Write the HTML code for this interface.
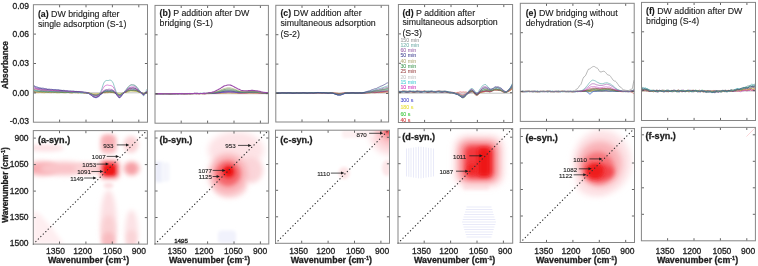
<!DOCTYPE html>
<html><head><meta charset="utf-8"><style>
html,body{margin:0;padding:0;background:#fff;}
svg{display:block;filter:blur(0.3px);}
</style></head><body>
<svg width="758" height="266" viewBox="0 0 758 266" font-family='"Liberation Sans", sans-serif'>
<rect width="758" height="266" fill="#fff"/>
<defs>
<filter id="bl1" x="-50%" y="-50%" width="200%" height="200%"><feGaussianBlur stdDeviation="2.5"/></filter>
<filter id="bl2" x="-50%" y="-50%" width="200%" height="200%"><feGaussianBlur stdDeviation="4"/></filter>
<filter id="bl3" x="-50%" y="-50%" width="200%" height="200%"><feGaussianBlur stdDeviation="1.2"/></filter>
<clipPath id="cba"><rect x="33.3" y="130.6" width="114.10000000000001" height="113.5"/></clipPath>
<clipPath id="cbb"><rect x="155.0" y="131.0" width="113.80000000000001" height="113.0"/></clipPath>
<clipPath id="cbc"><rect x="275.5" y="130.2" width="114.0" height="113.10000000000002"/></clipPath>
<clipPath id="cbd"><rect x="398.0" y="128.6" width="114.70000000000005" height="114.6"/></clipPath>
<clipPath id="cbe"><rect x="520.3" y="128.6" width="114.20000000000005" height="113.9"/></clipPath>
<clipPath id="cbf"><rect x="641.4" y="127.4" width="114.0" height="113.4"/></clipPath>
<clipPath id="cta"><rect x="33.4" y="4.7" width="114.1" height="117.5"/></clipPath>
<clipPath id="ctb"><rect x="155.0" y="5.4" width="113.39999999999998" height="117.8"/></clipPath>
<clipPath id="ctc"><rect x="275.8" y="5.3" width="112.80000000000001" height="116.7"/></clipPath>
<clipPath id="ctd"><rect x="398.4" y="4.5" width="114.20000000000005" height="118.0"/></clipPath>
<clipPath id="cte"><rect x="520.3" y="3.3" width="113.90000000000009" height="118.10000000000001"/></clipPath>
<clipPath id="ctf"><rect x="641.5" y="2.4" width="114.0" height="118.1"/></clipPath>
<filter id="g0.6" x="-50%" y="-50%" width="200%" height="200%"><feGaussianBlur stdDeviation="0.6"/></filter>
<filter id="g1.0" x="-50%" y="-50%" width="200%" height="200%"><feGaussianBlur stdDeviation="1.0"/></filter>
<filter id="g1.2" x="-50%" y="-50%" width="200%" height="200%"><feGaussianBlur stdDeviation="1.2"/></filter>
<filter id="g1.5" x="-50%" y="-50%" width="200%" height="200%"><feGaussianBlur stdDeviation="1.5"/></filter>
<filter id="g1.8" x="-50%" y="-50%" width="200%" height="200%"><feGaussianBlur stdDeviation="1.8"/></filter>
<filter id="g2.0" x="-50%" y="-50%" width="200%" height="200%"><feGaussianBlur stdDeviation="2.0"/></filter>
<filter id="g2.2" x="-50%" y="-50%" width="200%" height="200%"><feGaussianBlur stdDeviation="2.2"/></filter>
<filter id="g2.5" x="-50%" y="-50%" width="200%" height="200%"><feGaussianBlur stdDeviation="2.5"/></filter>
<filter id="g3.0" x="-50%" y="-50%" width="200%" height="200%"><feGaussianBlur stdDeviation="3.0"/></filter>
<filter id="g3.5" x="-50%" y="-50%" width="200%" height="200%"><feGaussianBlur stdDeviation="3.5"/></filter>
<filter id="g4.0" x="-50%" y="-50%" width="200%" height="200%"><feGaussianBlur stdDeviation="4.0"/></filter>
</defs>
<g clip-path="url(#cba)">
<ellipse cx="46.0" cy="148.0" rx="18.0" ry="3.6" fill="#fde0e3" fill-opacity="1" filter="url(#g2.0)"/>
<ellipse cx="42.0" cy="168.5" rx="16.0" ry="7.0" fill="#f8adb2" fill-opacity="1" filter="url(#g2.5)"/>
<ellipse cx="64.0" cy="168.5" rx="24.0" ry="6.8" fill="#fac5c9" fill-opacity="1" filter="url(#g2.5)"/>
<ellipse cx="88.0" cy="168.5" rx="14.0" ry="6.0" fill="#fbd3d6" fill-opacity="1" filter="url(#g2.0)"/>
<rect x="100.5" y="134.5" width="16.0" height="19.0" rx="5.0" fill="#f9bcc0" fill-opacity="1" filter="url(#g2.0)"/>
<ellipse cx="108.5" cy="141.0" rx="5.5" ry="5.0" fill="#f7abb0" fill-opacity="0.8" filter="url(#g2.0)"/>
<ellipse cx="131.0" cy="144.5" rx="7.5" ry="8.5" fill="#fbd3d6" fill-opacity="1" filter="url(#g2.0)"/>
<ellipse cx="131.5" cy="168.5" rx="8.5" ry="7.5" fill="#f9b9bd" fill-opacity="1" filter="url(#g2.0)"/>
<ellipse cx="131.5" cy="168.5" rx="4.5" ry="4.5" fill="#f6a0a5" fill-opacity="0.9" filter="url(#g1.5)"/>
<rect x="99.0" y="159.5" width="21.0" height="20.0" rx="6.0" fill="#f8a0a5" fill-opacity="1" filter="url(#g2.0)"/>
<rect x="101.5" y="162.0" width="16.0" height="15.0" rx="5.0" fill="#f45a60" fill-opacity="1" filter="url(#g1.5)"/>
<rect x="104.0" y="165.0" width="11.0" height="10.0" rx="3.0" fill="#ef1518" fill-opacity="1" filter="url(#g1.2)"/>
<ellipse cx="108.5" cy="222.0" rx="8.0" ry="32.0" fill="#fce0e3" fill-opacity="1" filter="url(#g2.5)"/>
<ellipse cx="108.5" cy="232.0" rx="7.0" ry="17.0" fill="#fad0d3" fill-opacity="1" filter="url(#g2.5)"/>
<ellipse cx="108.5" cy="240.0" rx="6.0" ry="8.0" fill="#f8bcc0" fill-opacity="1" filter="url(#g2.0)"/>
<ellipse cx="131.5" cy="232.0" rx="6.5" ry="22.0" fill="#fce2e5" fill-opacity="1" filter="url(#g2.5)"/>
<ellipse cx="131.5" cy="238.0" rx="5.0" ry="8.0" fill="#fad4d7" fill-opacity="1" filter="url(#g2.0)"/>
<ellipse cx="108.5" cy="185.5" rx="5.0" ry="3.0" fill="#fcdfe2" fill-opacity="1" filter="url(#g1.5)"/>
<path d="M33,211 L40,214 L52,228 L64,244 L33,244 Z" fill="#feeef0" filter="url(#g2.0)"/>
</g>
<g clip-path="url(#cbb)">
<rect x="155.0" y="161.5" width="8.0" height="21.0" rx="2.4" fill="#eceefa" fill-opacity="1" filter="url(#g1.5)"/>
<rect x="161.5" y="162.5" width="8.0" height="19.0" rx="2.4" fill="#f4f5fc" fill-opacity="1" filter="url(#g1.5)"/>
<ellipse cx="236.0" cy="150.0" rx="28.0" ry="18.0" fill="#fde3e6" fill-opacity="1" filter="url(#g3.0)"/>
<ellipse cx="251.0" cy="170.0" rx="12.0" ry="13.0" fill="#fbd5d9" fill-opacity="1" filter="url(#g2.5)"/>
<ellipse cx="230.0" cy="186.0" rx="17.0" ry="12.0" fill="#fcdadd" fill-opacity="1" filter="url(#g2.5)"/>
<ellipse cx="228.0" cy="174.0" rx="19.0" ry="20.0" fill="#f9b0b5" fill-opacity="1" filter="url(#g3.0)"/>
<ellipse cx="228.0" cy="173.5" rx="12.5" ry="12.5" fill="#f5686d" fill-opacity="1" filter="url(#g2.2)"/>
<ellipse cx="228.5" cy="172.0" rx="7.0" ry="7.0" fill="#f13a3e" fill-opacity="1" filter="url(#g1.8)"/>
<ellipse cx="228.5" cy="171.5" rx="4.0" ry="4.0" fill="#ee1010" fill-opacity="1" filter="url(#g1.2)"/>
<rect x="218.0" y="230.5" width="18.0" height="13.0" rx="3.9" fill="#f1f2fc" fill-opacity="1" filter="url(#g1.5)"/>
</g>
<g clip-path="url(#cbc)">
<ellipse cx="392.0" cy="128.0" rx="24.0" ry="28.0" fill="#fde0e3" fill-opacity="1" filter="url(#g3.0)"/>
<ellipse cx="391.0" cy="129.0" rx="15.0" ry="18.0" fill="#fbc3c7" fill-opacity="1" filter="url(#g3.0)"/>
<ellipse cx="390.0" cy="130.0" rx="8.0" ry="9.0" fill="#f5868c" fill-opacity="1" filter="url(#g2.5)"/>
<ellipse cx="389.0" cy="130.0" rx="4.0" ry="4.0" fill="#f04a50" fill-opacity="1" filter="url(#g1.5)"/>
<ellipse cx="344.0" cy="173.0" rx="5.5" ry="6.0" fill="#fde3e5" fill-opacity="1" filter="url(#g1.5)"/>
<ellipse cx="387.0" cy="168.0" rx="5.0" ry="8.0" fill="#fde6e8" fill-opacity="1" filter="url(#g1.5)"/>
<rect x="342.0" y="130.0" width="32.0" height="8.0" rx="2.4" fill="#fdf0f1" fill-opacity="1" filter="url(#g1.5)"/>
</g>
<g clip-path="url(#cbd)">
<g filter="url(#g0.6)"><rect x="406.0" y="148.5" width="1.0" height="27.9" fill="#c4c8f0" fill-opacity="0.38"/><rect x="408.3" y="148.2" width="1.0" height="28.6" fill="#c4c8f0" fill-opacity="0.38"/><rect x="410.5" y="147.8" width="1.0" height="29.3" fill="#c4c8f0" fill-opacity="0.38"/><rect x="413.0" y="147.5" width="1.0" height="30.1" fill="#c4c8f0" fill-opacity="0.38"/><rect x="415.5" y="147.1" width="1.0" height="30.8" fill="#c4c8f0" fill-opacity="0.38"/><rect x="418.0" y="146.7" width="1.0" height="31.6" fill="#c4c8f0" fill-opacity="0.38"/><rect x="420.5" y="146.7" width="1.0" height="31.7" fill="#c4c8f0" fill-opacity="0.38"/><rect x="423.0" y="147.0" width="1.0" height="30.9" fill="#c4c8f0" fill-opacity="0.38"/><rect x="425.5" y="147.4" width="1.0" height="30.2" fill="#c4c8f0" fill-opacity="0.38"/><rect x="428.0" y="147.8" width="1.0" height="29.4" fill="#c4c8f0" fill-opacity="0.38"/><rect x="430.5" y="148.2" width="1.0" height="28.7" fill="#c4c8f0" fill-opacity="0.38"/><rect x="433.0" y="148.5" width="1.0" height="27.9" fill="#c4c8f0" fill-opacity="0.38"/><rect x="466.5" y="206.5" width="25.0" height="1.0" fill="#c4c8f0" fill-opacity="0.38"/><rect x="465.8" y="209.0" width="26.5" height="1.0" fill="#c4c8f0" fill-opacity="0.38"/><rect x="465.0" y="211.5" width="28.0" height="1.0" fill="#c4c8f0" fill-opacity="0.38"/><rect x="464.2" y="214.0" width="29.5" height="1.0" fill="#c4c8f0" fill-opacity="0.38"/><rect x="463.5" y="216.5" width="31.0" height="1.0" fill="#c4c8f0" fill-opacity="0.38"/><rect x="462.8" y="219.0" width="32.5" height="1.0" fill="#c4c8f0" fill-opacity="0.38"/><rect x="462.0" y="221.5" width="34.0" height="1.0" fill="#c4c8f0" fill-opacity="0.38"/><rect x="462.8" y="224.0" width="32.5" height="1.0" fill="#c4c8f0" fill-opacity="0.38"/><rect x="463.5" y="226.5" width="31.0" height="1.0" fill="#c4c8f0" fill-opacity="0.38"/><rect x="464.2" y="229.0" width="29.5" height="1.0" fill="#c4c8f0" fill-opacity="0.38"/><rect x="465.0" y="231.5" width="28.0" height="1.0" fill="#c4c8f0" fill-opacity="0.38"/><rect x="465.8" y="234.0" width="26.5" height="1.0" fill="#c4c8f0" fill-opacity="0.38"/><rect x="466.5" y="236.5" width="25.0" height="1.0" fill="#c4c8f0" fill-opacity="0.38"/></g>
<rect x="463.0" y="184.0" width="26.0" height="6.0" rx="1.8" fill="#fde8ea" fill-opacity="1" filter="url(#g1.5)"/>
<rect x="455.0" y="136.0" width="48.0" height="50.0" rx="12.0" fill="#fcd0d4" fill-opacity="1" filter="url(#g3.5)"/>
<rect x="459.5" y="141.5" width="38.0" height="40.0" rx="9.0" fill="#f88a90" fill-opacity="1" filter="url(#g3.0)"/>
<rect x="465.0" y="146.0" width="28.0" height="32.0" rx="6.0" fill="#f3383e" fill-opacity="1" filter="url(#g2.5)"/>
<rect x="478.0" y="148.0" width="12.0" height="28.0" rx="3.0" fill="#ee1414" fill-opacity="1" filter="url(#g2.0)"/>
<ellipse cx="472.0" cy="169.0" rx="5.0" ry="5.0" fill="#f02020" fill-opacity="1" filter="url(#g2.0)"/>
</g>
<g clip-path="url(#cbe)">
<ellipse cx="602.0" cy="162.0" rx="29.0" ry="32.0" fill="#fde2e5" fill-opacity="1" filter="url(#g3.0)"/>
<ellipse cx="595.0" cy="184.0" rx="18.0" ry="12.0" fill="#fde2e5" fill-opacity="1" filter="url(#g3.0)"/>
<ellipse cx="600.0" cy="164.0" rx="22.0" ry="23.0" fill="#f9b3b8" fill-opacity="1" filter="url(#g3.0)"/>
<ellipse cx="598.0" cy="168.0" rx="16.0" ry="16.0" fill="#f6747a" fill-opacity="1" filter="url(#g2.5)"/>
<ellipse cx="600.0" cy="172.0" rx="14.0" ry="8.0" fill="#f3454b" fill-opacity="1" filter="url(#g2.5)"/>
<ellipse cx="595.0" cy="171.0" rx="9.0" ry="8.0" fill="#ef1a1a" fill-opacity="1" filter="url(#g2.0)"/>
</g>
<g clip-path="url(#cbf)">
</g>
<line x1="33.3" y1="244.1" x2="146.8" y2="130.6" stroke="#303030" stroke-width="1.15" stroke-linecap="round" stroke-dasharray="0.3,3.2"/>
<line x1="155.0" y1="244.0" x2="268.0" y2="131.0" stroke="#303030" stroke-width="1.15" stroke-linecap="round" stroke-dasharray="0.3,3.2"/>
<line x1="275.5" y1="243.3" x2="388.6" y2="130.2" stroke="#303030" stroke-width="1.15" stroke-linecap="round" stroke-dasharray="0.3,3.2"/>
<line x1="398.0" y1="243.2" x2="512.6" y2="128.6" stroke="#303030" stroke-width="1.15" stroke-linecap="round" stroke-dasharray="0.3,3.2"/>
<line x1="520.3" y1="242.5" x2="634.2" y2="128.6" stroke="#303030" stroke-width="1.15" stroke-linecap="round" stroke-dasharray="0.3,3.2"/>
<line x1="746.5" y1="136.5" x2="755.4" y2="127.6" stroke="#f9c4c7" stroke-width="0.7"/>
<g stroke="#858585" stroke-width="0.8" fill="none">
<g stroke="#555" stroke-width="0.9">
<line x1="59.50" y1="244.10" x2="59.50" y2="241.50"/>
<line x1="59.50" y1="130.60" x2="59.50" y2="133.20"/>
<line x1="85.90" y1="244.10" x2="85.90" y2="241.50"/>
<line x1="85.90" y1="130.60" x2="85.90" y2="133.20"/>
<line x1="112.30" y1="244.10" x2="112.30" y2="241.50"/>
<line x1="112.30" y1="130.60" x2="112.30" y2="133.20"/>
<line x1="138.70" y1="244.10" x2="138.70" y2="241.50"/>
<line x1="138.70" y1="130.60" x2="138.70" y2="133.20"/>
<line x1="33.30" y1="217.60" x2="35.90" y2="217.60"/>
<line x1="147.40" y1="217.60" x2="144.80" y2="217.60"/>
<line x1="33.30" y1="191.10" x2="35.90" y2="191.10"/>
<line x1="147.40" y1="191.10" x2="144.80" y2="191.10"/>
<line x1="33.30" y1="164.60" x2="35.90" y2="164.60"/>
<line x1="147.40" y1="164.60" x2="144.80" y2="164.60"/>
<line x1="33.30" y1="138.10" x2="35.90" y2="138.10"/>
<line x1="147.40" y1="138.10" x2="144.80" y2="138.10"/>
</g>
<rect x="33.30" y="130.60" width="114.10" height="113.50" fill="none" stroke="#858585" stroke-width="1"/>
<g stroke="#555" stroke-width="0.9">
<line x1="181.20" y1="244.00" x2="181.20" y2="241.40"/>
<line x1="181.20" y1="131.00" x2="181.20" y2="133.60"/>
<line x1="207.60" y1="244.00" x2="207.60" y2="241.40"/>
<line x1="207.60" y1="131.00" x2="207.60" y2="133.60"/>
<line x1="234.00" y1="244.00" x2="234.00" y2="241.40"/>
<line x1="234.00" y1="131.00" x2="234.00" y2="133.60"/>
<line x1="260.40" y1="244.00" x2="260.40" y2="241.40"/>
<line x1="260.40" y1="131.00" x2="260.40" y2="133.60"/>
<line x1="155.00" y1="217.50" x2="157.60" y2="217.50"/>
<line x1="268.80" y1="217.50" x2="266.20" y2="217.50"/>
<line x1="155.00" y1="191.00" x2="157.60" y2="191.00"/>
<line x1="268.80" y1="191.00" x2="266.20" y2="191.00"/>
<line x1="155.00" y1="164.50" x2="157.60" y2="164.50"/>
<line x1="268.80" y1="164.50" x2="266.20" y2="164.50"/>
<line x1="155.00" y1="138.00" x2="157.60" y2="138.00"/>
<line x1="268.80" y1="138.00" x2="266.20" y2="138.00"/>
</g>
<rect x="155.00" y="131.00" width="113.80" height="113.00" fill="none" stroke="#858585" stroke-width="1"/>
<g stroke="#555" stroke-width="0.9">
<line x1="301.70" y1="243.30" x2="301.70" y2="240.70"/>
<line x1="301.70" y1="130.20" x2="301.70" y2="132.80"/>
<line x1="328.10" y1="243.30" x2="328.10" y2="240.70"/>
<line x1="328.10" y1="130.20" x2="328.10" y2="132.80"/>
<line x1="354.50" y1="243.30" x2="354.50" y2="240.70"/>
<line x1="354.50" y1="130.20" x2="354.50" y2="132.80"/>
<line x1="380.90" y1="243.30" x2="380.90" y2="240.70"/>
<line x1="380.90" y1="130.20" x2="380.90" y2="132.80"/>
<line x1="275.50" y1="216.80" x2="278.10" y2="216.80"/>
<line x1="389.50" y1="216.80" x2="386.90" y2="216.80"/>
<line x1="275.50" y1="190.30" x2="278.10" y2="190.30"/>
<line x1="389.50" y1="190.30" x2="386.90" y2="190.30"/>
<line x1="275.50" y1="163.80" x2="278.10" y2="163.80"/>
<line x1="389.50" y1="163.80" x2="386.90" y2="163.80"/>
<line x1="275.50" y1="137.30" x2="278.10" y2="137.30"/>
<line x1="389.50" y1="137.30" x2="386.90" y2="137.30"/>
</g>
<rect x="275.50" y="130.20" width="114.00" height="113.10" fill="none" stroke="#858585" stroke-width="1"/>
<g stroke="#555" stroke-width="0.9">
<line x1="424.20" y1="243.20" x2="424.20" y2="240.60"/>
<line x1="424.20" y1="128.60" x2="424.20" y2="131.20"/>
<line x1="450.60" y1="243.20" x2="450.60" y2="240.60"/>
<line x1="450.60" y1="128.60" x2="450.60" y2="131.20"/>
<line x1="477.00" y1="243.20" x2="477.00" y2="240.60"/>
<line x1="477.00" y1="128.60" x2="477.00" y2="131.20"/>
<line x1="503.40" y1="243.20" x2="503.40" y2="240.60"/>
<line x1="503.40" y1="128.60" x2="503.40" y2="131.20"/>
<line x1="398.00" y1="216.70" x2="400.60" y2="216.70"/>
<line x1="512.70" y1="216.70" x2="510.10" y2="216.70"/>
<line x1="398.00" y1="190.20" x2="400.60" y2="190.20"/>
<line x1="512.70" y1="190.20" x2="510.10" y2="190.20"/>
<line x1="398.00" y1="163.70" x2="400.60" y2="163.70"/>
<line x1="512.70" y1="163.70" x2="510.10" y2="163.70"/>
<line x1="398.00" y1="137.20" x2="400.60" y2="137.20"/>
<line x1="512.70" y1="137.20" x2="510.10" y2="137.20"/>
</g>
<rect x="398.00" y="128.60" width="114.70" height="114.60" fill="none" stroke="#858585" stroke-width="1"/>
<g stroke="#555" stroke-width="0.9">
<line x1="546.50" y1="242.50" x2="546.50" y2="239.90"/>
<line x1="546.50" y1="128.60" x2="546.50" y2="131.20"/>
<line x1="572.90" y1="242.50" x2="572.90" y2="239.90"/>
<line x1="572.90" y1="128.60" x2="572.90" y2="131.20"/>
<line x1="599.30" y1="242.50" x2="599.30" y2="239.90"/>
<line x1="599.30" y1="128.60" x2="599.30" y2="131.20"/>
<line x1="625.70" y1="242.50" x2="625.70" y2="239.90"/>
<line x1="625.70" y1="128.60" x2="625.70" y2="131.20"/>
<line x1="520.30" y1="216.00" x2="522.90" y2="216.00"/>
<line x1="634.50" y1="216.00" x2="631.90" y2="216.00"/>
<line x1="520.30" y1="189.50" x2="522.90" y2="189.50"/>
<line x1="634.50" y1="189.50" x2="631.90" y2="189.50"/>
<line x1="520.30" y1="163.00" x2="522.90" y2="163.00"/>
<line x1="634.50" y1="163.00" x2="631.90" y2="163.00"/>
<line x1="520.30" y1="136.50" x2="522.90" y2="136.50"/>
<line x1="634.50" y1="136.50" x2="631.90" y2="136.50"/>
</g>
<rect x="520.30" y="128.60" width="114.20" height="113.90" fill="none" stroke="#858585" stroke-width="1"/>
<g stroke="#555" stroke-width="0.9">
<line x1="667.60" y1="240.80" x2="667.60" y2="238.20"/>
<line x1="667.60" y1="127.40" x2="667.60" y2="130.00"/>
<line x1="694.00" y1="240.80" x2="694.00" y2="238.20"/>
<line x1="694.00" y1="127.40" x2="694.00" y2="130.00"/>
<line x1="720.40" y1="240.80" x2="720.40" y2="238.20"/>
<line x1="720.40" y1="127.40" x2="720.40" y2="130.00"/>
<line x1="746.80" y1="240.80" x2="746.80" y2="238.20"/>
<line x1="746.80" y1="127.40" x2="746.80" y2="130.00"/>
<line x1="641.40" y1="214.30" x2="644.00" y2="214.30"/>
<line x1="755.40" y1="214.30" x2="752.80" y2="214.30"/>
<line x1="641.40" y1="187.80" x2="644.00" y2="187.80"/>
<line x1="755.40" y1="187.80" x2="752.80" y2="187.80"/>
<line x1="641.40" y1="161.30" x2="644.00" y2="161.30"/>
<line x1="755.40" y1="161.30" x2="752.80" y2="161.30"/>
<line x1="641.40" y1="134.80" x2="644.00" y2="134.80"/>
<line x1="755.40" y1="134.80" x2="752.80" y2="134.80"/>
</g>
<rect x="641.40" y="127.40" width="114.00" height="113.40" fill="none" stroke="#858585" stroke-width="1"/>
</g>
<g clip-path="url(#cta)">
<line x1="33.4" y1="92.8" x2="147.5" y2="92.8" stroke="#a8a8a8" stroke-width="0.7"/>
<polyline points="33.4,88.87 34.4,89.50 35.3,89.68 36.3,89.85 37.2,90.03 38.2,89.90 39.1,89.95 40.1,90.29 41.0,90.40 42.0,90.50 42.9,90.74 43.9,90.68 44.8,90.54 45.8,90.75 46.7,90.88 47.7,90.92 48.6,91.22 49.6,91.32 50.5,91.10 51.5,91.09 52.4,91.10 53.4,90.95 54.3,91.11 55.3,91.36 56.2,91.28 57.2,91.27 58.1,91.35 59.1,91.17 60.0,91.19 61.0,91.51 61.9,91.63 62.9,91.71 63.8,91.94 64.8,91.85 65.7,91.66 66.7,91.79 67.6,91.86 68.6,91.83 69.5,92.07 70.5,92.13 71.4,91.89 72.4,91.86 73.3,91.88 74.3,91.76 75.2,91.95 76.2,92.26 77.1,92.23 78.1,92.26 79.0,92.38 80.0,92.23 80.9,92.22 81.9,92.53 82.8,92.61 83.8,92.65 84.7,92.84 85.7,92.75 86.6,92.57 87.6,92.78 88.5,93.01 89.5,93.22 90.4,93.78 91.4,94.24 92.4,94.40 93.3,94.73 94.3,95.05 95.2,95.07 96.2,95.23 97.1,95.35 98.1,95.01 99.0,94.61 100.0,94.22 100.9,93.50 101.9,92.86 102.8,92.58 103.8,92.20 104.7,91.88 105.7,91.85 106.6,91.62 107.6,91.31 108.5,91.38 109.5,91.45 110.4,91.44 111.4,91.73 112.3,91.97 113.3,91.97 114.2,92.29 115.2,92.84 116.1,93.38 117.1,94.35 118.0,95.44 119.0,95.90 119.9,95.83 120.9,95.31 121.8,94.23 122.8,93.26 123.7,92.77 124.7,92.19 125.6,91.54 126.6,91.02 127.5,90.24 128.5,89.41 129.4,89.08 130.4,88.93 131.3,88.81 132.3,89.04 133.2,89.16 134.2,88.99 135.1,89.10 136.1,89.46 137.0,89.80 138.0,90.53 138.9,91.43 139.9,91.92 140.8,92.31 141.8,92.87 142.7,93.27 143.7,93.42 144.6,93.32 145.6,92.90 146.5,92.61 147.5,92.63" stroke="#983838" stroke-width="0.6" fill="none"/>
<polyline points="33.4,92.00 34.4,92.06 35.3,92.40 36.3,92.50 37.2,92.52 38.2,92.69 39.1,92.57 40.1,92.38 41.0,92.55 42.0,92.64 42.9,92.60 43.9,92.78 44.8,92.77 45.8,92.46 46.7,92.39 47.7,92.41 48.6,92.29 49.6,92.45 50.5,92.69 51.5,92.57 52.4,92.52 53.4,92.60 54.3,92.44 55.3,92.47 56.2,92.78 57.2,92.84 58.1,92.81 59.1,92.91 60.0,92.73 61.0,92.48 61.9,92.58 62.9,92.63 63.8,92.57 64.8,92.74 65.7,92.75 66.7,92.47 67.6,92.45 68.6,92.53 69.5,92.46 70.5,92.66 71.4,92.95 72.4,92.86 73.3,92.80 74.3,92.86 75.2,92.67 76.2,92.63 77.1,92.89 78.1,92.90 79.0,92.81 80.0,92.88 80.9,92.69 81.9,92.42 82.8,92.54 83.8,92.65 84.7,92.64 85.7,92.88 86.6,92.99 87.6,92.82 88.5,92.90 89.5,93.10 90.4,93.15 91.4,93.47 92.4,93.86 93.3,93.86 94.3,93.83 95.2,93.88 96.2,93.64 97.1,93.48 98.1,93.60 99.0,93.47 100.0,93.23 100.9,93.16 101.9,92.85 102.8,92.48 103.8,92.52 104.7,92.58 105.7,92.54 106.6,92.75 107.6,92.82 108.5,92.56 109.5,92.51 110.4,92.56 111.4,92.44 112.3,92.56 113.3,92.82 114.2,92.75 115.2,92.75 116.1,92.96 117.1,93.03 118.0,93.24 119.0,93.72 119.9,93.81 120.9,93.61 121.8,93.49 122.8,93.12 123.7,92.66 124.7,92.59 125.6,92.48 126.6,92.19 127.5,92.10 128.5,91.91 129.4,91.44 130.4,91.23 131.3,91.21 132.3,91.06 133.2,91.16 134.2,91.43 135.1,91.39 136.1,91.42 137.0,91.69 138.0,91.79 138.9,92.02 139.9,92.56 140.8,92.85 141.8,93.04 142.7,93.45 143.7,93.44 144.6,92.98 145.6,92.85 146.5,92.86 147.5,92.76" stroke="#d8cc3c" stroke-width="0.6" fill="none"/>
<polyline points="33.4,85.86 34.4,86.54 35.3,87.16 36.3,87.77 37.2,87.91 38.2,87.96 39.1,88.22 40.1,88.31 41.0,88.44 42.0,88.89 42.9,89.11 43.9,89.10 44.8,89.28 45.8,89.32 46.7,89.23 47.7,89.48 48.6,89.76 49.6,89.77 50.5,89.92 51.5,90.00 52.4,89.75 53.4,89.72 54.3,89.91 55.3,89.93 56.2,90.08 57.2,90.37 58.1,90.31 59.1,90.22 60.0,90.39 61.0,90.43 61.9,90.50 62.9,90.90 63.8,91.07 64.8,91.00 65.7,91.11 66.7,91.08 67.6,90.90 68.6,91.08 69.5,91.30 70.5,91.27 71.4,91.39 72.4,91.48 73.3,91.25 74.3,91.24 75.2,91.48 76.2,91.54 77.1,91.73 78.1,92.06 79.0,92.03 80.0,91.93 80.9,92.08 81.9,92.08 82.8,92.11 83.8,92.46 84.7,92.63 85.7,92.59 86.6,92.80 87.6,92.99 88.5,93.16 89.5,93.83 90.4,94.71 91.4,95.42 92.4,96.30 93.3,97.09 94.3,97.38 95.2,97.60 96.2,97.75 97.1,97.42 98.1,96.95 99.0,96.48 100.0,95.56 100.9,94.51 101.9,93.76 102.8,92.97 103.8,92.35 104.7,92.24 105.7,92.10 106.6,91.81 107.6,91.78 108.5,91.69 109.5,91.47 110.4,91.63 111.4,91.91 112.3,91.99 113.3,92.29 114.2,92.73 115.2,93.05 116.1,93.84 117.1,95.17 118.0,96.36 119.0,97.23 119.9,97.47 120.9,96.54 121.8,95.07 122.8,93.92 123.7,92.93 124.7,92.20 125.6,91.92 126.6,91.51 127.5,90.86 128.5,90.47 129.4,90.12 130.4,89.73 131.3,89.79 132.3,90.01 133.2,89.98 134.2,90.08 135.1,90.27 136.1,90.24 137.0,90.48 138.0,91.09 138.9,91.54 139.9,92.02 140.8,92.62 141.8,92.96 142.7,93.33 143.7,93.63 144.6,93.23 145.6,92.58 146.5,92.42 147.5,92.24" stroke="#4444c8" stroke-width="0.6" fill="none"/>
<polyline points="33.4,90.40 34.4,90.61 35.3,90.74 36.3,90.65 37.2,90.85 38.2,91.17 39.1,91.17 40.1,91.25 41.0,91.39 42.0,91.21 42.9,91.18 43.9,91.46 44.8,91.55 45.8,91.65 46.7,91.91 47.7,91.84 48.6,91.62 49.6,91.69 50.5,91.68 51.5,91.60 52.4,91.84 53.4,91.94 54.3,91.74 55.3,91.73 56.2,91.72 57.2,91.55 58.1,91.70 59.1,92.01 60.0,92.03 61.0,92.10 61.9,92.23 62.9,92.04 63.8,91.97 64.8,92.20 65.7,92.24 66.7,92.27 67.6,92.47 68.6,92.35 69.5,92.08 70.5,92.11 71.4,92.10 72.4,92.04 73.3,92.30 74.3,92.46 75.2,92.31 76.2,92.35 77.1,92.39 78.1,92.25 79.0,92.41 80.0,92.72 80.9,92.72 81.9,92.75 82.8,92.84 83.8,92.61 84.7,92.49 85.7,92.71 86.6,92.80 87.6,92.92 88.5,93.31 89.5,93.47 90.4,93.54 91.4,93.98 92.4,94.39 93.3,94.70 94.3,95.24 95.2,95.55 96.2,95.37 97.1,95.20 98.1,94.92 99.0,94.35 100.0,93.97 100.9,93.68 101.9,93.02 102.8,92.42 103.8,92.01 104.7,91.43 105.7,91.09 106.6,91.19 107.6,91.19 108.5,91.20 109.5,91.43 110.4,91.40 111.4,91.23 112.3,91.43 113.3,91.72 114.2,92.07 115.2,92.88 116.1,93.77 117.1,94.43 118.0,95.22 119.0,95.75 119.9,95.53 120.9,95.04 121.8,94.45 122.8,93.59 123.7,92.91 124.7,92.46 125.6,91.74 126.6,91.09 127.5,90.80 128.5,90.43 129.4,90.14 130.4,90.19 131.3,90.07 132.3,89.80 133.2,89.84 134.2,89.89 135.1,89.92 136.1,90.38 137.0,90.90 138.0,91.16 138.9,91.58 139.9,92.01 140.8,92.20 141.8,92.85 142.7,93.96 143.7,94.27 144.6,93.73 145.6,93.03 146.5,92.30 147.5,91.82" stroke="#3cc4cc" stroke-width="0.6" fill="none"/>
<polyline points="33.4,91.31 34.4,91.46 35.3,91.84 36.3,92.02 37.2,91.85 38.2,91.86 39.1,91.86 40.1,91.68 41.0,91.81 42.0,92.05 42.9,91.96 43.9,91.95 44.8,92.01 45.8,91.80 46.7,91.76 47.7,92.04 48.6,92.13 49.6,92.20 50.5,92.43 51.5,92.34 52.4,92.12 53.4,92.22 54.3,92.25 55.3,92.19 56.2,92.41 57.2,92.48 58.1,92.22 59.1,92.17 60.0,92.15 61.0,91.98 61.9,92.13 62.9,92.41 63.8,92.39 64.8,92.41 65.7,92.52 66.7,92.34 67.6,92.29 68.6,92.55 69.5,92.62 70.5,92.63 71.4,92.80 72.4,92.67 73.3,92.38 74.3,92.42 75.2,92.43 76.2,92.36 77.1,92.59 78.1,92.69 79.0,92.49 80.0,92.48 80.9,92.53 81.9,92.41 82.8,92.59 83.8,92.91 84.7,92.92 85.7,92.95 86.6,93.10 87.6,92.97 88.5,93.00 89.5,93.41 90.4,93.68 91.4,93.93 92.4,94.37 93.3,94.49 94.3,94.41 95.2,94.57 96.2,94.59 97.1,94.42 98.1,94.46 99.0,94.33 100.0,93.83 100.9,93.49 101.9,93.20 102.8,92.75 103.8,92.64 104.7,92.75 105.7,92.58 106.6,92.46 107.6,92.45 108.5,92.17 109.5,92.00 110.4,92.19 111.4,92.24 112.3,92.27 113.3,92.55 114.2,92.65 115.2,92.72 116.1,93.30 117.1,94.04 118.0,94.71 119.0,95.43 119.9,95.60 120.9,94.96 121.8,94.22 122.8,93.53 123.7,92.78 124.7,92.39 125.6,92.20 126.6,91.67 127.5,91.16 128.5,90.82 129.4,90.32 130.4,90.03 131.3,90.20 132.3,90.29 133.2,90.32 134.2,90.58 135.1,90.65 136.1,90.63 137.0,91.03 138.0,91.50 138.9,91.85 139.9,92.42 140.8,92.88 141.8,93.18 142.7,93.88 143.7,94.16 144.6,93.39 145.6,92.73 146.5,92.61 147.5,92.39" stroke="#d44444" stroke-width="0.6" fill="none"/>
<polyline points="33.4,91.82 34.4,92.07 35.3,92.11 36.3,92.32 37.2,92.36 38.2,92.07 39.1,92.02 40.1,92.10 41.0,92.00 42.0,92.14 42.9,92.37 43.9,92.24 44.8,92.14 45.8,92.22 46.7,92.12 47.7,92.14 48.6,92.48 49.6,92.58 50.5,92.52 51.5,92.62 52.4,92.49 53.4,92.25 54.3,92.38 55.3,92.49 56.2,92.41 57.2,92.54 58.1,92.55 59.1,92.25 60.0,92.20 61.0,92.31 61.9,92.26 62.9,92.44 63.8,92.72 64.8,92.63 65.7,92.55 66.7,92.63 67.6,92.51 68.6,92.49 69.5,92.78 70.5,92.83 71.4,92.71 72.4,92.75 73.3,92.59 74.3,92.32 75.2,92.44 76.2,92.57 77.1,92.52 78.1,92.69 79.0,92.77 80.0,92.53 80.9,92.52 81.9,92.67 82.8,92.65 83.8,92.82 84.7,93.11 85.7,93.02 86.6,92.92 87.6,93.03 88.5,92.97 89.5,93.04 90.4,93.47 91.4,93.72 92.4,93.81 93.3,94.07 94.3,94.10 95.2,93.94 96.2,94.08 97.1,94.16 98.1,93.99 99.0,93.96 100.0,93.81 100.9,93.29 101.9,92.97 102.8,92.83 103.8,92.56 104.7,92.52 105.7,92.66 106.6,92.45 107.6,92.24 108.5,92.24 109.5,92.06 110.4,91.98 111.4,92.27 112.3,92.40 113.3,92.41 114.2,92.67 115.2,92.83 116.1,92.94 117.1,93.51 118.0,94.12 119.0,94.37 119.9,94.53 120.9,94.33 121.8,93.61 122.8,93.08 123.7,92.79 124.7,92.37 125.6,92.12 126.6,92.00 127.5,91.52 128.5,91.05 129.4,90.89 130.4,90.65 131.3,90.56 132.3,90.86 133.2,91.00 134.2,90.96 135.1,91.16 136.1,91.25 137.0,91.27 138.0,91.69 138.9,92.17 139.9,92.39 140.8,92.76 141.8,93.18 142.7,93.42 143.7,93.51 144.6,93.22 145.6,92.73 146.5,92.69 147.5,92.95" stroke="#a8a468" stroke-width="0.6" fill="none"/>
<polyline points="33.4,91.02 34.4,91.04 35.3,90.99 36.3,91.15 37.2,91.13 38.2,91.19 39.1,91.56 40.1,91.71 41.0,91.66 42.0,91.79 42.9,91.76 43.9,91.60 44.8,91.79 45.8,92.00 46.7,91.96 47.7,92.07 48.6,92.10 49.6,91.79 50.5,91.70 51.5,91.83 52.4,91.77 53.4,91.88 54.3,92.13 55.3,92.02 56.2,91.89 57.2,92.00 58.1,91.96 59.1,91.98 60.0,92.32 61.0,92.44 61.9,92.34 62.9,92.41 63.8,92.32 64.8,92.08 65.7,92.20 66.7,92.36 67.6,92.29 68.6,92.38 69.5,92.42 70.5,92.14 71.4,92.08 72.4,92.26 73.3,92.26 74.3,92.41 75.2,92.71 76.2,92.63 77.1,92.50 78.1,92.60 79.0,92.53 80.0,92.49 80.9,92.78 81.9,92.85 82.8,92.70 83.8,92.73 84.7,92.64 85.7,92.44 86.6,92.64 87.6,92.96 88.5,93.12 89.5,93.51 90.4,93.93 91.4,94.06 92.4,94.39 93.3,94.92 94.3,95.17 95.2,95.40 96.2,95.63 97.1,95.33 98.1,94.83 99.0,94.49 100.0,93.93 100.9,93.36 101.9,93.11 102.8,92.72 103.8,92.21 104.7,92.00 105.7,91.79 106.6,91.51 107.6,91.63 108.5,91.86 109.5,91.85 110.4,91.99 111.4,92.12 112.3,91.95 113.3,92.02 114.2,92.42 115.2,92.74 116.1,93.27 117.1,94.05 118.0,94.46 119.0,94.60 119.9,94.64 120.9,94.18 121.8,93.55 122.8,93.28 123.7,92.95 124.7,92.44 125.6,92.12 126.6,91.66 127.5,91.03 128.5,90.80 129.4,90.74 130.4,90.54 131.3,90.55 132.3,90.59 133.2,90.29 134.2,90.18 135.1,90.39 136.1,90.54 137.0,90.91 138.0,91.55 138.9,91.86 139.9,92.04 140.8,92.44 141.8,92.81 142.7,93.34 143.7,93.87 144.6,93.65 145.6,93.12 146.5,93.03 147.5,92.94" stroke="#3a8a3a" stroke-width="0.6" fill="none"/>
<polyline points="33.4,87.35 34.4,87.96 35.3,88.25 36.3,88.73 37.2,89.21 38.2,89.28 39.1,89.35 40.1,89.48 41.0,89.34 42.0,89.36 42.9,89.70 43.9,89.82 44.8,89.91 45.8,90.17 46.7,90.13 47.7,89.99 48.6,90.20 49.6,90.36 50.5,90.41 51.5,90.71 52.4,90.83 53.4,90.62 54.3,90.61 55.3,90.64 56.2,90.51 57.2,90.68 58.1,90.96 59.1,90.90 60.0,90.89 61.0,91.00 61.9,90.85 62.9,90.87 63.8,91.22 64.8,91.36 65.7,91.44 66.7,91.68 67.6,91.61 68.6,91.42 69.5,91.56 70.5,91.65 71.4,91.63 72.4,91.87 73.3,91.96 74.3,91.72 75.2,91.70 76.2,91.75 77.1,91.65 78.1,91.85 79.0,92.19 80.0,92.18 80.9,92.21 81.9,92.35 82.8,92.22 83.8,92.24 84.7,92.59 85.7,92.75 86.6,92.88 87.6,93.23 88.5,93.37 89.5,93.46 90.4,93.99 91.4,94.56 92.4,95.04 93.3,95.74 94.3,96.20 95.2,96.16 96.2,96.10 97.1,95.92 98.1,95.42 99.0,95.07 100.0,94.75 100.9,93.97 101.9,93.12 102.8,92.41 103.8,91.57 104.7,91.05 105.7,91.03 106.6,90.94 107.6,90.83 108.5,90.93 109.5,90.77 110.4,90.50 111.4,90.65 112.3,90.90 113.3,91.19 114.2,91.91 115.2,92.69 116.1,93.23 117.1,94.01 118.0,94.81 119.0,95.15 119.9,95.29 120.9,95.10 121.8,94.26 122.8,93.35 123.7,92.53 124.7,91.35 125.6,90.06 126.6,88.95 127.5,87.63 128.5,86.40 129.4,85.68 130.4,85.08 131.3,84.62 132.3,84.69 133.2,84.83 134.2,84.94 135.1,85.56 136.1,86.40 137.0,87.23 138.0,88.45 138.9,89.81 139.9,90.81 140.8,91.83 141.8,92.99 142.7,93.87 143.7,94.15 144.6,93.64 145.6,92.63 146.5,91.99 147.5,91.90" stroke="#8c8c8c" stroke-width="0.6" fill="none"/>
<polyline points="33.4,86.16 34.4,86.91 35.3,87.76 36.3,88.21 37.2,88.35 38.2,88.64 39.1,88.75 40.1,88.72 41.0,89.04 42.0,89.30 42.9,89.28 43.9,89.39 44.8,89.45 45.8,89.24 46.7,89.30 47.7,89.58 48.6,89.66 49.6,89.86 50.5,90.15 51.5,90.07 52.4,89.99 53.4,90.19 54.3,90.23 55.3,90.31 56.2,90.65 57.2,90.72 58.1,90.55 59.1,90.60 60.0,90.55 61.0,90.41 61.9,90.64 62.9,90.88 63.8,90.86 64.8,90.98 65.7,91.08 66.7,90.90 67.6,90.98 68.6,91.29 69.5,91.38 70.5,91.55 71.4,91.81 72.4,91.69 73.3,91.54 74.3,91.66 75.2,91.65 76.2,91.66 77.1,91.95 78.1,92.01 79.0,91.84 80.0,91.90 80.9,91.89 81.9,91.78 82.8,92.06 83.8,92.39 84.7,92.45 85.7,92.68 86.6,92.93 87.6,92.97 88.5,93.33 89.5,94.04 90.4,94.63 91.4,95.36 92.4,96.21 93.3,96.62 94.3,96.85 95.2,97.14 96.2,97.03 97.1,96.69 98.1,96.45 99.0,95.83 100.0,94.81 100.9,93.82 101.9,92.60 102.8,91.28 103.8,90.55 104.7,90.16 105.7,89.74 106.6,89.62 107.6,89.57 108.5,89.24 109.5,89.15 110.4,89.33 111.4,89.39 112.3,89.69 113.3,90.38 114.2,91.03 115.2,91.93 116.1,93.36 117.1,94.79 118.0,96.13 119.0,97.32 119.9,97.46 120.9,96.52 121.8,95.33 122.8,94.08 123.7,92.92 124.7,92.27 125.6,91.71 126.6,90.80 127.5,90.01 128.5,89.32 129.4,88.51 130.4,88.13 131.3,88.20 132.3,88.17 133.2,88.25 134.2,88.54 135.1,88.63 136.1,88.86 137.0,89.59 138.0,90.33 138.9,91.09 139.9,92.05 140.8,92.71 141.8,93.31 142.7,94.39 143.7,94.73 144.6,93.74 145.6,92.62 146.5,91.87 147.5,91.09" stroke="#9a4aa8" stroke-width="0.6" fill="none"/>
<polyline points="33.4,85.06 34.4,85.74 35.3,86.41 36.3,86.73 37.2,86.98 38.2,87.51 39.1,87.82 40.1,87.90 41.0,88.14 42.0,88.21 42.9,88.09 43.9,88.33 44.8,88.64 45.8,88.75 46.7,89.04 47.7,89.28 48.6,89.14 49.6,89.14 50.5,89.34 51.5,89.33 52.4,89.48 53.4,89.80 54.3,89.76 55.3,89.64 56.2,89.74 57.2,89.66 58.1,89.63 59.1,89.98 60.0,90.19 61.0,90.20 61.9,90.41 62.9,90.45 63.8,90.31 64.8,90.51 65.7,90.79 66.7,90.84 67.6,91.06 68.6,91.23 69.5,91.02 70.5,90.95 71.4,91.08 72.4,91.04 73.3,91.16 74.3,91.48 75.2,91.47 76.2,91.38 77.1,91.51 78.1,91.49 79.0,91.49 80.0,91.86 80.9,92.10 81.9,92.11 82.8,92.30 83.8,92.33 84.7,92.18 85.7,92.38 86.6,92.74 87.6,92.96 88.5,93.44 89.5,94.03 90.4,94.37 91.4,94.92 92.4,95.73 93.3,96.30 94.3,96.87 95.2,97.42 96.2,97.36 97.1,96.92 98.1,96.49 99.0,95.74 100.0,94.85 100.9,94.18 101.9,93.30 102.8,92.23 103.8,91.50 104.7,90.90 105.7,90.29 106.6,90.18 107.6,90.27 108.5,90.19 109.5,90.29 110.4,90.44 111.4,90.29 112.3,90.39 113.3,90.93 114.2,91.56 115.2,92.59 116.1,94.13 117.1,95.55 118.0,96.80 119.0,97.78 119.9,97.69 120.9,96.67 121.8,95.51 122.8,94.27 123.7,93.05 124.7,92.20 125.6,91.29 126.6,90.14 127.5,89.33 128.5,88.78 129.4,88.23 130.4,88.05 131.3,88.09 132.3,87.86 133.2,87.75 134.2,87.95 135.1,88.13 136.1,88.62 137.0,89.54 138.0,90.28 138.9,90.90 139.9,91.65 140.8,92.16 141.8,92.84 142.7,94.19 143.7,94.77 144.6,93.93 145.6,92.79 146.5,91.84 147.5,90.92" stroke="#34347f" stroke-width="0.6" fill="none"/>
<polyline points="33.4,87.82 34.4,88.45 35.3,88.59 36.3,88.82 37.2,89.16 38.2,89.28 39.1,89.57 40.1,90.02 41.0,90.09 42.0,90.08 42.9,90.23 43.9,90.15 44.8,90.09 45.8,90.39 46.7,90.52 47.7,90.46 48.6,90.59 49.6,90.52 50.5,90.28 51.5,90.39 52.4,90.58 53.4,90.61 54.3,90.85 55.3,91.06 56.2,90.91 57.2,90.90 58.1,91.07 59.1,91.04 60.0,91.19 61.0,91.52 61.9,91.50 62.9,91.38 63.8,91.44 64.8,91.29 65.7,91.18 66.7,91.44 67.6,91.58 68.6,91.54 69.5,91.69 70.5,91.68 71.4,91.48 72.4,91.63 73.3,91.87 74.3,91.91 75.2,92.15 76.2,92.35 77.1,92.16 78.1,92.09 79.0,92.20 80.0,92.12 80.9,92.19 81.9,92.48 82.8,92.43 83.8,92.31 84.7,92.40 85.7,92.34 86.6,92.36 87.6,92.81 88.5,93.23 89.5,93.53 90.4,94.09 91.4,94.54 92.4,94.76 93.3,95.27 94.3,95.75 95.2,95.87 96.2,95.96 97.1,95.86 98.1,95.23 99.0,94.53 100.0,93.73 100.9,92.26 101.9,90.49 102.8,88.84 103.8,87.19 104.7,85.98 105.7,85.49 106.6,85.16 107.6,85.00 108.5,85.27 109.5,85.43 110.4,85.43 111.4,85.78 112.3,86.31 113.3,87.10 114.2,88.72 115.2,90.75 116.1,92.56 117.1,94.27 118.0,95.61 119.0,96.07 119.9,95.97 120.9,95.45 121.8,94.41 122.8,93.49 123.7,92.94 124.7,92.11 125.6,91.07 126.6,90.13 127.5,88.99 128.5,87.94 129.4,87.50 130.4,87.23 131.3,86.94 132.3,86.96 133.2,86.88 134.2,86.65 135.1,86.93 136.1,87.61 137.0,88.37 138.0,89.49 138.9,90.69 139.9,91.40 140.8,92.09 141.8,93.26 142.7,94.61 143.7,95.23 144.6,94.59 145.6,92.94 146.5,91.43 147.5,90.44" stroke="#c83cc0" stroke-width="0.6" fill="none"/>
<polyline points="33.4,89.72 34.4,89.93 35.3,90.24 36.3,90.76 37.2,90.94 38.2,90.97 39.1,91.14 40.1,91.04 41.0,90.89 42.0,91.11 42.9,91.24 43.9,91.20 44.8,91.35 45.8,91.34 46.7,91.07 47.7,91.09 48.6,91.25 49.6,91.24 50.5,91.47 51.5,91.74 52.4,91.63 53.4,91.58 54.3,91.69 55.3,91.60 56.2,91.64 57.2,91.96 58.1,91.98 59.1,91.86 60.0,91.92 61.0,91.75 61.9,91.55 62.9,91.73 63.8,91.88 64.8,91.86 65.7,92.05 66.7,92.10 67.6,91.88 68.6,91.93 69.5,92.12 70.5,92.12 71.4,92.33 72.4,92.58 73.3,92.43 74.3,92.31 75.2,92.36 76.2,92.21 77.1,92.19 78.1,92.47 79.0,92.48 80.0,92.37 80.9,92.44 81.9,92.33 82.8,92.17 83.8,92.41 84.7,92.65 85.7,92.71 86.6,93.00 87.6,93.20 88.5,93.15 89.5,93.41 90.4,93.87 91.4,94.17 92.4,94.66 93.3,95.19 94.3,95.23 95.2,95.18 96.2,95.16 97.1,94.83 98.1,94.49 99.0,94.26 100.0,93.28 100.9,91.32 101.9,88.72 102.8,85.67 103.8,82.99 104.7,81.53 105.7,80.83 106.6,80.45 107.6,80.50 108.5,80.48 109.5,80.17 110.4,80.19 111.4,80.66 112.3,81.53 113.3,83.41 114.2,86.19 115.2,88.97 116.1,91.52 117.1,93.60 118.0,94.79 119.0,95.49 119.9,95.86 120.9,95.42 121.8,94.48 122.8,93.66 123.7,92.67 124.7,91.51 125.6,90.56 126.6,89.42 127.5,88.05 128.5,87.01 129.4,86.17 130.4,85.35 131.3,85.07 132.3,85.14 133.2,85.09 134.2,85.35 135.1,85.97 136.1,86.53 137.0,87.42 138.0,88.74 138.9,89.92 139.9,91.03 140.8,92.32 141.8,93.64 142.7,95.19 143.7,95.87 144.6,94.59 145.6,92.07 146.5,90.14 147.5,88.61" stroke="#4aa3a3" stroke-width="0.6" fill="none"/>
</g>
<g clip-path="url(#ctb)">
<line x1="155.0" y1="93.7" x2="268.4" y2="93.7" stroke="#a8a8a8" stroke-width="0.7"/>
<polyline points="155.0,93.65 155.9,93.60 156.9,93.65 157.8,93.61 158.8,93.66 159.7,93.76 160.7,93.69 161.6,93.61 162.6,93.66 163.5,93.63 164.4,93.63 165.4,93.78 166.3,93.84 167.3,93.78 168.2,93.80 169.2,93.75 170.1,93.63 171.1,93.67 172.0,93.74 173.0,93.70 173.9,93.72 174.8,93.73 175.8,93.59 176.7,93.53 177.7,93.61 178.6,93.60 179.6,93.65 180.5,93.78 181.5,93.76 182.4,93.67 183.3,93.70 184.3,93.68 185.2,93.63 186.2,93.75 187.1,93.80 188.1,93.71 189.0,93.70 190.0,93.66 190.9,93.52 191.9,93.53 192.8,93.63 193.7,93.61 194.7,93.64 195.6,93.70 196.6,93.60 197.5,93.54 198.5,93.63 199.4,93.64 200.4,93.66 201.3,93.79 202.2,93.78 203.2,93.65 204.1,93.64 205.1,93.61 206.0,93.52 207.0,93.59 207.9,93.66 208.9,93.57 209.8,93.54 210.8,93.53 211.7,93.40 212.6,93.39 213.6,93.50 214.5,93.49 215.5,93.49 216.4,93.54 217.4,93.43 218.3,93.29 219.3,93.30 220.2,93.27 221.1,93.21 222.1,93.26 223.0,93.22 224.0,93.04 224.9,92.98 225.9,92.94 226.8,92.84 227.8,92.90 228.7,93.02 229.7,92.99 230.6,92.99 231.5,93.05 232.5,92.98 233.4,92.99 234.4,93.16 235.3,93.23 236.3,93.25 237.2,93.35 238.2,93.31 239.1,93.20 240.0,93.24 241.0,93.27 241.9,93.24 242.9,93.32 243.8,93.36 244.8,93.23 245.7,93.18 246.7,93.19 247.6,93.11 248.6,93.15 249.5,93.28 250.4,93.25 251.4,93.20 252.3,93.23 253.3,93.14 254.2,93.07 255.2,93.18 256.1,93.23 257.1,93.22 258.0,93.29 258.9,93.28 259.9,93.16 260.8,93.20 261.8,93.28 262.7,93.29 263.7,93.41 264.6,93.53 265.6,93.46 266.5,93.44 267.5,93.49 268.4,93.45" stroke="#d8cc3c" stroke-width="0.6" fill="none"/>
<polyline points="155.0,93.74 155.9,93.85 156.9,93.78 157.8,93.78 158.8,93.77 159.7,93.65 160.7,93.65 161.6,93.75 162.6,93.73 163.5,93.71 164.4,93.75 165.4,93.64 166.3,93.54 167.3,93.61 168.2,93.64 169.2,93.64 170.1,93.77 171.1,93.79 172.0,93.68 173.0,93.68 173.9,93.69 174.8,93.63 175.8,93.70 176.7,93.80 177.7,93.71 178.6,93.66 179.6,93.64 180.5,93.51 181.5,93.46 182.4,93.57 183.3,93.57 184.3,93.55 185.2,93.62 186.2,93.55 187.1,93.45 188.1,93.51 189.0,93.56 190.0,93.55 190.9,93.65 191.9,93.69 192.8,93.56 193.7,93.51 194.7,93.51 195.6,93.42 196.6,93.44 197.5,93.54 198.5,93.48 199.4,93.41 200.4,93.42 201.3,93.32 202.2,93.27 203.2,93.39 204.1,93.44 205.1,93.42 206.0,93.48 207.0,93.44 207.9,93.29 208.9,93.30 209.8,93.32 210.8,93.24 211.7,93.26 212.6,93.26 213.6,93.06 214.5,92.92 215.5,92.85 216.4,92.69 217.4,92.61 218.3,92.65 219.3,92.54 220.2,92.37 221.1,92.30 222.1,92.14 223.0,91.98 224.0,92.00 224.9,92.00 225.9,91.90 226.8,91.90 227.8,91.84 228.7,91.68 229.7,91.66 230.6,91.74 231.5,91.74 232.5,91.84 233.4,91.99 234.4,91.97 235.3,91.98 236.3,92.11 237.2,92.16 238.2,92.25 239.1,92.48 240.0,92.57 241.0,92.55 241.9,92.59 242.9,92.55 243.8,92.43 244.8,92.46 245.7,92.49 246.7,92.37 247.6,92.32 248.6,92.25 249.5,92.04 250.4,91.93 251.4,91.96 252.3,91.93 253.3,91.97 254.2,92.10 255.2,92.09 256.1,92.06 257.1,92.18 258.0,92.24 258.9,92.30 259.9,92.52 260.8,92.64 261.8,92.63 262.7,92.69 263.7,92.70 264.6,92.62 265.6,92.69 266.5,92.81 267.5,92.80 268.4,92.83" stroke="#3cc4cc" stroke-width="0.6" fill="none"/>
<polyline points="155.0,93.86 155.9,93.77 156.9,93.76 157.8,93.73 158.8,93.59 159.7,93.59 160.7,93.69 161.6,93.67 162.6,93.68 163.5,93.74 164.4,93.64 165.4,93.57 166.3,93.66 167.3,93.69 168.2,93.71 169.2,93.84 170.1,93.85 171.1,93.73 172.0,93.72 173.0,93.70 173.9,93.62 174.8,93.69 175.8,93.77 176.7,93.69 177.7,93.65 178.6,93.64 179.6,93.53 180.5,93.51 181.5,93.64 182.4,93.67 183.3,93.68 184.3,93.76 185.2,93.70 186.2,93.60 187.1,93.66 188.1,93.69 189.0,93.67 190.0,93.76 190.9,93.77 191.9,93.63 192.8,93.58 193.7,93.57 194.7,93.49 195.6,93.54 196.6,93.66 197.5,93.61 198.5,93.58 199.4,93.61 200.4,93.53 201.3,93.50 202.2,93.64 203.2,93.68 204.1,93.66 205.1,93.73 206.0,93.67 207.0,93.52 207.9,93.52 208.9,93.53 209.8,93.47 210.8,93.52 211.7,93.55 212.6,93.40 213.6,93.31 214.5,93.31 215.5,93.21 216.4,93.21 217.4,93.32 218.3,93.27 219.3,93.17 220.2,93.16 221.1,93.03 222.1,92.90 223.0,92.94 224.0,92.94 224.9,92.85 225.9,92.86 226.8,92.79 227.8,92.62 228.7,92.60 229.7,92.66 230.6,92.64 231.5,92.74 232.5,92.87 233.4,92.83 234.4,92.82 235.3,92.92 236.3,92.93 237.2,92.99 238.2,93.18 239.1,93.23 240.0,93.19 241.0,93.22 241.9,93.15 242.9,93.03 243.8,93.08 244.8,93.12 245.7,93.04 246.7,93.04 247.6,93.01 248.6,92.83 249.5,92.78 250.4,92.84 251.4,92.81 252.3,92.87 253.3,92.99 254.2,92.94 255.2,92.88 256.1,92.94 257.1,92.94 258.0,92.95 258.9,93.12 259.9,93.19 260.8,93.14 261.8,93.19 262.7,93.18 263.7,93.09 264.6,93.18 265.6,93.31 266.5,93.32 267.5,93.38 268.4,93.45" stroke="#d44444" stroke-width="0.6" fill="none"/>
<polyline points="155.0,93.86 155.9,93.78 156.9,93.70 157.8,93.73 158.8,93.69 159.7,93.67 160.7,93.79 161.6,93.79 162.6,93.69 163.5,93.68 164.4,93.63 165.4,93.52 166.3,93.60 167.3,93.71 168.2,93.69 169.2,93.74 170.1,93.78 171.1,93.66 172.0,93.64 173.0,93.74 173.9,93.73 174.8,93.76 175.8,93.85 176.7,93.78 177.7,93.65 178.6,93.65 179.6,93.61 180.5,93.56 181.5,93.67 182.4,93.72 183.3,93.63 184.3,93.64 185.2,93.63 186.2,93.54 187.1,93.60 188.1,93.74 189.0,93.74 190.0,93.76 190.9,93.80 191.9,93.68 192.8,93.60 193.7,93.66 194.7,93.65 195.6,93.64 196.6,93.72 197.5,93.68 198.5,93.54 199.4,93.54 200.4,93.54 201.3,93.50 202.2,93.61 203.2,93.71 204.1,93.64 205.1,93.63 206.0,93.64 207.0,93.53 207.9,93.52 208.9,93.62 209.8,93.58 210.8,93.52 211.7,93.50 212.6,93.33 213.6,93.14 214.5,93.12 215.5,93.05 216.4,92.93 217.4,92.93 218.3,92.82 219.3,92.59 220.2,92.47 221.1,92.37 222.1,92.21 223.0,92.19 224.0,92.21 224.9,92.06 225.9,91.94 226.8,91.89 227.8,91.75 228.7,91.69 229.7,91.82 230.6,91.86 231.5,91.88 232.5,92.00 233.4,92.02 234.4,92.01 235.3,92.18 236.3,92.36 237.2,92.47 238.2,92.69 239.1,92.85 240.0,92.82 241.0,92.87 241.9,92.95 242.9,92.93 243.8,92.98 244.8,93.09 245.7,93.01 246.7,92.90 247.6,92.87 248.6,92.72 249.5,92.62 250.4,92.70 251.4,92.72 252.3,92.69 253.3,92.76 254.2,92.75 255.2,92.67 256.1,92.77 257.1,92.91 258.0,92.96 258.9,93.11 259.9,93.24 260.8,93.19 261.8,93.18 262.7,93.25 263.7,93.23 264.6,93.28 265.6,93.44 266.5,93.44 267.5,93.38 268.4,93.42" stroke="#c83cc0" stroke-width="0.6" fill="none"/>
<polyline points="155.0,93.72 155.9,93.81 156.9,93.84 157.8,93.70 158.8,93.65 159.7,93.65 160.7,93.56 161.6,93.60 162.6,93.73 163.5,93.70 164.4,93.67 165.4,93.71 166.3,93.64 167.3,93.60 168.2,93.73 169.2,93.79 170.1,93.78 171.1,93.84 172.0,93.80 173.0,93.64 173.9,93.64 174.8,93.67 175.8,93.62 176.7,93.68 177.7,93.74 178.6,93.62 179.6,93.56 180.5,93.58 181.5,93.53 182.4,93.56 183.3,93.72 184.3,93.73 185.2,93.68 186.2,93.72 187.1,93.65 188.1,93.57 189.0,93.65 190.0,93.71 190.9,93.66 191.9,93.69 192.8,93.66 193.7,93.50 194.7,93.47 195.6,93.52 196.6,93.49 197.5,93.55 198.5,93.66 199.4,93.58 200.4,93.52 201.3,93.56 202.2,93.52 203.2,93.52 204.1,93.65 205.1,93.66 206.0,93.56 207.0,93.54 207.9,93.44 208.9,93.28 209.8,93.28 210.8,93.29 211.7,93.17 212.6,93.11 213.6,93.02 214.5,92.77 215.5,92.60 216.4,92.54 217.4,92.37 218.3,92.24 219.3,92.18 220.2,91.94 221.1,91.64 222.1,91.47 223.0,91.25 224.0,91.03 224.9,91.00 225.9,90.91 226.8,90.73 227.8,90.67 228.7,90.62 229.7,90.51 230.6,90.61 231.5,90.82 232.5,90.93 233.4,91.12 234.4,91.34 235.3,91.42 236.3,91.54 237.2,91.79 238.2,91.95 239.1,92.10 240.0,92.32 241.0,92.37 241.9,92.28 242.9,92.29 243.8,92.23 244.8,92.11 245.7,92.12 246.7,92.10 247.6,91.92 248.6,91.80 249.5,91.71 250.4,91.52 251.4,91.48 252.3,91.59 253.3,91.60 254.2,91.66 255.2,91.79 256.1,91.80 257.1,91.82 258.0,92.02 258.9,92.18 259.9,92.31 260.8,92.56 261.8,92.69 262.7,92.68 263.7,92.79 264.6,92.88 265.6,92.91 266.5,93.07 267.5,93.24 268.4,93.24" stroke="#983838" stroke-width="0.6" fill="none"/>
<polyline points="155.0,93.62 155.9,93.57 156.9,93.62 157.8,93.76 158.8,93.74 159.7,93.69 160.7,93.73 161.6,93.68 162.6,93.64 163.5,93.77 164.4,93.82 165.4,93.78 166.3,93.81 167.3,93.76 168.2,93.60 169.2,93.61 170.1,93.67 171.1,93.63 172.0,93.68 173.0,93.74 173.9,93.62 174.8,93.56 175.8,93.62 176.7,93.59 177.7,93.63 178.6,93.78 179.6,93.77 180.5,93.69 181.5,93.70 182.4,93.64 183.3,93.54 184.3,93.62 185.2,93.68 186.2,93.61 187.1,93.62 188.1,93.59 189.0,93.44 190.0,93.43 190.9,93.52 191.9,93.51 192.8,93.57 193.7,93.67 194.7,93.59 195.6,93.51 196.6,93.56 197.5,93.53 198.5,93.52 199.4,93.64 200.4,93.64 201.3,93.53 202.2,93.50 203.2,93.44 204.1,93.31 205.1,93.36 206.0,93.44 207.0,93.38 207.9,93.37 208.9,93.37 209.8,93.21 210.8,93.14 211.7,93.20 212.6,93.14 213.6,93.09 214.5,93.09 215.5,92.92 216.4,92.67 217.4,92.55 218.3,92.38 219.3,92.18 220.2,92.12 221.1,91.99 222.1,91.73 223.0,91.57 224.0,91.42 224.9,91.21 225.9,91.17 226.8,91.24 227.8,91.19 228.7,91.20 229.7,91.27 230.6,91.21 231.5,91.22 232.5,91.40 233.4,91.52 234.4,91.63 235.3,91.85 236.3,91.92 237.2,91.90 238.2,92.02 239.1,92.11 240.0,92.14 241.0,92.31 241.9,92.43 242.9,92.36 243.8,92.32 244.8,92.30 245.7,92.15 246.7,92.09 247.6,92.14 248.6,92.05 249.5,91.94 250.4,91.90 251.4,91.73 252.3,91.58 253.3,91.64 254.2,91.68 255.2,91.71 256.1,91.87 257.1,91.97 258.0,91.95 258.9,92.08 259.9,92.25 260.8,92.34 261.8,92.56 262.7,92.80 263.7,92.84 264.6,92.89 265.6,92.97 266.5,92.93 267.5,92.94 268.4,93.09" stroke="#34347f" stroke-width="0.6" fill="none"/>
<polyline points="155.0,93.80 155.9,93.76 156.9,93.76 157.8,93.63 158.8,93.56 159.7,93.66 160.7,93.67 161.6,93.66 162.6,93.74 163.5,93.70 164.4,93.58 165.4,93.63 166.3,93.69 167.3,93.68 168.2,93.79 169.2,93.87 170.1,93.77 171.1,93.72 172.0,93.72 173.0,93.63 173.9,93.63 174.8,93.74 175.8,93.70 176.7,93.63 177.7,93.65 178.6,93.55 179.6,93.47 180.5,93.57 181.5,93.63 182.4,93.62 183.3,93.71 184.3,93.71 185.2,93.58 186.2,93.59 187.1,93.64 188.1,93.60 189.0,93.66 190.0,93.73 190.9,93.61 191.9,93.52 192.8,93.52 193.7,93.43 194.7,93.42 195.6,93.55 196.6,93.56 197.5,93.50 198.5,93.54 199.4,93.49 200.4,93.40 201.3,93.49 202.2,93.58 203.2,93.55 204.1,93.61 205.1,93.61 206.0,93.45 207.0,93.39 207.9,93.41 208.9,93.34 209.8,93.35 210.8,93.41 211.7,93.30 212.6,93.16 213.6,93.14 214.5,93.04 215.5,92.97 216.4,93.05 217.4,93.03 218.3,92.91 219.3,92.86 220.2,92.74 221.1,92.54 222.1,92.50 223.0,92.50 224.0,92.38 224.9,92.34 225.9,92.31 226.8,92.12 227.8,92.02 228.7,92.06 229.7,92.05 230.6,92.10 231.5,92.26 232.5,92.29 233.4,92.26 234.4,92.36 235.3,92.42 236.3,92.45 237.2,92.64 238.2,92.78 239.1,92.76 240.0,92.79 241.0,92.78 241.9,92.64 242.9,92.63 243.8,92.69 244.8,92.62 245.7,92.57 246.7,92.56 247.6,92.39 248.6,92.24 249.5,92.25 250.4,92.21 251.4,92.19 252.3,92.31 253.3,92.32 254.2,92.23 255.2,92.27 256.1,92.30 257.1,92.29 258.0,92.45 258.9,92.61 259.9,92.62 260.8,92.67 261.8,92.74 262.7,92.68 263.7,92.72 264.6,92.89 265.6,92.95 266.5,93.00 267.5,93.12 268.4,93.08" stroke="#4444c8" stroke-width="0.6" fill="none"/>
<polyline points="155.0,93.68 155.9,93.65 156.9,93.76 157.8,93.76 158.8,93.73 159.7,93.77 160.7,93.68 161.6,93.55 162.6,93.59 163.5,93.63 164.4,93.62 165.4,93.73 166.3,93.79 167.3,93.68 168.2,93.67 169.2,93.71 170.1,93.66 171.1,93.72 172.0,93.84 173.0,93.79 173.9,93.72 174.8,93.72 175.8,93.60 176.7,93.52 177.7,93.61 178.6,93.63 179.6,93.59 180.5,93.65 181.5,93.61 182.4,93.48 183.3,93.52 184.3,93.59 185.2,93.58 186.2,93.67 187.1,93.75 188.1,93.63 189.0,93.57 190.0,93.59 190.9,93.51 191.9,93.51 192.8,93.62 193.7,93.58 194.7,93.49 195.6,93.50 196.6,93.41 197.5,93.32 198.5,93.43 199.4,93.50 200.4,93.47 201.3,93.54 202.2,93.53 203.2,93.40 204.1,93.39 205.1,93.45 206.0,93.40 207.0,93.43 207.9,93.47 208.9,93.31 209.8,93.15 210.8,93.09 211.7,92.94 212.6,92.83 213.6,92.84 214.5,92.72 215.5,92.50 216.4,92.36 217.4,92.15 218.3,91.87 219.3,91.76 220.2,91.65 221.1,91.41 222.1,91.25 223.0,91.06 224.0,90.74 224.9,90.53 225.9,90.46 226.8,90.33 227.8,90.29 228.7,90.36 229.7,90.30 230.6,90.25 231.5,90.38 232.5,90.48 233.4,90.62 234.4,90.94 235.3,91.20 236.3,91.33 237.2,91.54 238.2,91.70 239.1,91.76 240.0,91.95 241.0,92.17 241.9,92.22 242.9,92.28 243.8,92.33 244.8,92.18 245.7,92.08 246.7,92.10 247.6,92.04 248.6,91.99 249.5,92.05 250.4,91.97 251.4,91.84 252.3,91.85 253.3,91.86 254.2,91.85 255.2,92.02 256.1,92.17 257.1,92.18 258.0,92.26 258.9,92.34 259.9,92.31 260.8,92.41 261.8,92.60 262.7,92.66 263.7,92.72 264.6,92.83 265.6,92.78 266.5,92.73 267.5,92.84 268.4,92.90" stroke="#4aa3a3" stroke-width="0.6" fill="none"/>
<polyline points="155.0,93.69 155.9,93.66 156.9,93.75 157.8,93.72 158.8,93.59 159.7,93.60 160.7,93.63 161.6,93.60 162.6,93.71 163.5,93.83 164.4,93.77 165.4,93.75 166.3,93.77 167.3,93.67 168.2,93.66 169.2,93.79 170.1,93.78 171.1,93.73 172.0,93.75 173.0,93.65 173.9,93.52 174.8,93.57 175.8,93.61 176.7,93.59 177.7,93.69 178.6,93.72 179.6,93.60 180.5,93.59 181.5,93.64 182.4,93.60 183.3,93.67 184.3,93.78 185.2,93.71 186.2,93.64 187.1,93.64 188.1,93.53 189.0,93.46 190.0,93.57 190.9,93.58 191.9,93.53 192.8,93.57 193.7,93.52 194.7,93.40 195.6,93.46 196.6,93.54 197.5,93.53 198.5,93.62 199.4,93.67 200.4,93.55 201.3,93.49 202.2,93.51 203.2,93.44 204.1,93.44 205.1,93.53 206.0,93.45 207.0,93.33 207.9,93.29 208.9,93.16 209.8,93.03 210.8,93.07 211.7,93.04 212.6,92.90 213.6,92.82 214.5,92.66 215.5,92.36 216.4,92.19 217.4,92.06 218.3,91.81 219.3,91.61 220.2,91.41 221.1,91.03 222.1,90.68 223.0,90.46 224.0,90.19 224.9,89.99 225.9,89.97 226.8,89.85 227.8,89.71 228.7,89.71 229.7,89.71 230.6,89.72 231.5,89.96 232.5,90.22 233.4,90.38 234.4,90.63 235.3,90.86 236.3,90.95 237.2,91.15 238.2,91.43 239.1,91.60 240.0,91.79 241.0,92.00 241.9,92.01 242.9,91.98 243.8,92.05 244.8,92.04 245.7,92.02 246.7,92.12 247.6,92.11 248.6,91.97 249.5,91.93 250.4,91.86 251.4,91.72 252.3,91.77 253.3,91.88 254.2,91.86 255.2,91.91 256.1,91.99 257.1,91.95 258.0,91.99 258.9,92.19 259.9,92.30 260.8,92.44 261.8,92.65 262.7,92.71 263.7,92.70 264.6,92.82 265.6,92.89 266.5,92.92 267.5,93.09 268.4,93.19" stroke="#8c8c8c" stroke-width="0.6" fill="none"/>
<polyline points="155.0,93.78 155.9,93.82 156.9,93.78 157.8,93.64 158.8,93.64 159.7,93.71 160.7,93.67 161.6,93.71 162.6,93.76 163.5,93.64 164.4,93.57 165.4,93.62 166.3,93.61 167.3,93.64 168.2,93.80 169.2,93.81 170.1,93.73 171.1,93.75 172.0,93.71 173.0,93.63 173.9,93.73 174.8,93.79 175.8,93.72 176.7,93.72 177.7,93.69 178.6,93.54 179.6,93.52 180.5,93.60 181.5,93.59 182.4,93.63 183.3,93.72 184.3,93.64 185.2,93.56 186.2,93.63 187.1,93.62 188.1,93.63 189.0,93.76 190.0,93.77 190.9,93.66 191.9,93.65 192.8,93.60 193.7,93.49 194.7,93.54 195.6,93.63 196.6,93.57 197.5,93.57 198.5,93.58 199.4,93.46 200.4,93.42 201.3,93.53 202.2,93.55 203.2,93.57 204.1,93.66 205.1,93.58 206.0,93.44 207.0,93.43 207.9,93.37 208.9,93.26 209.8,93.28 210.8,93.21 211.7,92.97 212.6,92.79 213.6,92.60 214.5,92.30 215.5,92.12 216.4,92.00 217.4,91.71 218.3,91.42 219.3,91.16 220.2,90.74 221.1,90.36 222.1,90.15 223.0,89.88 224.0,89.60 224.9,89.45 225.9,89.21 226.8,88.92 227.8,88.83 228.7,88.81 229.7,88.79 230.6,88.98 231.5,89.21 232.5,89.33 233.4,89.55 234.4,89.84 235.3,90.07 236.3,90.40 237.2,90.86 238.2,91.17 239.1,91.42 240.0,91.71 241.0,91.84 241.9,91.90 242.9,92.10 243.8,92.22 244.8,92.25 245.7,92.34 246.7,92.32 247.6,92.15 248.6,92.10 249.5,92.10 250.4,92.03 251.4,92.09 252.3,92.21 253.3,92.17 254.2,92.16 255.2,92.25 256.1,92.25 257.1,92.32 258.0,92.55 258.9,92.67 259.9,92.72 260.8,92.85 261.8,92.86 262.7,92.81 263.7,92.93 264.6,93.05 265.6,93.07 266.5,93.19 267.5,93.26 268.4,93.17" stroke="#3a8a3a" stroke-width="0.6" fill="none"/>
<polyline points="155.0,93.80 155.9,93.76 156.9,93.80 157.8,93.70 158.8,93.57 159.7,93.61 160.7,93.65 161.6,93.62 162.6,93.72 163.5,93.75 164.4,93.64 165.4,93.63 166.3,93.68 167.3,93.65 168.2,93.73 169.2,93.86 170.1,93.81 171.1,93.75 172.0,93.76 173.0,93.65 173.9,93.59 174.8,93.69 175.8,93.70 176.7,93.65 177.7,93.68 178.6,93.62 179.6,93.49 180.5,93.54 181.5,93.61 182.4,93.60 183.3,93.70 184.3,93.77 185.2,93.66 186.2,93.61 187.1,93.65 188.1,93.59 189.0,93.61 190.0,93.73 190.9,93.68 191.9,93.58 192.8,93.58 193.7,93.49 194.7,93.40 195.6,93.51 196.6,93.57 197.5,93.53 198.5,93.58 199.4,93.57 200.4,93.45 201.3,93.47 202.2,93.55 203.2,93.52 204.1,93.56 205.1,93.61 206.0,93.45 207.0,93.31 207.9,93.27 208.9,93.13 209.8,93.01 210.8,93.01 211.7,92.86 212.6,92.59 213.6,92.40 214.5,92.11 215.5,91.76 216.4,91.56 217.4,91.34 218.3,90.95 219.3,90.61 220.2,90.23 221.1,89.71 222.1,89.29 223.0,89.00 224.0,88.64 224.9,88.37 225.9,88.21 226.8,87.94 227.8,87.72 228.7,87.72 229.7,87.74 230.6,87.84 231.5,88.17 232.5,88.47 233.4,88.70 234.4,89.06 235.3,89.41 236.3,89.70 237.2,90.14 238.2,90.60 239.1,90.90 240.0,91.19 241.0,91.45 241.9,91.51 242.9,91.59 243.8,91.77 244.8,91.81 245.7,91.84 246.7,91.92 247.6,91.84 248.6,91.67 249.5,91.65 250.4,91.61 251.4,91.56 252.3,91.68 253.3,91.78 254.2,91.74 255.2,91.80 256.1,91.88 257.1,91.88 258.0,92.03 258.9,92.27 259.9,92.38 260.8,92.49 261.8,92.65 262.7,92.65 263.7,92.66 264.6,92.83 265.6,92.93 266.5,93.00 267.5,93.17 268.4,93.21" stroke="#a8a468" stroke-width="0.6" fill="none"/>
<polyline points="155.0,93.64 155.9,93.66 156.9,93.77 157.8,93.72 158.8,93.63 159.7,93.65 160.7,93.59 161.6,93.55 162.6,93.69 163.5,93.77 164.4,93.74 165.4,93.79 166.3,93.78 167.3,93.66 168.2,93.68 169.2,93.77 170.1,93.74 171.1,93.76 172.0,93.80 173.0,93.66 173.9,93.56 174.8,93.59 175.8,93.54 176.7,93.54 177.7,93.67 178.6,93.67 179.6,93.59 180.5,93.61 181.5,93.58 182.4,93.52 183.3,93.63 184.3,93.72 185.2,93.66 186.2,93.67 187.1,93.65 188.1,93.50 189.0,93.46 190.0,93.53 190.9,93.49 191.9,93.50 192.8,93.57 193.7,93.47 194.7,93.37 195.6,93.41 196.6,93.41 197.5,93.41 198.5,93.55 199.4,93.58 200.4,93.48 201.3,93.47 202.2,93.43 203.2,93.31 204.1,93.33 205.1,93.38 206.0,93.27 207.0,93.18 207.9,93.08 208.9,92.83 209.8,92.63 210.8,92.54 211.7,92.34 212.6,92.10 213.6,91.90 214.5,91.50 215.5,91.00 216.4,90.59 217.4,90.11 218.3,89.56 219.3,89.11 220.2,88.58 221.1,87.89 222.1,87.28 223.0,86.72 224.0,86.11 224.9,85.71 225.9,85.48 226.8,85.20 227.8,85.03 228.7,85.04 229.7,85.01 230.6,85.13 231.5,85.52 232.5,85.93 233.4,86.38 234.4,86.97 235.3,87.48 236.3,87.88 237.2,88.42 238.2,88.93 239.1,89.35 240.0,89.84 241.0,90.26 241.9,90.44 242.9,90.59 243.8,90.73 244.8,90.71 245.7,90.72 246.7,90.83 247.6,90.76 248.6,90.65 249.5,90.61 250.4,90.45 251.4,90.30 252.3,90.35 253.3,90.42 254.2,90.45 255.2,90.64 256.1,90.78 257.1,90.81 258.0,90.98 258.9,91.23 259.9,91.40 260.8,91.68 261.8,92.00 262.7,92.13 263.7,92.24 264.6,92.42 265.6,92.47 266.5,92.56 267.5,92.78 268.4,92.88" stroke="#9a4aa8" stroke-width="1.1" fill="none"/>
</g>
<g clip-path="url(#ctc)">
<line x1="275.8" y1="93.0" x2="388.6" y2="93.0" stroke="#a8a8a8" stroke-width="0.7"/>
<polyline points="275.8,93.04 276.7,92.97 277.7,93.09 278.6,93.13 279.6,92.90 280.5,92.82 281.4,92.86 282.4,92.77 283.3,92.86 284.3,93.11 285.2,93.09 286.1,93.03 287.1,93.10 288.0,92.99 289.0,92.90 289.9,93.09 290.8,93.19 291.8,93.11 292.7,93.17 293.7,93.11 294.6,92.84 295.5,92.82 296.5,92.91 297.4,92.86 298.4,92.95 299.3,93.10 300.2,92.96 301.2,92.85 302.1,92.94 303.1,92.91 304.0,92.93 304.9,93.18 305.9,93.23 306.8,93.10 307.8,93.11 308.7,93.03 309.6,92.82 310.6,92.90 311.5,93.03 312.5,92.93 313.4,92.94 314.3,92.96 315.3,92.73 316.2,92.64 317.2,92.79 318.1,92.81 319.0,92.88 320.0,93.10 320.9,93.07 321.9,92.91 322.8,92.97 323.7,92.97 324.7,92.90 325.6,93.09 326.6,93.20 327.5,93.04 328.4,93.00 329.4,92.96 330.3,92.76 331.3,92.79 332.2,93.01 333.1,93.04 334.1,93.10 335.0,93.27 336.0,93.22 336.9,93.15 337.8,93.36 338.8,93.45 339.7,93.45 340.7,93.59 341.6,93.54 342.5,93.25 343.5,93.13 344.4,93.07 345.4,92.90 346.3,92.96 347.2,93.12 348.2,93.00 349.1,92.91 350.1,92.95 351.0,92.80 351.9,92.76 352.9,93.00 353.8,93.09 354.8,93.08 355.7,93.21 356.6,93.15 357.6,92.94 358.5,92.99 359.5,93.07 360.4,93.01 361.3,93.10 362.3,93.15 363.2,92.90 364.2,92.75 365.1,92.76 366.0,92.63 367.0,92.64 367.9,92.84 368.9,92.82 369.8,92.69 370.7,92.72 371.7,92.61 372.6,92.46 373.6,92.60 374.5,92.69 375.4,92.59 376.4,92.60 377.3,92.53 378.3,92.22 379.2,92.10 380.1,92.15 381.1,92.04 382.0,92.04 383.0,92.14 383.9,91.96 384.8,91.76 385.8,91.77 386.7,91.70 387.7,91.63 388.6,91.83" stroke="#d8cc3c" stroke-width="0.6" fill="none"/>
<polyline points="275.8,92.85 276.7,93.10 277.7,93.12 278.6,93.02 279.6,93.08 280.5,93.02 281.4,92.90 282.4,93.07 283.3,93.20 284.3,93.12 285.2,93.15 286.1,93.12 287.1,92.86 288.0,92.80 289.0,92.92 289.9,92.88 290.8,92.94 291.8,93.10 292.7,92.99 293.7,92.84 294.6,92.93 295.5,92.93 296.5,92.93 297.4,93.17 298.4,93.26 299.3,93.12 300.2,93.11 301.2,93.07 302.1,92.87 303.1,92.92 304.0,93.08 304.9,93.01 305.9,92.98 306.8,93.02 307.8,92.82 308.7,92.70 309.6,92.85 310.6,92.89 311.5,92.92 312.5,93.12 313.4,93.10 314.3,92.91 315.3,92.93 316.2,92.95 317.2,92.86 318.1,93.01 319.0,93.14 320.0,92.99 320.9,92.90 321.9,92.90 322.8,92.71 323.7,92.69 324.7,92.91 325.6,92.95 326.6,92.93 327.5,93.05 328.4,92.97 329.4,92.82 330.3,92.97 331.3,93.10 332.2,93.12 333.1,93.33 334.1,93.45 335.0,93.32 336.0,93.34 336.9,93.47 337.8,93.43 338.8,93.51 339.7,93.69 340.7,93.54 341.6,93.33 342.5,93.26 343.5,93.05 344.4,92.89 345.4,93.06 346.3,93.16 347.2,93.10 348.2,93.19 349.1,93.17 350.1,92.95 351.0,92.97 351.9,93.09 352.9,93.03 353.8,93.09 354.8,93.19 355.7,92.99 356.6,92.82 357.6,92.87 358.5,92.80 359.5,92.81 360.4,93.04 361.3,93.06 362.3,92.91 363.2,92.93 364.2,92.85 365.1,92.68 366.0,92.78 367.0,92.90 367.9,92.78 368.9,92.74 369.8,92.69 370.7,92.37 371.7,92.20 372.6,92.24 373.6,92.14 374.5,92.08 375.4,92.16 376.4,91.99 377.3,91.73 378.3,91.70 379.2,91.64 380.1,91.53 381.1,91.67 382.0,91.72 383.0,91.51 383.9,91.40 384.8,91.30 385.8,91.01 386.7,90.94 387.7,91.02 388.6,90.87" stroke="#c83cc0" stroke-width="0.6" fill="none"/>
<polyline points="275.8,93.14 276.7,92.95 277.7,92.99 278.6,93.05 279.6,92.99 280.5,93.13 281.4,93.26 282.4,93.09 283.3,92.98 284.3,92.97 285.2,92.80 286.1,92.78 287.1,92.99 288.0,93.01 289.0,92.95 289.9,93.04 290.8,92.95 291.8,92.80 292.7,92.95 293.7,93.09 294.6,93.08 295.5,93.22 296.5,93.26 297.4,93.03 298.4,92.95 299.3,93.00 300.2,92.90 301.2,92.95 302.1,93.12 303.1,93.01 304.0,92.86 304.9,92.88 305.9,92.78 306.8,92.71 307.8,92.93 308.7,93.04 309.6,92.97 310.6,93.02 311.5,92.98 312.5,92.74 313.4,92.75 314.3,92.87 315.3,92.80 316.2,92.83 317.2,92.90 318.1,92.68 319.0,92.52 320.0,92.59 320.9,92.56 321.9,92.59 322.8,92.84 323.7,92.90 324.7,92.79 325.6,92.86 326.6,92.88 327.5,92.80 328.4,92.99 329.4,93.20 330.3,93.16 331.3,93.20 332.2,93.27 333.1,93.14 334.1,93.20 335.0,93.52 336.0,93.72 336.9,93.91 337.8,94.20 338.8,94.17 339.7,93.95 340.7,93.90 341.6,93.76 342.5,93.53 343.5,93.55 344.4,93.52 345.4,93.27 346.3,93.16 347.2,93.13 348.2,92.95 349.1,92.97 350.1,93.16 351.0,93.11 351.9,93.03 352.9,93.06 353.8,92.87 354.8,92.71 355.7,92.85 356.6,92.93 357.6,92.93 358.5,93.10 359.5,93.12 360.4,92.92 361.3,92.89 362.3,92.93 363.2,92.81 364.2,92.86 365.1,92.95 366.0,92.72 367.0,92.49 367.9,92.39 368.9,92.12 369.8,91.94 370.7,92.02 371.7,91.94 372.6,91.73 373.6,91.67 374.5,91.47 375.4,91.16 376.4,91.14 377.3,91.16 378.3,91.02 379.2,91.00 380.1,90.94 381.1,90.59 382.0,90.33 383.0,90.24 383.9,90.00 384.8,89.85 385.8,89.87 386.7,89.63 387.7,89.27 388.6,89.11" stroke="#3cc4cc" stroke-width="0.6" fill="none"/>
<polyline points="275.8,92.79 276.7,92.86 277.7,93.09 278.6,93.10 279.6,93.15 280.5,93.26 281.4,93.09 282.4,92.93 283.3,93.01 284.3,93.00 285.2,92.96 286.1,93.12 287.1,93.10 288.0,92.88 289.0,92.86 289.9,92.85 290.8,92.75 291.8,92.91 292.7,93.12 293.7,93.07 294.6,93.06 295.5,93.12 296.5,92.96 297.4,92.92 298.4,93.12 299.3,93.15 300.2,93.11 301.2,93.19 302.1,93.06 303.1,92.82 304.0,92.84 304.9,92.88 305.9,92.83 306.8,92.98 307.8,93.08 308.7,92.91 309.6,92.86 310.6,92.92 311.5,92.83 312.5,92.90 313.4,93.15 314.3,93.13 315.3,93.03 316.2,93.07 317.2,92.91 318.1,92.74 319.0,92.87 320.0,92.95 320.9,92.88 321.9,92.97 322.8,92.95 323.7,92.73 324.7,92.73 325.6,92.86 326.6,92.86 327.5,93.00 328.4,93.21 329.4,93.12 330.3,93.02 331.3,93.11 332.2,93.07 333.1,93.10 334.1,93.40 335.0,93.56 336.0,93.55 336.9,93.68 337.8,93.69 338.8,93.53 339.7,93.59 340.7,93.67 341.6,93.51 342.5,93.45 343.5,93.41 344.4,93.12 345.4,92.97 346.3,93.07 347.2,93.05 348.2,93.08 349.1,93.28 350.1,93.22 351.0,93.02 351.9,93.01 352.9,92.94 353.8,92.82 354.8,92.96 355.7,93.08 356.6,92.96 357.6,92.94 358.5,92.95 359.5,92.77 360.4,92.79 361.3,93.00 362.3,93.01 363.2,93.02 364.2,93.12 365.1,92.95 366.0,92.73 367.0,92.77 367.9,92.74 368.9,92.64 369.8,92.74 370.7,92.70 371.7,92.41 372.6,92.30 373.6,92.23 374.5,92.05 375.4,92.09 376.4,92.25 377.3,92.15 378.3,92.05 379.2,92.05 380.1,91.85 381.1,91.71 382.0,91.84 383.0,91.84 383.9,91.72 384.8,91.74 385.8,91.58 386.7,91.24 387.7,91.16 388.6,91.13" stroke="#983838" stroke-width="0.6" fill="none"/>
<polyline points="275.8,93.22 276.7,93.27 277.7,93.04 278.6,92.98 279.6,93.01 280.5,92.90 281.4,92.96 282.4,93.13 283.3,93.02 284.3,92.90 285.2,92.93 286.1,92.80 287.1,92.74 288.0,92.97 289.0,93.08 289.9,93.05 290.8,93.16 291.8,93.13 292.7,92.93 293.7,92.98 294.6,93.10 295.5,93.05 296.5,93.13 297.4,93.21 298.4,93.00 299.3,92.84 300.2,92.88 301.2,92.80 302.1,92.81 303.1,93.04 304.0,93.06 304.9,92.93 305.9,92.98 306.8,92.93 307.8,92.81 308.7,92.98 309.6,93.14 310.6,93.06 311.5,93.08 312.5,93.06 313.4,92.80 314.3,92.70 315.3,92.80 316.2,92.75 317.2,92.76 318.1,92.90 319.0,92.78 320.0,92.61 320.9,92.69 321.9,92.71 322.8,92.71 323.7,92.97 324.7,93.12 325.6,93.02 326.6,93.04 327.5,93.05 328.4,92.89 329.4,92.95 330.3,93.15 331.3,93.11 332.2,93.09 333.1,93.17 334.1,93.03 335.0,92.95 336.0,93.17 336.9,93.30 337.8,93.37 338.8,93.60 339.7,93.60 340.7,93.37 341.6,93.32 342.5,93.29 343.5,93.15 344.4,93.23 345.4,93.35 346.3,93.19 347.2,93.07 348.2,93.06 349.1,92.87 350.1,92.80 351.0,92.99 351.9,93.01 352.9,92.94 353.8,93.03 354.8,92.94 355.7,92.76 356.6,92.88 357.6,93.01 358.5,93.01 359.5,93.17 360.4,93.27 361.3,93.06 362.3,92.96 363.2,93.00 364.2,92.88 365.1,92.89 366.0,93.05 367.0,92.94 367.9,92.76 368.9,92.74 369.8,92.60 370.7,92.46 371.7,92.62 372.6,92.73 373.6,92.66 374.5,92.72 375.4,92.70 376.4,92.46 377.3,92.45 378.3,92.57 379.2,92.50 380.1,92.53 381.1,92.60 382.0,92.38 383.0,92.15 383.9,92.14 384.8,92.02 385.8,91.94 386.7,92.11 387.7,92.11 388.6,91.92" stroke="#d44444" stroke-width="0.6" fill="none"/>
<polyline points="275.8,93.03 276.7,92.90 277.7,93.06 278.6,93.12 279.6,93.07 280.5,93.17 281.4,93.11 282.4,92.85 283.3,92.82 284.3,92.87 285.2,92.81 286.1,92.93 287.1,93.12 288.0,93.01 289.0,92.93 289.9,93.00 290.8,92.92 291.8,92.92 292.7,93.17 293.7,93.23 294.6,93.13 295.5,93.17 296.5,93.06 297.4,92.84 298.4,92.90 299.3,93.00 300.2,92.94 301.2,93.01 302.1,93.06 303.1,92.85 304.0,92.78 304.9,92.89 305.9,92.88 306.8,92.96 307.8,93.20 308.7,93.17 309.6,93.02 310.6,93.05 311.5,92.97 312.5,92.85 313.4,93.00 314.3,93.09 315.3,92.95 316.2,92.94 317.2,92.89 318.1,92.66 319.0,92.65 320.0,92.84 320.9,92.85 321.9,92.92 322.8,93.08 323.7,92.97 324.7,92.84 325.6,92.97 326.6,93.00 327.5,93.00 328.4,93.22 329.4,93.27 330.3,93.10 331.3,93.12 332.2,93.19 333.1,93.21 334.1,93.57 335.0,94.10 336.0,94.43 336.9,94.80 337.8,95.15 338.8,95.13 339.7,95.02 340.7,95.00 341.6,94.72 342.5,94.33 343.5,94.10 344.4,93.73 345.4,93.28 346.3,93.16 347.2,93.10 348.2,92.97 349.1,93.08 350.1,93.17 351.0,92.97 351.9,92.87 352.9,92.89 353.8,92.76 354.8,92.79 355.7,93.04 356.6,93.08 357.6,93.04 358.5,93.13 359.5,93.03 360.4,92.88 361.3,93.00 362.3,93.07 363.2,92.98 364.2,93.02 365.1,92.96 366.0,92.64 367.0,92.50 367.9,92.49 368.9,92.34 369.8,92.34 370.7,92.46 371.7,92.29 372.6,92.09 373.6,92.08 374.5,91.93 375.4,91.81 376.4,91.97 377.3,91.98 378.3,91.80 379.2,91.75 380.1,91.59 381.1,91.26 382.0,91.18 383.0,91.20 383.9,91.03 384.8,90.97 385.8,90.93 386.7,90.61 387.7,90.37 388.6,90.36" stroke="#4444c8" stroke-width="0.6" fill="none"/>
<polyline points="275.8,92.86 276.7,92.85 277.7,92.92 278.6,92.85 279.6,93.00 280.5,93.23 281.4,93.17 282.4,93.10 283.3,93.14 284.3,92.98 285.2,92.89 286.1,93.07 287.1,93.10 288.0,93.01 289.0,93.07 289.9,92.97 290.8,92.74 291.8,92.79 292.7,92.91 293.7,92.89 294.6,93.04 295.5,93.18 296.5,93.03 297.4,92.96 298.4,93.04 299.3,92.98 300.2,93.01 301.2,93.23 302.1,93.20 303.1,93.04 304.0,93.04 304.9,92.91 305.9,92.73 306.8,92.85 307.8,92.96 308.7,92.89 309.6,92.94 310.6,92.95 311.5,92.73 312.5,92.71 313.4,92.87 314.3,92.86 315.3,92.93 316.2,93.10 317.2,92.97 318.1,92.79 319.0,92.83 320.0,92.77 320.9,92.71 321.9,92.91 322.8,92.97 323.7,92.83 324.7,92.83 325.6,92.81 326.6,92.66 327.5,92.77 328.4,93.01 329.4,93.03 330.3,93.10 331.3,93.23 332.2,93.12 333.1,93.10 334.1,93.36 335.0,93.53 336.0,93.69 336.9,94.02 337.8,94.08 338.8,93.90 339.7,93.86 340.7,93.74 341.6,93.48 342.5,93.45 343.5,93.46 344.4,93.22 345.4,93.10 346.3,93.08 347.2,92.91 348.2,92.91 349.1,93.14 350.1,93.17 351.0,93.15 351.9,93.23 352.9,93.10 353.8,92.87 354.8,92.93 355.7,92.98 356.6,92.91 357.6,93.04 358.5,93.09 359.5,92.87 360.4,92.81 361.3,92.84 362.3,92.73 363.2,92.78 364.2,92.97 365.1,92.87 366.0,92.72 367.0,92.69 367.9,92.48 368.9,92.28 369.8,92.36 370.7,92.33 371.7,92.14 372.6,92.09 373.6,91.91 374.5,91.54 375.4,91.43 376.4,91.43 377.3,91.28 378.3,91.27 379.2,91.31 380.1,91.06 381.1,90.83 382.0,90.79 383.0,90.62 383.9,90.50 384.8,90.59 385.8,90.48 386.7,90.18 387.7,90.03 388.6,89.79" stroke="#a8a468" stroke-width="0.6" fill="none"/>
<polyline points="275.8,92.98 276.7,93.06 277.7,92.97 278.6,93.03 279.6,93.23 280.5,93.17 281.4,93.03 282.4,93.03 283.3,92.88 284.3,92.73 285.2,92.89 286.1,93.00 287.1,92.94 288.0,93.03 289.0,93.04 289.9,92.84 290.8,92.87 291.8,93.04 292.7,93.03 293.7,93.14 294.6,93.30 295.5,93.15 296.5,92.98 297.4,93.01 298.4,92.93 299.3,92.87 300.2,93.06 301.2,93.08 302.1,92.92 303.1,92.93 304.0,92.88 304.9,92.72 305.9,92.84 306.8,93.04 307.8,93.02 308.7,93.07 309.6,93.14 310.6,92.93 311.5,92.82 312.5,92.94 313.4,92.91 314.3,92.89 315.3,93.02 316.2,92.92 317.2,92.68 318.1,92.67 319.0,92.65 320.0,92.57 320.9,92.77 321.9,92.94 322.8,92.85 323.7,92.87 324.7,92.93 325.6,92.80 326.6,92.86 327.5,93.11 328.4,93.14 329.4,93.13 330.3,93.24 331.3,93.11 332.2,92.96 333.1,93.14 334.1,93.31 335.0,93.44 336.0,93.80 336.9,94.03 337.8,93.98 338.8,94.03 339.7,94.07 340.7,93.88 341.6,93.83 342.5,93.86 343.5,93.61 344.4,93.38 345.4,93.30 346.3,93.08 347.2,92.94 348.2,93.10 349.1,93.13 350.1,93.04 351.0,93.09 351.9,93.00 352.9,92.75 353.8,92.78 354.8,92.90 355.7,92.87 356.6,93.01 357.6,93.16 358.5,93.02 359.5,92.94 360.4,93.02 361.3,92.92 362.3,92.88 363.2,93.04 364.2,92.94 365.1,92.69 366.0,92.59 367.0,92.37 367.9,92.07 368.9,92.07 369.8,92.07 370.7,91.88 371.7,91.80 372.6,91.69 373.6,91.35 374.5,91.19 375.4,91.21 376.4,91.08 377.3,91.01 378.3,91.04 379.2,90.78 380.1,90.43 381.1,90.30 382.0,90.07 383.0,89.81 383.9,89.81 384.8,89.69 385.8,89.33 386.7,89.12 387.7,88.89 388.6,88.52" stroke="#8c8c8c" stroke-width="0.6" fill="none"/>
<polyline points="275.8,92.86 276.7,92.89 277.7,92.82 278.6,92.99 279.6,93.21 280.5,93.14 281.4,93.11 282.4,93.15 283.3,92.97 284.3,92.91 285.2,93.09 286.1,93.10 287.1,93.04 288.0,93.11 289.0,92.99 289.9,92.75 290.8,92.80 291.8,92.88 292.7,92.86 293.7,93.03 294.6,93.16 295.5,93.00 296.5,92.96 297.4,93.03 298.4,92.95 299.3,93.01 300.2,93.24 301.2,93.20 302.1,93.07 303.1,93.08 304.0,92.92 304.9,92.75 305.9,92.87 306.8,92.95 307.8,92.87 308.7,92.94 309.6,92.92 310.6,92.69 311.5,92.67 312.5,92.80 313.4,92.76 314.3,92.85 315.3,93.02 316.2,92.88 317.2,92.72 318.1,92.75 319.0,92.67 320.0,92.62 320.9,92.83 321.9,92.88 322.8,92.75 323.7,92.78 324.7,92.75 325.6,92.59 326.6,92.72 327.5,92.94 328.4,92.95 329.4,93.06 330.3,93.19 331.3,93.06 332.2,93.06 333.1,93.33 334.1,93.51 335.0,93.75 336.0,94.19 336.9,94.37 337.8,94.34 338.8,94.42 339.7,94.33 340.7,94.07 341.6,94.00 342.5,93.88 343.5,93.52 344.4,93.32 345.4,93.20 346.3,92.95 347.2,92.93 348.2,93.13 349.1,93.15 350.1,93.15 351.0,93.26 351.9,93.10 352.9,92.90 353.8,92.97 354.8,92.98 355.7,92.92 356.6,93.07 357.6,93.09 358.5,92.87 359.5,92.83 360.4,92.86 361.3,92.71 362.3,92.77 363.2,92.92 364.2,92.79 365.1,92.63 366.0,92.57 367.0,92.30 367.9,92.08 368.9,92.12 369.8,92.03 370.7,91.81 371.7,91.72 372.6,91.46 373.6,91.04 374.5,90.87 375.4,90.78 376.4,90.55 377.3,90.50 378.3,90.46 379.2,90.12 380.1,89.85 381.1,89.73 382.0,89.47 383.0,89.30 383.9,89.33 384.8,89.13 385.8,88.79 386.7,88.58 387.7,88.23 388.6,87.81" stroke="#3a8a3a" stroke-width="0.6" fill="none"/>
<polyline points="275.8,92.99 276.7,93.06 277.7,92.97 278.6,92.87 279.6,93.06 280.5,93.18 281.4,93.13 282.4,93.21 283.3,93.18 284.3,92.91 285.2,92.86 286.1,92.94 287.1,92.88 288.0,92.95 289.0,93.10 289.9,92.97 290.8,92.83 291.8,92.91 292.7,92.86 293.7,92.87 294.6,93.12 295.5,93.22 296.5,93.11 297.4,93.15 298.4,93.09 299.3,92.90 300.2,92.97 301.2,93.11 302.1,93.03 303.1,93.05 304.0,93.08 304.9,92.84 305.9,92.72 306.8,92.83 307.8,92.83 308.7,92.87 309.6,93.07 310.6,93.04 311.5,92.86 312.5,92.90 313.4,92.87 314.3,92.78 315.3,92.94 316.2,93.07 317.2,92.92 318.1,92.87 319.0,92.84 320.0,92.63 320.9,92.61 321.9,92.81 322.8,92.82 323.7,92.83 324.7,92.97 325.6,92.87 326.6,92.73 327.5,92.88 328.4,92.97 329.4,93.00 330.3,93.24 331.3,93.35 332.2,93.25 333.1,93.35 334.1,93.57 335.0,93.71 336.0,94.10 336.9,94.58 337.8,94.72 338.8,94.73 339.7,94.72 340.7,94.37 341.6,94.01 342.5,93.90 343.5,93.70 344.4,93.45 345.4,93.41 346.3,93.27 347.2,93.00 348.2,93.01 349.1,93.09 350.1,93.03 351.0,93.14 351.9,93.24 352.9,93.04 353.8,92.90 354.8,92.91 355.7,92.79 356.6,92.79 357.6,93.02 358.5,93.04 359.5,92.95 360.4,93.00 361.3,92.87 362.3,92.65 363.2,92.71 364.2,92.74 365.1,92.57 366.0,92.50 367.0,92.36 367.9,91.95 368.9,91.69 369.8,91.60 370.7,91.35 371.7,91.18 372.6,91.14 373.6,90.81 374.5,90.43 375.4,90.26 376.4,90.00 377.3,89.74 378.3,89.74 379.2,89.64 380.1,89.30 381.1,89.08 382.0,88.81 383.0,88.36 383.9,88.15 384.8,88.05 385.8,87.73 386.7,87.45 387.7,87.22 388.6,86.72" stroke="#9a4aa8" stroke-width="0.6" fill="none"/>
<polyline points="275.8,92.97 276.7,92.94 277.7,93.06 278.6,93.07 279.6,92.88 280.5,92.90 281.4,93.04 282.4,93.02 283.3,93.14 284.3,93.30 285.2,93.15 286.1,92.99 287.1,93.01 288.0,92.89 289.0,92.84 289.9,93.03 290.8,93.06 291.8,92.93 292.7,92.96 293.7,92.90 294.6,92.74 295.5,92.87 296.5,93.06 297.4,93.06 298.4,93.15 299.3,93.23 300.2,93.03 301.2,92.94 302.1,93.05 303.1,93.00 304.0,93.00 304.9,93.16 305.9,93.05 306.8,92.82 307.8,92.80 308.7,92.73 309.6,92.61 310.6,92.77 311.5,92.89 312.5,92.76 313.4,92.75 314.3,92.74 315.3,92.54 316.2,92.55 317.2,92.75 318.1,92.74 319.0,92.75 320.0,92.86 320.9,92.70 321.9,92.53 322.8,92.63 323.7,92.67 324.7,92.67 325.6,92.88 326.6,92.95 327.5,92.79 328.4,92.81 329.4,92.88 330.3,92.84 331.3,93.06 332.2,93.40 333.1,93.52 334.1,93.72 335.0,94.07 336.0,94.25 336.9,94.49 337.8,94.92 338.8,95.07 339.7,94.96 340.7,94.84 341.6,94.43 342.5,93.84 343.5,93.54 344.4,93.35 345.4,93.13 346.3,93.17 347.2,93.26 348.2,93.08 349.1,93.00 350.1,93.06 351.0,92.97 351.9,92.99 352.9,93.22 353.8,93.20 354.8,93.07 355.7,93.08 356.6,92.94 357.6,92.75 358.5,92.87 359.5,92.98 360.4,92.91 361.3,92.92 362.3,92.84 363.2,92.50 364.2,92.34 365.1,92.32 366.0,92.14 367.0,92.05 367.9,92.05 368.9,91.73 369.8,91.35 370.7,91.14 371.7,90.81 372.6,90.48 373.6,90.41 374.5,90.21 375.4,89.79 376.4,89.52 377.3,89.20 378.3,88.72 379.2,88.51 380.1,88.42 381.1,88.13 382.0,87.89 383.0,87.69 383.9,87.21 384.8,86.77 385.8,86.57 386.7,86.23 387.7,85.88 388.6,85.71" stroke="#4aa3a3" stroke-width="0.6" fill="none"/>
<polyline points="275.8,92.92 276.7,93.08 277.7,93.24 278.6,93.14 279.6,93.10 280.5,93.08 281.4,92.85 282.4,92.77 283.3,92.94 284.3,92.94 285.2,92.94 286.1,93.07 287.1,92.99 288.0,92.81 289.0,92.90 289.9,92.98 290.8,92.97 291.8,93.17 292.7,93.28 293.7,93.11 294.6,93.05 295.5,93.05 296.5,92.89 297.4,92.92 298.4,93.11 299.3,93.05 300.2,92.95 301.2,92.99 302.1,92.83 303.1,92.70 304.0,92.88 304.9,92.98 305.9,92.97 306.8,93.11 307.8,93.11 308.7,92.89 309.6,92.88 310.6,92.94 311.5,92.85 312.5,92.92 313.4,93.03 314.3,92.84 315.3,92.66 316.2,92.65 317.2,92.51 318.1,92.46 319.0,92.69 320.0,92.76 320.9,92.69 321.9,92.79 322.8,92.77 323.7,92.65 324.7,92.81 325.6,93.01 326.6,93.01 327.5,93.13 328.4,93.21 329.4,93.01 330.3,92.93 331.3,93.08 332.2,93.13 333.1,93.32 334.1,93.76 335.0,94.03 336.0,94.24 336.9,94.65 337.8,94.90 338.8,94.97 339.7,95.14 340.7,95.09 341.6,94.67 342.5,94.32 343.5,93.96 344.4,93.46 345.4,93.24 346.3,93.27 347.2,93.16 348.2,93.11 349.1,93.17 350.1,92.98 351.0,92.78 351.9,92.84 352.9,92.85 353.8,92.84 354.8,93.05 355.7,93.12 356.6,92.96 357.6,92.98 358.5,93.01 359.5,92.90 360.4,93.01 361.3,93.10 362.3,92.87 363.2,92.63 364.2,92.43 365.1,91.99 366.0,91.61 367.0,91.49 367.9,91.23 368.9,90.90 369.8,90.71 370.7,90.33 371.7,89.79 372.6,89.50 373.6,89.25 374.5,88.87 375.4,88.68 376.4,88.46 377.3,87.92 378.3,87.45 379.2,87.07 380.1,86.51 381.1,86.09 382.0,85.86 383.0,85.39 383.9,84.82 384.8,84.39 385.8,83.80 386.7,83.15 387.7,82.82 388.6,82.47" stroke="#34347f" stroke-width="0.6" fill="none"/>
</g>
<g clip-path="url(#ctd)">
<line x1="398.4" y1="93.2" x2="512.6" y2="93.2" stroke="#a8a8a8" stroke-width="0.7"/>
<polyline points="398.4,92.23 399.4,92.22 400.3,92.25 401.3,91.79 402.2,91.61 403.2,91.89 404.1,91.84 405.1,91.83 406.0,92.08 407.0,91.82 407.9,91.44 408.9,91.60 409.8,91.66 410.8,91.67 411.7,92.15 412.7,92.34 413.6,92.04 414.6,92.06 415.5,92.03 416.5,91.73 417.4,91.94 418.4,92.27 419.3,92.08 420.3,92.00 421.2,91.99 422.2,91.53 423.1,91.37 424.1,91.70 425.0,91.74 426.0,91.81 426.9,92.15 427.9,91.98 428.9,91.67 429.8,91.86 430.8,91.93 431.7,91.90 432.7,92.32 433.6,92.44 434.6,92.05 435.5,91.97 436.5,91.87 437.4,91.51 438.4,91.68 439.3,92.01 440.3,91.85 441.2,91.82 442.2,91.90 443.1,91.53 444.1,91.45 445.0,91.88 446.0,92.10 446.9,92.32 447.9,92.79 448.8,92.71 449.8,92.46 450.7,92.70 451.7,92.80 452.6,92.81 453.6,93.29 454.5,93.51 455.5,93.21 456.5,93.24 457.4,93.34 458.4,93.26 459.3,93.77 460.3,94.46 461.2,94.61 462.2,94.79 463.1,94.91 464.1,94.43 465.0,94.09 466.0,94.14 466.9,93.81 467.9,93.44 468.8,93.33 469.8,92.74 470.7,92.09 471.7,92.13 472.6,92.33 473.6,92.75 474.5,93.86 475.5,94.70 476.4,94.72 477.4,94.55 478.3,93.99 479.3,93.05 480.2,92.72 481.2,92.72 482.1,92.31 483.1,92.08 484.1,92.00 485.0,91.52 486.0,91.35 486.9,91.70 487.9,91.73 488.8,91.72 489.8,91.90 490.7,91.50 491.7,90.87 492.6,90.73 493.6,90.49 494.5,90.21 495.5,90.48 496.4,90.58 497.4,90.28 498.3,90.41 499.3,90.62 500.2,90.62 501.2,91.16 502.1,91.88 503.1,92.05 504.0,92.29 505.0,92.56 505.9,92.16 506.9,91.81 507.8,91.81 508.8,91.38 509.7,90.84 510.7,90.49 511.6,89.55 512.6,88.36" stroke="#d8cc3c" stroke-width="0.6" fill="none"/>
<polyline points="398.4,92.14 399.4,92.37 400.3,92.03 401.3,91.93 402.2,91.88 403.2,91.51 404.1,91.59 405.1,91.95 406.0,91.81 407.0,91.72 407.9,91.81 408.9,91.45 409.8,91.27 410.8,91.65 411.7,91.79 412.7,91.86 413.6,92.23 414.6,92.14 415.5,91.75 416.5,91.84 417.4,91.88 418.4,91.74 419.3,92.06 420.3,92.21 421.2,91.81 422.2,91.67 423.1,91.61 424.1,91.27 425.0,91.41 426.0,91.85 426.9,91.81 427.9,91.81 428.9,91.98 429.8,91.69 430.8,91.53 431.7,91.91 432.7,92.02 433.6,92.03 434.6,92.32 435.5,92.14 436.5,91.66 437.4,91.67 438.4,91.65 439.3,91.48 440.3,91.79 441.2,91.98 442.2,91.65 443.1,91.58 444.1,91.63 445.0,91.38 446.0,91.72 446.9,92.35 447.9,92.48 448.8,92.61 449.8,92.88 450.7,92.65 451.7,92.55 452.6,92.97 453.6,93.15 454.5,93.24 455.5,93.61 456.5,93.51 457.4,93.20 458.4,93.46 459.3,93.77 460.3,93.95 461.2,94.58 462.2,94.98 463.1,94.71 464.1,94.54 465.0,94.32 466.0,93.67 466.9,93.35 467.9,93.25 468.8,92.59 469.8,91.97 470.7,91.66 471.7,91.13 472.6,91.05 473.6,91.82 474.5,92.53 475.5,93.11 476.4,93.76 477.4,93.60 478.3,92.85 479.3,92.46 480.2,92.03 481.2,91.48 482.1,91.45 483.1,91.38 484.1,90.85 485.0,90.70 486.0,90.76 486.9,90.57 487.9,90.83 488.8,91.34 489.8,91.26 490.7,91.07 491.7,90.96 492.6,90.31 493.6,89.78 494.5,89.85 495.5,89.76 496.4,89.69 497.4,90.05 498.3,90.11 499.3,89.96 500.2,90.39 501.2,90.84 502.1,91.13 503.1,91.86 504.0,92.42 505.0,92.35 505.9,92.25 506.9,91.97 507.8,91.16 508.8,90.63 509.7,90.28 510.7,89.31 511.6,88.25 512.6,87.28" stroke="#c83cc0" stroke-width="0.6" fill="none"/>
<polyline points="398.4,91.16 399.4,91.38 400.3,91.63 401.3,91.63 402.2,91.98 403.2,92.15 404.1,91.74 405.1,91.61 406.0,91.67 407.0,91.43 407.9,91.55 408.9,91.90 409.8,91.68 410.8,91.45 411.7,91.49 412.7,91.18 413.6,91.05 414.6,91.51 415.5,91.68 416.5,91.66 417.4,91.92 418.4,91.79 419.3,91.42 420.3,91.60 421.2,91.79 422.2,91.70 423.1,91.96 424.1,92.05 425.0,91.56 426.0,91.37 426.9,91.40 427.9,91.17 428.9,91.32 429.8,91.74 430.8,91.61 431.7,91.47 432.7,91.60 433.6,91.37 434.6,91.29 435.5,91.78 436.5,91.94 437.4,91.87 438.4,92.07 439.3,91.86 440.3,91.39 441.2,91.48 442.2,91.60 443.1,91.46 444.1,91.69 445.0,91.80 446.0,91.51 446.9,91.54 447.9,91.81 448.8,91.82 449.8,92.21 450.7,92.86 451.7,92.94 452.6,92.99 453.6,93.29 454.5,93.25 455.5,93.32 456.5,93.97 457.4,94.42 458.4,94.78 459.3,95.51 460.3,95.88 461.2,95.91 462.2,96.29 463.1,96.43 464.1,96.03 465.0,95.75 466.0,95.16 466.9,93.93 467.9,92.97 468.8,92.25 469.8,91.36 470.7,91.06 471.7,91.35 472.6,91.43 473.6,91.79 474.5,92.58 475.5,92.92 476.4,93.10 477.4,93.43 478.3,93.12 479.3,92.40 480.2,91.95 481.2,91.19 482.1,90.26 483.1,90.03 484.1,90.02 485.0,89.93 486.0,90.37 486.9,90.77 487.9,90.61 488.8,90.65 489.8,90.78 490.7,90.45 491.7,90.31 492.6,90.33 493.6,89.72 494.5,89.09 495.5,88.82 496.4,88.32 497.4,88.14 498.3,88.71 499.3,89.17 500.2,89.54 501.2,90.28 502.1,90.70 503.1,90.85 504.0,91.51 505.0,92.16 505.9,92.14 506.9,92.07 507.8,91.55 508.8,90.20 509.7,88.89 510.7,87.63 511.6,85.91 512.6,84.42" stroke="#3cc4cc" stroke-width="0.6" fill="none"/>
<polyline points="398.4,91.67 399.4,92.14 400.3,92.04 401.3,91.76 402.2,91.85 403.2,91.72 404.1,91.55 405.1,91.93 406.0,92.06 407.0,91.77 407.9,91.76 408.9,91.60 409.8,91.16 410.8,91.28 411.7,91.62 412.7,91.58 413.6,91.76 414.6,91.96 415.5,91.60 416.5,91.48 417.4,91.76 418.4,91.75 419.3,91.87 420.3,92.26 421.2,92.09 422.2,91.70 423.1,91.71 424.1,91.51 425.0,91.30 426.0,91.66 426.9,91.82 427.9,91.58 428.9,91.64 429.8,91.57 430.8,91.22 431.7,91.43 432.7,91.84 433.6,91.83 434.6,92.02 435.5,92.20 436.5,91.80 437.4,91.59 438.4,91.78 439.3,91.68 440.3,91.71 441.2,92.04 442.2,91.83 443.1,91.44 444.1,91.47 445.0,91.33 446.0,91.34 446.9,91.93 447.9,92.33 448.8,92.31 449.8,92.58 450.7,92.70 451.7,92.50 452.6,92.84 453.6,93.38 454.5,93.53 455.5,93.86 456.5,94.24 457.4,94.19 458.4,94.50 459.3,95.36 460.3,95.97 461.2,96.61 462.2,97.32 463.1,97.18 464.1,96.51 465.0,95.98 466.0,95.12 466.9,94.18 467.9,93.85 468.8,93.37 469.8,92.60 470.7,92.28 471.7,92.07 472.6,91.83 473.6,92.42 474.5,93.39 475.5,93.91 476.4,94.32 477.4,94.30 478.3,93.38 479.3,92.55 480.2,92.20 481.2,91.70 482.1,91.46 483.1,91.64 484.1,91.39 485.0,91.04 486.0,91.19 486.9,91.20 487.9,91.17 488.8,91.63 489.8,91.78 490.7,91.37 491.7,91.12 492.6,90.68 493.6,89.89 494.5,89.68 495.5,89.76 496.4,89.57 497.4,89.70 498.3,90.01 499.3,89.89 500.2,90.06 501.2,90.73 502.1,91.15 503.1,91.68 504.0,92.48 505.0,92.68 505.9,92.33 506.9,92.05 507.8,91.33 508.8,90.37 509.7,89.80 510.7,88.89 511.6,87.41 512.6,86.10" stroke="#4444c8" stroke-width="0.6" fill="none"/>
<polyline points="398.4,91.59 399.4,91.63 400.3,91.87 401.3,91.57 402.2,91.25 403.2,91.45 404.1,91.49 405.1,91.54 406.0,92.03 407.0,92.15 407.9,91.85 408.9,91.88 409.8,91.80 410.8,91.51 411.7,91.75 412.7,92.04 413.6,91.81 414.6,91.77 415.5,91.73 416.5,91.26 417.4,91.18 418.4,91.53 419.3,91.55 420.3,91.67 421.2,92.01 422.2,91.78 423.1,91.51 424.1,91.72 425.0,91.74 426.0,91.74 426.9,92.16 427.9,92.19 428.9,91.79 429.8,91.73 430.8,91.59 431.7,91.25 432.7,91.48 433.6,91.79 434.6,91.62 435.5,91.64 436.5,91.70 437.4,91.33 438.4,91.32 439.3,91.74 440.3,91.81 441.2,91.94 442.2,92.25 443.1,91.98 444.1,91.62 445.0,91.75 446.0,91.82 446.9,91.87 447.9,92.37 448.8,92.51 449.8,92.25 450.7,92.36 451.7,92.42 452.6,92.31 453.6,92.80 454.5,93.40 455.5,93.49 456.5,93.75 457.4,94.12 458.4,94.12 459.3,94.52 460.3,95.33 461.2,95.68 462.2,95.92 463.1,96.12 464.1,95.52 465.0,94.67 466.0,94.18 466.9,93.47 467.9,92.71 468.8,92.45 469.8,91.96 470.7,91.26 471.7,91.25 472.6,91.61 473.6,92.19 474.5,93.62 475.5,95.06 476.4,95.50 477.4,95.40 478.3,94.76 479.3,93.47 480.2,92.63 481.2,92.40 482.1,91.98 483.1,91.73 484.1,91.80 485.0,91.42 486.0,91.06 486.9,91.27 487.9,91.33 488.8,91.34 489.8,91.74 490.7,91.70 491.7,91.15 492.6,90.87 493.6,90.50 494.5,89.92 495.5,89.94 496.4,90.13 497.4,89.91 498.3,89.97 499.3,90.16 500.2,90.00 501.2,90.25 502.1,90.98 503.1,91.38 504.0,91.83 505.0,92.48 505.9,92.32 506.9,91.80 507.8,91.58 508.8,91.01 509.7,90.25 510.7,89.79 511.6,88.84 512.6,87.33" stroke="#983838" stroke-width="0.6" fill="none"/>
<polyline points="398.4,91.79 399.4,91.81 400.3,91.47 401.3,91.46 402.2,91.24 403.2,90.86 404.1,91.10 405.1,91.39 406.0,91.29 407.0,91.45 407.9,91.53 408.9,91.13 409.8,91.13 410.8,91.47 411.7,91.47 412.7,91.66 413.6,91.99 414.6,91.70 415.5,91.36 416.5,91.42 417.4,91.23 418.4,91.13 419.3,91.52 420.3,91.55 421.2,91.24 422.2,91.28 423.1,91.15 424.1,90.86 425.0,91.19 426.0,91.56 426.9,91.52 427.9,91.71 428.9,91.79 429.8,91.37 430.8,91.30 431.7,91.55 432.7,91.47 433.6,91.56 434.6,91.82 435.5,91.47 436.5,91.10 437.4,91.16 438.4,91.01 439.3,90.97 440.3,91.44 441.2,91.56 442.2,91.35 443.1,91.46 444.1,91.39 445.0,91.13 446.0,91.62 446.9,92.13 447.9,92.20 448.8,92.47 449.8,92.64 450.7,92.29 451.7,92.31 452.6,92.68 453.6,92.72 454.5,92.95 455.5,93.27 456.5,92.89 457.4,92.44 458.4,92.37 459.3,92.05 460.3,91.81 461.2,92.12 462.2,92.14 463.1,91.91 464.1,92.10 465.0,92.14 466.0,91.96 466.9,92.28 467.9,92.51 468.8,92.18 469.8,92.02 470.7,91.84 471.7,91.33 472.6,91.43 473.6,92.14 474.5,92.69 475.5,93.41 476.4,94.08 477.4,93.82 478.3,93.23 479.3,92.92 480.2,92.36 481.2,91.90 482.1,91.98 483.1,91.75 484.1,91.24 485.0,91.15 486.0,90.96 486.9,90.64 487.9,90.93 488.8,91.24 489.8,91.05 490.7,90.99 491.7,90.78 492.6,90.02 493.6,89.62 494.5,89.62 495.5,89.38 496.4,89.42 497.4,89.78 498.3,89.67 499.3,89.61 500.2,90.05 501.2,90.32 502.1,90.67 503.1,91.51 504.0,91.96 505.0,92.00 505.9,92.13 506.9,91.86 507.8,91.22 508.8,91.03 509.7,90.78 510.7,90.00 511.6,89.33 512.6,88.51" stroke="#d44444" stroke-width="0.6" fill="none"/>
<polyline points="398.4,92.08 399.4,92.17 400.3,91.92 401.3,91.95 402.2,91.73 403.2,91.27 404.1,91.43 405.1,91.69 406.0,91.62 407.0,91.86 407.9,92.02 408.9,91.64 409.8,91.57 410.8,91.82 411.7,91.78 412.7,91.97 413.6,92.38 414.6,92.18 415.5,91.86 416.5,91.88 417.4,91.62 418.4,91.44 419.3,91.82 420.3,91.91 421.2,91.68 422.2,91.77 423.1,91.64 424.1,91.27 425.0,91.51 426.0,91.86 426.9,91.86 427.9,92.12 428.9,92.28 429.8,91.87 430.8,91.73 431.7,91.91 432.7,91.77 433.6,91.87 434.6,92.20 435.5,91.95 436.5,91.60 437.4,91.62 438.4,91.40 439.3,91.28 440.3,91.74 441.2,91.92 442.2,91.79 443.1,91.96 444.1,91.88 445.0,91.54 446.0,91.91 446.9,92.35 447.9,92.42 448.8,92.73 449.8,92.93 450.7,92.57 451.7,92.49 452.6,92.76 453.6,92.76 454.5,93.04 455.5,93.59 456.5,93.58 457.4,93.59 458.4,94.08 459.3,94.38 460.3,94.78 461.2,95.65 462.2,96.06 463.1,95.90 464.1,95.77 465.0,95.17 466.0,94.15 466.9,93.58 467.9,93.04 468.8,92.12 469.8,91.55 470.7,91.15 471.7,90.55 472.6,90.71 473.6,91.68 474.5,92.64 475.5,93.78 476.4,94.75 477.4,94.50 478.3,93.61 479.3,92.83 480.2,91.78 481.2,90.90 482.1,90.69 483.1,90.33 484.1,89.80 485.0,89.75 486.0,89.67 486.9,89.47 487.9,89.90 488.8,90.43 489.8,90.49 490.7,90.68 491.7,90.68 492.6,90.02 493.6,89.60 494.5,89.55 495.5,89.27 496.4,89.32 497.4,89.76 498.3,89.74 499.3,89.71 500.2,90.11 501.2,90.31 502.1,90.58 503.1,91.41 504.0,91.92 505.0,92.04 505.9,92.19 506.9,91.84 507.8,91.03 508.8,90.63 509.7,90.21 510.7,89.30 511.6,88.53 512.6,87.60" stroke="#a8a468" stroke-width="0.6" fill="none"/>
<polyline points="398.4,91.50 399.4,91.83 400.3,91.73 401.3,91.74 402.2,91.86 403.2,91.43 404.1,91.11 405.1,91.31 406.0,91.30 407.0,91.36 407.9,91.81 408.9,91.81 409.8,91.50 410.8,91.61 411.7,91.59 412.7,91.45 413.6,91.84 414.6,92.11 415.5,91.87 416.5,91.83 417.4,91.73 418.4,91.26 419.3,91.25 420.3,91.56 421.2,91.48 422.2,91.54 423.1,91.74 424.1,91.40 425.0,91.17 426.0,91.45 426.9,91.51 427.9,91.61 428.9,92.07 429.8,92.06 430.8,91.70 431.7,91.73 432.7,91.62 433.6,91.38 434.6,91.69 435.5,91.90 436.5,91.61 437.4,91.56 438.4,91.49 439.3,91.07 440.3,91.13 441.2,91.54 442.2,91.56 443.1,91.69 444.1,91.96 445.0,91.66 446.0,91.59 446.9,92.00 447.9,92.16 448.8,92.33 449.8,92.85 450.7,92.90 451.7,92.62 452.6,92.76 453.6,92.82 454.5,92.83 455.5,93.42 456.5,94.01 457.4,94.30 458.4,95.00 459.3,95.81 460.3,96.27 461.2,97.05 462.2,97.85 463.1,97.85 464.1,97.52 465.0,96.98 466.0,95.65 466.9,94.27 467.9,93.38 468.8,92.32 469.8,91.45 470.7,91.25 471.7,91.00 472.6,90.90 473.6,91.69 474.5,92.66 475.5,93.46 476.4,94.38 477.4,94.60 478.3,93.77 479.3,92.93 480.2,92.06 481.2,90.90 482.1,90.30 483.1,90.17 484.1,89.81 485.0,89.74 486.0,90.00 486.9,89.84 487.9,89.81 488.8,90.25 489.8,90.37 490.7,90.39 491.7,90.66 492.6,90.39 493.6,89.75 494.5,89.53 495.5,89.28 496.4,89.00 497.4,89.40 498.3,89.85 499.3,89.90 500.2,90.25 501.2,90.62 502.1,90.61 503.1,91.04 504.0,91.77 505.0,92.05 505.9,92.13 506.9,92.04 507.8,91.17 508.8,90.17 509.7,89.53 510.7,88.53 511.6,87.41 512.6,86.56" stroke="#3a8a3a" stroke-width="0.6" fill="none"/>
<polyline points="398.4,91.77 399.4,91.42 400.3,91.32 401.3,91.67 402.2,91.70 403.2,91.73 404.1,92.00 405.1,91.73 406.0,91.27 407.0,91.31 407.9,91.24 408.9,91.12 409.8,91.50 410.8,91.65 411.7,91.35 412.7,91.37 413.6,91.38 414.6,91.13 415.5,91.41 416.5,91.86 417.4,91.80 418.4,91.83 419.3,91.91 420.3,91.48 421.2,91.28 422.2,91.54 423.1,91.50 424.1,91.48 425.0,91.73 426.0,91.48 426.9,91.07 427.9,91.18 428.9,91.19 429.8,91.16 430.8,91.63 431.7,91.86 432.7,91.60 433.6,91.63 434.6,91.63 435.5,91.34 436.5,91.54 437.4,91.90 438.4,91.75 439.3,91.69 440.3,91.70 441.2,91.23 442.2,91.01 443.1,91.29 444.1,91.30 445.0,91.36 446.0,91.86 446.9,91.87 447.9,91.71 448.8,92.04 449.8,92.27 450.7,92.40 451.7,93.02 452.6,93.38 453.6,93.24 454.5,93.40 455.5,93.51 456.5,93.35 457.4,93.81 458.4,94.57 459.3,94.94 460.3,95.44 461.2,95.94 462.2,95.79 463.1,95.63 464.1,95.71 465.0,95.26 466.0,94.65 466.9,94.19 467.9,93.13 468.8,91.84 469.8,91.13 470.7,90.54 471.7,90.26 472.6,90.92 473.6,91.78 474.5,92.37 475.5,93.16 476.4,93.54 477.4,93.05 478.3,92.58 479.3,92.05 480.2,90.98 481.2,90.06 482.1,89.35 483.1,88.34 484.1,87.83 485.0,88.11 486.0,88.38 486.9,88.85 487.9,89.65 488.8,89.86 489.8,89.69 490.7,89.79 491.7,89.59 492.6,89.13 493.6,89.10 494.5,88.87 495.5,88.22 496.4,88.03 497.4,88.02 498.3,87.93 499.3,88.51 500.2,89.44 501.2,89.95 502.1,90.57 503.1,91.26 504.0,91.40 505.0,91.66 505.9,92.05 506.9,91.74 507.8,91.14 508.8,90.58 509.7,89.30 510.7,87.65 511.6,86.35 512.6,84.84" stroke="#8c8c8c" stroke-width="0.6" fill="none"/>
<polyline points="398.4,91.65 399.4,91.55 400.3,91.78 401.3,91.79 402.2,91.38 403.2,91.44 404.1,91.71 405.1,91.69 406.0,91.97 407.0,92.30 407.9,91.98 408.9,91.73 409.8,91.78 410.8,91.52 411.7,91.48 412.7,91.87 413.6,91.83 414.6,91.57 415.5,91.64 416.5,91.41 417.4,91.13 418.4,91.49 419.3,91.77 420.3,91.75 421.2,92.02 422.2,92.06 423.1,91.64 424.1,91.65 425.0,91.85 426.0,91.73 426.9,91.92 427.9,92.16 428.9,91.78 429.8,91.48 430.8,91.52 431.7,91.27 432.7,91.27 433.6,91.74 434.6,91.79 435.5,91.63 436.5,91.78 437.4,91.62 438.4,91.38 439.3,91.75 440.3,92.02 441.2,91.95 442.2,92.15 443.1,92.10 444.1,91.58 445.0,91.50 446.0,91.78 446.9,91.77 447.9,92.08 448.8,92.49 449.8,92.31 450.7,92.23 451.7,92.50 452.6,92.52 453.6,92.78 454.5,93.55 455.5,93.88 456.5,94.01 457.4,94.57 458.4,94.95 459.3,95.33 460.3,96.32 461.2,97.08 462.2,97.25 463.1,97.35 464.1,96.87 465.0,95.64 466.0,94.65 466.9,93.78 467.9,92.55 468.8,91.67 469.8,91.04 470.7,90.12 471.7,89.76 472.6,90.30 473.6,91.08 474.5,92.35 475.5,93.96 476.4,94.58 477.4,94.20 478.3,93.48 479.3,92.13 480.2,90.63 481.2,89.84 482.1,89.14 483.1,88.32 484.1,88.08 485.0,87.96 486.0,87.69 486.9,88.07 487.9,88.76 488.8,89.08 489.8,89.51 490.7,89.79 491.7,89.21 492.6,88.51 493.6,88.04 494.5,87.27 495.5,86.81 496.4,86.98 497.4,86.92 498.3,86.86 499.3,87.32 500.2,87.67 501.2,88.05 502.1,89.12 503.1,90.15 504.0,90.80 505.0,91.66 505.9,91.89 506.9,91.18 507.8,90.55 508.8,89.84 509.7,88.56 510.7,87.33 511.6,85.98 512.6,83.83" stroke="#34347f" stroke-width="0.6" fill="none"/>
<polyline points="398.4,91.52 399.4,91.37 400.3,91.74 401.3,91.82 402.2,91.52 403.2,91.54 404.1,91.39 405.1,91.02 406.0,91.26 407.0,91.63 407.9,91.61 408.9,91.81 409.8,91.98 410.8,91.59 411.7,91.48 412.7,91.74 413.6,91.67 414.6,91.77 415.5,92.09 416.5,91.83 417.4,91.43 418.4,91.45 419.3,91.26 420.3,91.12 421.2,91.55 422.2,91.71 423.1,91.50 424.1,91.61 425.0,91.56 426.0,91.25 426.9,91.51 427.9,91.89 428.9,91.85 429.8,91.99 430.8,92.08 431.7,91.60 432.7,91.40 433.6,91.57 434.6,91.45 435.5,91.50 436.5,91.83 437.4,91.60 438.4,91.26 439.3,91.36 440.3,91.26 441.2,91.21 442.2,91.72 443.1,91.95 444.1,91.77 445.0,91.88 446.0,91.95 446.9,91.73 447.9,92.06 448.8,92.50 449.8,92.52 450.7,92.73 451.7,92.93 452.6,92.59 453.6,92.57 454.5,93.01 455.5,93.18 456.5,93.56 457.4,94.36 458.4,94.74 459.3,95.09 460.3,95.86 461.2,96.31 462.2,96.53 463.1,96.96 464.1,96.77 465.0,95.87 466.0,95.01 466.9,93.80 467.9,92.19 468.8,91.12 469.8,90.32 470.7,89.45 471.7,89.32 472.6,89.80 473.6,90.29 474.5,91.35 475.5,92.72 476.4,93.30 477.4,93.36 478.3,93.08 479.3,91.85 480.2,90.32 481.2,89.19 482.1,87.94 483.1,86.91 484.1,86.77 485.0,86.76 486.0,86.73 486.9,87.28 487.9,87.80 488.8,88.01 489.8,88.60 490.7,89.10 491.7,88.94 492.6,88.80 493.6,88.54 494.5,87.73 495.5,87.25 496.4,87.33 497.4,87.29 498.3,87.60 499.3,88.35 500.2,88.67 501.2,88.92 502.1,89.62 503.1,90.12 504.0,90.58 505.0,91.52 505.9,91.82 506.9,91.29 507.8,90.74 508.8,89.78 509.7,88.32 510.7,87.21 511.6,86.08 512.6,84.36" stroke="#9a4aa8" stroke-width="0.6" fill="none"/>
<polyline points="398.4,91.19 399.4,91.54 400.3,91.76 401.3,91.42 402.2,91.35 403.2,91.49 404.1,91.33 405.1,91.51 406.0,91.91 407.0,91.72 407.9,91.48 408.9,91.48 409.8,91.11 410.8,90.90 411.7,91.27 412.7,91.38 413.6,91.28 414.6,91.50 415.5,91.37 416.5,91.00 417.4,91.21 418.4,91.47 419.3,91.45 420.3,91.79 421.2,91.97 422.2,91.55 423.1,91.39 424.1,91.44 425.0,91.19 426.0,91.29 426.9,91.66 427.9,91.46 428.9,91.23 429.8,91.28 430.8,90.99 431.7,90.87 432.7,91.33 433.6,91.52 434.6,91.50 435.5,91.75 436.5,91.64 437.4,91.25 438.4,91.40 439.3,91.58 440.3,91.48 441.2,91.72 442.2,91.81 443.1,91.33 444.1,91.13 445.0,91.18 446.0,91.13 446.9,91.45 447.9,92.06 448.8,92.13 449.8,92.17 450.7,92.48 451.7,92.43 452.6,92.52 453.6,93.19 454.5,93.60 455.5,93.73 456.5,94.12 457.4,94.24 458.4,94.20 459.3,94.79 460.3,95.44 461.2,95.74 462.2,96.21 463.1,96.31 464.1,95.56 465.0,94.84 466.0,94.13 466.9,92.94 467.9,91.92 468.8,91.08 469.8,89.78 470.7,88.75 471.7,88.56 472.6,88.69 473.6,89.48 474.5,91.08 475.5,92.26 476.4,92.68 477.4,92.71 478.3,91.76 479.3,90.11 480.2,88.81 481.2,87.52 482.1,86.08 483.1,85.30 484.1,84.87 485.0,84.44 486.0,84.81 486.9,85.81 487.9,86.69 488.8,87.84 489.8,89.03 490.7,89.32 491.7,89.18 492.6,89.04 493.6,88.37 494.5,87.77 495.5,87.80 496.4,87.72 497.4,87.59 498.3,87.95 499.3,88.18 500.2,88.29 501.2,89.07 502.1,89.97 503.1,90.60 504.0,91.52 505.0,92.25 505.9,91.93 506.9,91.39 507.8,90.73 508.8,89.46 509.7,88.26 510.7,87.11 511.6,85.20 512.6,83.04" stroke="#4aa3a3" stroke-width="0.6" fill="none"/>
</g>
<g clip-path="url(#cte)">
<line x1="520.3" y1="91.5" x2="634.2" y2="91.5" stroke="#a8a8a8" stroke-width="0.7"/>
<polyline points="520.3,91.56 521.2,91.58 522.2,91.41 523.1,91.41 524.1,91.37 525.0,91.24 526.0,91.41 526.9,91.61 527.9,91.59 528.8,91.64 529.8,91.69 530.7,91.49 531.7,91.43 532.6,91.58 533.6,91.56 534.5,91.57 535.5,91.69 536.4,91.53 537.4,91.32 538.3,91.36 539.3,91.33 540.2,91.29 541.2,91.52 542.1,91.61 543.1,91.48 544.0,91.51 545.0,91.51 545.9,91.38 546.9,91.51 547.8,91.71 548.8,91.66 549.7,91.66 550.7,91.67 551.6,91.43 552.6,91.32 553.5,91.45 554.5,91.43 555.4,91.43 556.4,91.58 557.3,91.48 558.3,91.30 559.2,91.38 560.2,91.40 561.1,91.39 562.1,91.63 563.0,91.75 564.0,91.61 564.9,91.60 565.9,91.58 566.8,91.40 567.8,91.47 568.7,91.64 569.7,91.56 570.6,91.53 571.6,91.55 572.5,91.33 573.5,91.22 574.4,91.38 575.4,91.41 576.3,91.45 577.2,91.64 578.2,91.59 579.1,91.40 580.1,91.45 581.0,91.45 582.0,91.35 582.9,91.48 583.9,91.50 584.8,91.23 585.8,91.10 586.7,91.04 587.7,90.95 588.6,91.16 589.6,91.44 590.5,91.26 591.5,90.91 592.4,90.62 593.4,90.21 594.3,90.01 595.3,90.19 596.2,90.29 597.2,90.36 598.1,90.57 599.1,90.52 600.0,90.29 601.0,90.27 601.9,90.21 602.9,90.05 603.8,90.13 604.8,90.17 605.7,89.96 606.7,89.88 607.6,89.89 608.6,89.78 609.5,89.91 610.5,90.25 611.4,90.38 612.4,90.52 613.3,90.75 614.3,90.75 615.2,90.75 616.2,91.03 617.1,91.18 618.1,91.24 619.0,91.46 620.0,91.45 620.9,91.25 621.9,91.27 622.8,91.30 623.8,91.24 624.7,91.41 625.7,91.58 626.6,91.46 627.6,91.44 628.5,91.48 629.5,91.36 630.4,91.42 631.4,91.67 632.3,91.68 633.3,91.65 634.2,91.72" stroke="#44c444" stroke-width="0.6" fill="none"/>
<polyline points="520.3,91.47 521.2,91.58 522.2,91.52 523.1,91.60 524.1,91.67 525.0,91.45 526.0,91.31 526.9,91.37 527.9,91.29 528.8,91.34 529.8,91.58 530.7,91.58 531.7,91.48 532.6,91.55 533.6,91.48 534.5,91.39 535.5,91.59 536.4,91.71 537.4,91.63 538.3,91.68 539.3,91.62 540.2,91.36 541.2,91.35 542.1,91.45 543.1,91.39 544.0,91.47 545.0,91.59 545.9,91.42 546.9,91.32 547.8,91.41 548.8,91.38 549.7,91.44 550.7,91.70 551.6,91.72 552.6,91.59 553.5,91.63 554.5,91.53 555.4,91.38 556.4,91.52 557.3,91.62 558.3,91.52 559.2,91.54 560.2,91.51 561.1,91.26 562.1,91.26 563.0,91.41 564.0,91.40 564.9,91.51 565.9,91.69 566.8,91.56 567.8,91.45 568.7,91.54 569.7,91.50 570.6,91.51 571.6,91.72 572.5,91.72 573.5,91.54 574.4,91.53 575.4,91.42 576.3,91.24 577.2,91.37 578.2,91.50 579.1,91.42 580.1,91.46 581.0,91.46 582.0,91.23 582.9,91.19 583.9,91.30 584.8,91.23 585.8,91.22 586.7,91.28 587.7,91.01 588.6,90.72 589.6,90.65 590.5,90.48 591.5,90.36 592.4,90.50 593.4,90.49 594.3,90.32 595.3,90.35 596.2,90.32 597.2,90.22 598.1,90.40 599.1,90.61 600.0,90.58 601.0,90.62 601.9,90.64 602.9,90.39 603.8,90.30 604.8,90.41 605.7,90.36 606.7,90.38 607.6,90.52 608.6,90.39 609.5,90.24 610.5,90.35 611.4,90.38 612.4,90.45 613.3,90.77 614.3,90.95 615.2,90.93 616.2,91.06 617.1,91.14 618.1,91.08 619.0,91.29 620.0,91.55 620.9,91.54 621.9,91.60 622.8,91.64 623.8,91.42 624.7,91.34 625.7,91.46 626.6,91.43 627.6,91.45 628.5,91.59 629.5,91.48 630.4,91.30 631.4,91.36 632.3,91.36 633.3,91.35 634.2,91.60" stroke="#d8cc3c" stroke-width="0.6" fill="none"/>
<polyline points="520.3,91.53 521.2,91.42 522.2,91.56 523.1,91.57 524.1,91.55 525.0,91.68 526.0,91.59 526.9,91.35 527.9,91.35 528.8,91.34 529.8,91.28 530.7,91.46 531.7,91.61 532.6,91.50 533.6,91.49 534.5,91.53 535.5,91.39 536.4,91.46 537.4,91.69 538.3,91.67 539.3,91.65 540.2,91.70 541.2,91.49 542.1,91.32 543.1,91.43 544.0,91.44 545.0,91.41 545.9,91.56 546.9,91.53 547.8,91.32 548.8,91.35 549.7,91.41 550.7,91.37 551.6,91.57 552.6,91.75 553.5,91.63 554.5,91.59 555.4,91.61 556.4,91.43 557.3,91.43 558.3,91.62 559.2,91.59 560.2,91.52 561.1,91.57 562.1,91.39 563.0,91.21 564.0,91.35 564.9,91.42 565.9,91.42 566.8,91.62 567.8,91.64 568.7,91.45 569.7,91.48 570.6,91.54 571.6,91.47 572.5,91.62 573.5,91.77 574.4,91.62 575.4,91.53 576.3,91.51 577.2,91.31 578.2,91.28 579.1,91.48 580.1,91.47 581.0,91.41 582.0,91.49 582.9,91.35 583.9,91.17 584.8,91.28 585.8,91.34 586.7,91.29 587.7,91.41 588.6,91.38 589.6,91.10 590.5,91.01 591.5,91.00 592.4,90.87 593.4,90.96 594.3,91.11 595.3,90.98 596.2,90.91 597.2,90.95 598.1,90.82 599.1,90.82 600.0,91.07 601.0,91.13 601.9,91.10 602.9,91.20 603.8,91.09 604.8,90.91 605.7,91.02 606.7,91.10 607.6,91.06 608.6,91.20 609.5,91.23 610.5,91.00 611.4,90.97 612.4,91.04 613.3,90.98 614.3,91.13 615.2,91.37 616.2,91.32 617.1,91.29 618.1,91.39 619.0,91.30 620.0,91.31 620.9,91.58 621.9,91.66 622.8,91.62 623.8,91.70 624.7,91.59 625.7,91.37 626.6,91.43 627.6,91.50 628.5,91.43 629.5,91.61 630.4,91.93 631.4,92.12 632.3,92.57 633.3,93.23 634.2,93.83" stroke="#d44444" stroke-width="0.6" fill="none"/>
<polyline points="520.3,91.55 521.2,91.60 522.2,91.40 523.1,91.40 524.1,91.55 525.0,91.54 526.0,91.63 526.9,91.79 527.9,91.64 528.8,91.47 529.8,91.49 530.7,91.38 531.7,91.33 532.6,91.53 533.6,91.55 534.5,91.42 535.5,91.46 536.4,91.40 537.4,91.25 538.3,91.41 539.3,91.60 540.2,91.58 541.2,91.68 542.1,91.72 543.1,91.51 544.0,91.44 545.0,91.55 545.9,91.50 546.9,91.54 547.8,91.68 548.8,91.53 549.7,91.34 550.7,91.37 551.6,91.30 552.6,91.27 553.5,91.51 554.5,91.60 555.4,91.51 556.4,91.57 557.3,91.54 558.3,91.39 559.2,91.51 560.2,91.68 561.1,91.63 562.1,91.67 563.0,91.69 564.0,91.43 564.9,91.32 565.9,91.42 566.8,91.37 567.8,91.41 568.7,91.59 569.7,91.50 570.6,91.35 571.6,91.42 572.5,91.40 573.5,91.38 574.4,91.63 575.4,91.74 576.3,91.62 577.2,91.64 578.2,91.58 579.1,91.37 580.1,91.42 581.0,91.55 582.0,91.46 582.9,91.45 583.9,91.46 584.8,91.22 585.8,91.15 586.7,91.48 587.7,91.92 588.6,92.56 589.6,93.19 590.5,93.06 591.5,92.37 592.4,91.78 593.4,91.29 594.3,91.01 595.3,91.15 596.2,91.24 597.2,91.11 598.1,91.10 599.1,91.05 600.0,90.83 601.0,90.87 601.9,91.03 602.9,90.98 603.8,91.01 604.8,91.09 605.7,90.91 606.7,90.82 607.6,90.99 608.6,91.03 609.5,91.10 610.5,91.34 611.4,91.33 612.4,91.17 613.3,91.22 614.3,91.20 615.2,91.13 616.2,91.33 617.1,91.46 618.1,91.35 619.0,91.36 620.0,91.36 620.9,91.20 621.9,91.27 622.8,91.51 623.8,91.53 624.7,91.59 625.7,91.71 626.6,91.55 627.6,91.43 628.5,91.55 629.5,91.54 630.4,91.47 631.4,91.55 632.3,91.38 633.3,91.03 634.2,90.89" stroke="#3cc4cc" stroke-width="0.6" fill="none"/>
<polyline points="520.3,91.41 521.2,91.45 522.2,91.34 523.1,91.45 524.1,91.70 525.0,91.68 526.0,91.65 526.9,91.69 527.9,91.50 528.8,91.37 529.8,91.51 530.7,91.52 531.7,91.48 532.6,91.59 533.6,91.51 534.5,91.28 535.5,91.31 536.4,91.37 537.4,91.35 538.3,91.55 539.3,91.70 540.2,91.57 541.2,91.54 542.1,91.58 543.1,91.44 544.0,91.49 545.0,91.70 545.9,91.65 546.9,91.57 547.8,91.59 548.8,91.39 549.7,91.23 550.7,91.38 551.6,91.43 552.6,91.42 553.5,91.58 554.5,91.56 555.4,91.36 556.4,91.42 557.3,91.51 558.3,91.48 559.2,91.65 560.2,91.80 561.1,91.63 562.1,91.54 563.0,91.54 564.0,91.37 564.9,91.37 565.9,91.56 566.8,91.52 567.8,91.45 568.7,91.50 569.7,91.36 570.6,91.23 571.6,91.41 572.5,91.52 573.5,91.53 574.4,91.70 575.4,91.70 576.3,91.49 577.2,91.49 578.2,91.55 579.1,91.46 580.1,91.57 581.0,91.68 582.0,91.48 582.9,91.33 583.9,91.31 584.8,91.15 585.8,91.24 586.7,91.80 587.7,92.49 588.6,93.34 589.6,94.07 590.5,93.86 591.5,92.93 592.4,92.13 593.4,91.54 594.3,91.18 595.3,91.19 596.2,91.15 597.2,90.89 598.1,90.83 599.1,90.86 600.0,90.75 601.0,90.82 601.9,90.94 602.9,90.76 603.8,90.63 604.8,90.65 605.7,90.53 606.7,90.54 607.6,90.81 608.6,90.89 609.5,90.88 610.5,91.00 611.4,90.95 612.4,90.83 613.3,91.01 614.3,91.16 615.2,91.16 616.2,91.32 617.1,91.36 618.1,91.16 619.0,91.15 620.0,91.26 620.9,91.24 621.9,91.39 622.8,91.62 623.8,91.55 624.7,91.47 625.7,91.55 626.6,91.46 627.6,91.44 628.5,91.67 629.5,91.70 630.4,91.53 631.4,91.48 632.3,91.25 633.3,90.91 634.2,90.86" stroke="#4444c8" stroke-width="0.6" fill="none"/>
<polyline points="520.3,91.43 521.2,91.40 522.2,91.63 523.1,91.70 524.1,91.64 525.0,91.70 526.0,91.59 526.9,91.35 527.9,91.39 528.8,91.47 529.8,91.41 530.7,91.52 531.7,91.58 532.6,91.37 533.6,91.31 534.5,91.40 535.5,91.36 536.4,91.47 537.4,91.72 538.3,91.67 539.3,91.58 540.2,91.62 541.2,91.49 542.1,91.40 543.1,91.58 544.0,91.63 545.0,91.53 545.9,91.57 546.9,91.47 547.8,91.23 548.8,91.29 549.7,91.42 550.7,91.40 551.6,91.54 552.6,91.66 553.5,91.49 554.5,91.44 555.4,91.54 556.4,91.48 557.3,91.55 558.3,91.76 559.2,91.69 560.2,91.54 561.1,91.54 562.1,91.39 563.0,91.26 564.0,91.44 564.9,91.52 565.9,91.44 566.8,91.52 567.8,91.48 568.7,91.29 569.7,91.36 570.6,91.53 571.6,91.53 572.5,91.66 573.5,91.78 574.4,91.59 575.4,91.47 576.3,91.52 577.2,91.42 578.2,91.41 579.1,91.57 580.1,91.46 581.0,91.24 582.0,91.16 582.9,90.93 583.9,90.67 584.8,90.68 585.8,90.62 586.7,90.42 587.7,90.47 588.6,90.49 589.6,90.24 590.5,90.02 591.5,89.73 592.4,89.27 593.4,89.09 594.3,89.11 595.3,88.94 596.2,88.88 597.2,89.04 598.1,89.06 599.1,89.14 600.0,89.39 601.0,89.37 601.9,89.19 602.9,89.17 603.8,89.04 604.8,88.87 605.7,89.02 606.7,89.16 607.6,89.13 608.6,89.26 609.5,89.35 610.5,89.27 611.4,89.43 612.4,89.76 613.3,89.92 614.3,90.20 615.2,90.52 616.2,90.54 617.1,90.58 618.1,90.81 619.0,90.92 620.0,91.06 620.9,91.40 621.9,91.51 622.8,91.44 623.8,91.53 624.7,91.49 625.7,91.37 626.6,91.53 627.6,91.67 628.5,91.58 629.5,91.56 630.4,91.42 631.4,91.00 632.3,90.76 633.3,90.66 634.2,90.38" stroke="#34347f" stroke-width="0.6" fill="none"/>
<polyline points="520.3,91.62 521.2,91.48 522.2,91.26 523.1,91.35 524.1,91.45 525.0,91.40 526.0,91.52 526.9,91.58 527.9,91.37 528.8,91.36 529.8,91.48 530.7,91.45 531.7,91.57 532.6,91.78 533.6,91.69 534.5,91.56 535.5,91.58 536.4,91.44 537.4,91.36 538.3,91.55 539.3,91.58 540.2,91.46 541.2,91.50 542.1,91.41 543.1,91.22 544.0,91.33 545.0,91.49 545.9,91.49 546.9,91.63 547.8,91.71 548.8,91.52 549.7,91.47 550.7,91.56 551.6,91.50 552.6,91.56 553.5,91.74 554.5,91.61 555.4,91.44 556.4,91.45 557.3,91.32 558.3,91.24 559.2,91.45 560.2,91.54 561.1,91.46 562.1,91.54 563.0,91.51 564.0,91.34 564.9,91.45 565.9,91.62 566.8,91.60 567.8,91.70 568.7,91.76 569.7,91.53 570.6,91.41 571.6,91.47 572.5,91.39 573.5,91.41 574.4,91.60 575.4,91.51 576.3,91.36 577.2,91.39 578.2,91.31 579.1,91.24 580.1,91.46 581.0,91.56 582.0,91.44 582.9,91.43 583.9,91.30 584.8,90.97 585.8,90.86 586.7,90.83 587.7,90.59 588.6,90.46 589.6,90.34 590.5,89.96 591.5,89.71 592.4,89.71 593.4,89.64 594.3,89.69 595.3,89.95 596.2,89.98 597.2,89.89 598.1,89.98 599.1,89.94 600.0,89.84 601.0,89.99 601.9,90.04 602.9,89.85 603.8,89.77 604.8,89.64 605.7,89.33 606.7,89.32 607.6,89.47 608.6,89.47 609.5,89.62 610.5,89.85 611.4,89.83 612.4,89.89 613.3,90.20 614.3,90.38 615.2,90.61 616.2,91.02 617.1,91.16 618.1,91.13 619.0,91.25 620.0,91.27 620.9,91.20 621.9,91.41 622.8,91.55 623.8,91.45 624.7,91.47 625.7,91.45 626.6,91.23 627.6,91.25 628.5,91.43 629.5,91.43 630.4,91.49 631.4,91.59 632.3,91.39 633.3,91.20 634.2,91.24" stroke="#3a8a3a" stroke-width="0.6" fill="none"/>
<polyline points="520.3,91.57 521.2,91.61 522.2,91.63 523.1,91.78 524.1,91.65 525.0,91.43 526.0,91.47 526.9,91.45 527.9,91.38 528.8,91.55 529.8,91.59 530.7,91.40 531.7,91.38 532.6,91.38 533.6,91.26 534.5,91.40 535.5,91.63 536.4,91.61 537.4,91.62 538.3,91.68 539.3,91.50 540.2,91.42 541.2,91.58 542.1,91.59 543.1,91.56 544.0,91.67 545.0,91.54 545.9,91.30 546.9,91.33 547.8,91.35 548.8,91.31 549.7,91.51 550.7,91.62 551.6,91.48 552.6,91.48 553.5,91.51 554.5,91.40 555.4,91.51 556.4,91.73 557.3,91.68 558.3,91.63 559.2,91.66 560.2,91.44 561.1,91.31 562.1,91.45 563.0,91.46 564.0,91.43 564.9,91.57 565.9,91.49 566.8,91.29 567.8,91.36 568.7,91.43 569.7,91.41 570.6,91.62 571.6,91.76 572.5,91.61 573.5,91.57 574.4,91.58 575.4,91.41 576.3,91.45 577.2,91.63 578.2,91.55 579.1,91.45 580.1,91.44 581.0,91.20 582.0,91.00 582.9,91.07 583.9,91.01 584.8,90.85 585.8,90.83 586.7,90.58 587.7,90.15 588.6,89.97 589.6,89.81 590.5,89.56 591.5,89.57 592.4,89.59 593.4,89.36 594.3,89.28 595.3,89.31 596.2,89.20 597.2,89.27 598.1,89.53 599.1,89.52 600.0,89.45 601.0,89.46 601.9,89.25 602.9,89.04 603.8,89.12 604.8,89.14 605.7,89.08 606.7,89.21 607.6,89.21 608.6,89.05 609.5,89.16 610.5,89.35 611.4,89.45 612.4,89.78 613.3,90.12 614.3,90.16 615.2,90.28 616.2,90.50 617.1,90.55 618.1,90.75 619.0,91.13 620.0,91.27 620.9,91.33 621.9,91.49 622.8,91.42 623.8,91.32 624.7,91.50 625.7,91.60 626.6,91.56 627.6,91.68 628.5,91.64 629.5,91.36 630.4,91.27 631.4,91.23 632.3,91.05 633.3,91.06 634.2,91.10" stroke="#a8a468" stroke-width="0.6" fill="none"/>
<polyline points="520.3,91.51 521.2,91.64 522.2,91.80 523.1,91.64 524.1,91.50 525.0,91.51 526.0,91.36 526.9,91.33 527.9,91.53 528.8,91.53 529.8,91.43 530.7,91.49 531.7,91.39 532.6,91.24 533.6,91.41 534.5,91.56 535.5,91.56 536.4,91.70 537.4,91.73 538.3,91.50 539.3,91.47 540.2,91.55 541.2,91.47 542.1,91.55 543.1,91.69 544.0,91.52 545.0,91.37 545.9,91.39 546.9,91.28 547.8,91.26 548.8,91.51 549.7,91.57 550.7,91.51 551.6,91.59 552.6,91.53 553.5,91.38 554.5,91.52 555.4,91.66 556.4,91.61 557.3,91.70 558.3,91.70 559.2,91.44 560.2,91.35 561.1,91.42 562.1,91.35 563.0,91.42 564.0,91.60 564.9,91.49 565.9,91.37 566.8,91.43 567.8,91.37 568.7,91.37 569.7,91.63 570.6,91.71 571.6,91.63 572.5,91.68 573.5,91.59 574.4,91.38 575.4,91.45 576.3,91.56 577.2,91.47 578.2,91.51 579.1,91.50 580.1,91.20 581.0,91.05 582.0,91.06 582.9,90.88 583.9,90.78 584.8,90.76 585.8,90.40 586.7,89.95 587.7,89.66 588.6,89.23 589.6,88.84 590.5,88.77 591.5,88.61 592.4,88.35 593.4,88.31 594.3,88.25 595.3,88.11 596.2,88.30 597.2,88.57 598.1,88.63 599.1,88.79 600.0,88.89 601.0,88.66 601.9,88.53 602.9,88.56 603.8,88.44 604.8,88.41 605.7,88.56 606.7,88.46 607.6,88.33 608.6,88.43 609.5,88.49 610.5,88.58 611.4,89.01 612.4,89.35 613.3,89.50 614.3,89.81 615.2,90.03 616.2,90.09 617.1,90.41 618.1,90.80 619.0,90.97 620.0,91.21 620.9,91.43 621.9,91.33 622.8,91.30 623.8,91.46 624.7,91.45 625.7,91.50 626.6,91.69 627.6,91.61 628.5,91.41 629.5,91.40 630.4,91.26 631.4,91.08 632.3,91.18 633.3,91.19 634.2,90.98" stroke="#983838" stroke-width="0.6" fill="none"/>
<polyline points="520.3,91.35 521.2,91.47 522.2,91.41 523.1,91.50 524.1,91.57 525.0,91.38 526.0,91.32 526.9,91.45 527.9,91.44 528.8,91.53 529.8,91.76 530.7,91.71 531.7,91.56 532.6,91.58 533.6,91.48 534.5,91.38 535.5,91.55 536.4,91.62 537.4,91.49 538.3,91.50 539.3,91.43 540.2,91.22 541.2,91.29 542.1,91.47 543.1,91.47 544.0,91.58 545.0,91.70 545.9,91.52 546.9,91.44 547.8,91.55 548.8,91.52 549.7,91.55 550.7,91.75 551.6,91.66 552.6,91.47 553.5,91.46 554.5,91.36 555.4,91.24 556.4,91.43 557.3,91.54 558.3,91.45 559.2,91.51 560.2,91.50 561.1,91.32 562.1,91.40 563.0,91.60 564.0,91.60 564.9,91.67 565.9,91.77 566.8,91.57 567.8,91.42 568.7,91.49 569.7,91.43 570.6,91.42 571.6,91.60 572.5,91.55 573.5,91.36 574.4,91.38 575.4,91.33 576.3,91.24 577.2,91.43 578.2,91.57 579.1,91.46 580.1,91.44 581.0,91.33 582.0,90.96 582.9,90.76 583.9,90.62 584.8,90.21 585.8,89.79 586.7,89.36 587.7,88.61 588.6,87.90 589.6,87.47 590.5,87.01 591.5,86.71 592.4,86.74 593.4,86.70 594.3,86.61 595.3,86.82 596.2,87.01 597.2,87.14 598.1,87.52 599.1,87.81 600.0,87.77 601.0,87.74 601.9,87.62 602.9,87.23 603.8,87.04 604.8,87.05 605.7,86.91 606.7,86.90 607.6,87.06 608.6,87.03 609.5,87.10 610.5,87.50 611.4,87.87 612.4,88.28 613.3,88.93 614.3,89.38 615.2,89.61 616.2,89.98 617.1,90.27 618.1,90.41 619.0,90.78 620.0,91.11 620.9,91.14 621.9,91.22 622.8,91.30 623.8,91.13 624.7,91.14 625.7,91.36 626.6,91.40 627.6,91.47 628.5,91.64 629.5,91.51 630.4,91.25 631.4,91.20 632.3,91.03 633.3,90.78 634.2,90.73" stroke="#c83cc0" stroke-width="0.6" fill="none"/>
<polyline points="520.3,91.54 521.2,91.55 522.2,91.36 523.1,91.24 524.1,91.41 525.0,91.47 526.0,91.44 526.9,91.56 527.9,91.52 528.8,91.33 529.8,91.41 530.7,91.53 531.7,91.51 532.6,91.68 533.6,91.79 534.5,91.60 535.5,91.50 536.4,91.52 537.4,91.38 538.3,91.41 539.3,91.60 540.2,91.53 541.2,91.42 542.1,91.46 543.1,91.32 544.0,91.23 545.0,91.44 545.9,91.56 546.9,91.55 547.8,91.69 548.8,91.66 549.7,91.45 550.7,91.49 551.6,91.58 552.6,91.52 553.5,91.62 554.5,91.71 555.4,91.50 556.4,91.37 557.3,91.39 558.3,91.27 559.2,91.31 560.2,91.55 561.1,91.54 562.1,91.47 563.0,91.55 564.0,91.45 564.9,91.35 565.9,91.55 566.8,91.67 567.8,91.63 568.7,91.72 569.7,91.67 570.6,91.41 571.6,91.39 572.5,91.46 573.5,91.38 574.4,91.47 575.4,91.59 576.3,91.40 577.2,91.27 578.2,91.29 579.1,91.15 580.1,91.08 581.0,91.17 582.0,90.94 582.9,90.51 583.9,90.10 584.8,89.42 585.8,88.57 586.7,87.93 587.7,87.19 588.6,86.26 589.6,85.54 590.5,84.84 591.5,84.08 592.4,83.76 593.4,83.78 594.3,83.85 595.3,84.21 596.2,84.72 597.2,84.94 598.1,85.13 599.1,85.41 600.0,85.42 601.0,85.39 601.9,85.48 602.9,85.27 603.8,84.90 604.8,84.69 605.7,84.41 606.7,84.16 607.6,84.35 608.6,84.67 609.5,84.94 610.5,85.47 611.4,86.03 612.4,86.42 613.3,87.04 614.3,87.83 615.2,88.43 616.2,89.11 617.1,89.80 618.1,90.12 619.0,90.34 620.0,90.68 620.9,90.82 621.9,90.95 622.8,91.28 623.8,91.39 624.7,91.31 625.7,91.37 626.6,91.32 627.6,91.17 628.5,91.32 629.5,91.46 630.4,91.28 631.4,91.14 632.3,90.91 633.3,90.36 634.2,89.94" stroke="#9a4aa8" stroke-width="0.6" fill="none"/>
<polyline points="520.3,91.54 521.2,91.50 522.2,91.49 523.1,91.37 524.1,91.46 525.0,91.62 526.0,91.49 526.9,91.41 527.9,91.43 528.8,91.28 529.8,91.26 530.7,91.51 531.7,91.57 532.6,91.57 533.6,91.70 534.5,91.60 535.5,91.42 536.4,91.52 537.4,91.58 538.3,91.53 539.3,91.67 540.2,91.68 541.2,91.43 542.1,91.36 543.1,91.37 544.0,91.26 545.0,91.37 545.9,91.59 546.9,91.52 547.8,91.47 548.8,91.54 549.7,91.41 550.7,91.39 551.6,91.62 552.6,91.68 553.5,91.64 554.5,91.73 555.4,91.60 556.4,91.36 557.3,91.41 558.3,91.46 559.2,91.40 560.2,91.53 561.1,91.58 562.1,91.37 563.0,91.33 564.0,91.40 564.9,91.33 565.9,91.46 566.8,91.70 567.8,91.66 568.7,91.59 569.7,91.64 570.6,91.49 571.6,91.40 572.5,91.58 573.5,91.61 574.4,91.52 575.4,91.57 576.3,91.43 577.2,91.15 578.2,91.14 579.1,91.12 580.1,90.92 581.0,90.82 582.0,90.55 582.9,89.85 583.9,89.12 584.8,88.34 585.8,87.23 586.7,86.15 587.7,85.13 588.6,83.81 589.6,82.53 590.5,81.56 591.5,80.68 592.4,80.15 593.4,80.24 594.3,80.52 595.3,80.91 596.2,81.60 597.2,82.18 598.1,82.57 599.1,83.10 600.0,83.54 601.0,83.65 601.9,83.76 602.9,83.73 603.8,83.33 604.8,83.02 605.7,82.92 606.7,82.77 607.6,82.89 608.6,83.35 609.5,83.69 610.5,84.09 611.4,84.77 612.4,85.36 613.3,86.02 614.3,86.99 615.2,87.85 616.2,88.50 617.1,89.23 618.1,89.75 619.0,89.99 620.0,90.40 620.9,90.81 621.9,91.00 622.8,91.26 623.8,91.48 624.7,91.36 625.7,91.28 626.6,91.34 627.6,91.26 628.5,91.29 629.5,91.48 630.4,91.24 631.4,90.81 632.3,90.48 633.3,89.93 634.2,89.32" stroke="#4aa3a3" stroke-width="0.6" fill="none"/>
<polyline points="520.3,91.49 521.2,91.66 522.2,91.62 523.1,91.68 524.1,91.72 525.0,91.47 526.0,91.35 526.9,91.43 527.9,91.37 528.8,91.41 529.8,91.60 530.7,91.52 531.7,91.37 532.6,91.43 533.6,91.40 534.5,91.37 535.5,91.61 536.4,91.74 537.4,91.66 538.3,91.70 539.3,91.65 540.2,91.44 541.2,91.48 542.1,91.62 543.1,91.56 544.0,91.59 545.0,91.64 545.9,91.42 546.9,91.30 547.8,91.42 548.8,91.42 549.7,91.48 550.7,91.72 551.6,91.70 552.6,91.56 553.5,91.62 554.5,91.59 555.4,91.51 556.4,91.71 557.3,91.82 558.3,91.69 559.2,91.67 560.2,91.61 561.1,91.37 562.1,91.39 563.0,91.55 564.0,91.52 564.9,91.58 565.9,91.68 566.8,91.52 567.8,91.42 568.7,91.57 569.7,91.59 570.6,91.62 571.6,91.76 572.5,91.63 573.5,91.36 574.4,91.24 575.4,90.30 576.3,89.17 577.2,88.93 578.2,87.88 579.1,86.16 580.1,85.45 581.0,84.21 582.0,81.50 582.9,78.76 583.9,76.94 584.8,76.39 585.8,75.08 586.7,72.99 587.7,70.60 588.6,69.07 589.6,68.92 590.5,68.31 591.5,67.47 592.4,66.89 593.4,66.47 594.3,66.49 595.3,67.13 596.2,67.78 597.2,68.03 598.1,68.90 599.1,70.73 600.0,71.90 601.0,71.94 601.9,71.75 602.9,71.32 603.8,71.21 604.8,71.70 605.7,72.60 606.7,73.76 607.6,74.83 608.6,75.08 609.5,75.27 610.5,76.34 611.4,77.66 612.4,79.02 613.3,80.36 614.3,81.01 615.2,81.04 616.2,81.89 617.1,83.15 618.1,84.48 619.0,85.94 620.0,86.99 620.9,87.21 621.9,88.27 622.8,89.64 623.8,89.96 624.7,90.01 625.7,90.33 626.6,90.46 627.6,90.54 628.5,90.59 629.5,90.11 630.4,89.48 631.4,89.22 632.3,88.68 633.3,83.55 634.2,80.06" stroke="#8c8c8c" stroke-width="0.6" fill="none"/>
</g>
<g clip-path="url(#ctf)">
<line x1="641.5" y1="91.0" x2="755.5" y2="91.0" stroke="#a8a8a8" stroke-width="0.7"/>
<polyline points="641.5,90.02 642.5,90.70 643.4,90.46 644.4,90.60 645.3,90.74 646.2,90.21 647.2,90.43 648.1,91.18 649.1,91.13 650.0,91.15 651.0,91.41 652.0,90.75 652.9,90.15 653.9,90.52 654.8,90.56 655.8,90.58 656.7,91.28 657.6,91.27 658.6,90.66 659.5,90.82 660.5,90.92 661.5,90.72 662.4,91.40 663.4,91.96 664.3,91.52 665.2,91.38 666.2,91.29 667.1,90.53 668.1,90.48 669.0,91.09 670.0,90.96 671.0,90.89 671.9,91.17 672.9,90.59 673.8,90.10 674.8,90.61 675.7,90.83 676.6,90.94 677.6,91.70 678.5,91.76 679.5,91.10 680.5,91.14 681.4,91.14 682.4,90.76 683.3,91.24 684.2,91.70 685.2,91.16 686.1,90.92 687.1,90.85 688.0,90.14 689.0,90.13 690.0,90.88 690.9,90.94 691.9,91.01 692.8,91.45 693.8,91.03 694.7,90.56 695.6,91.06 696.6,91.26 697.5,91.26 698.5,91.88 699.5,91.85 700.4,91.04 701.4,90.93 702.3,90.87 703.2,90.46 704.2,90.93 705.1,91.53 706.1,91.17 707.0,91.08 708.0,91.24 709.0,90.75 709.9,90.86 710.9,91.74 711.8,91.91 712.8,91.95 713.7,92.33 714.6,91.81 715.6,91.12 716.5,91.39 717.5,91.41 718.5,91.18 719.4,91.63 720.4,91.55 721.3,90.68 722.2,90.53 723.2,90.55 724.1,90.21 725.1,90.74 726.0,91.47 727.0,91.22 728.0,91.15 728.9,91.33 729.9,90.77 730.8,90.68 731.8,91.38 732.7,91.37 733.6,91.17 734.6,91.36 735.5,90.72 736.5,89.87 737.5,90.03 738.4,90.08 739.4,89.87 740.3,90.40 741.2,90.48 742.2,89.74 743.1,89.66 744.1,89.80 745.0,89.49 746.0,89.95 747.0,90.64 747.9,90.28 748.9,89.99 749.8,89.96 750.8,89.22 751.7,88.88 752.6,89.41 753.6,89.32 754.5,89.03 755.5,89.22" stroke="#983838" stroke-width="0.6" fill="none"/>
<polyline points="641.5,88.70 642.5,89.18 643.4,90.20 644.4,90.33 645.3,90.44 646.2,90.84 647.2,90.40 648.1,90.13 649.1,90.80 650.0,91.03 651.0,91.02 652.0,91.55 652.9,91.23 653.9,90.35 654.8,90.38 655.8,90.49 656.7,90.30 657.6,90.95 658.6,91.46 659.5,90.99 660.5,90.92 661.5,91.09 662.4,90.68 663.4,90.94 664.3,91.75 665.2,91.66 666.2,91.45 667.1,91.57 668.1,90.88 669.0,90.30 670.0,90.74 671.0,90.85 671.9,90.72 672.9,91.20 673.8,91.05 674.8,90.32 675.7,90.48 676.6,90.76 677.6,90.67 678.5,91.35 679.5,91.93 680.5,91.45 681.4,91.25 682.4,91.30 683.3,90.74 684.2,90.78 685.2,91.46 686.1,91.29 687.1,90.99 688.0,91.11 689.0,90.50 690.0,89.97 690.9,90.53 691.9,90.83 692.8,90.85 693.8,91.46 694.7,91.48 695.6,90.81 696.6,90.94 697.5,91.22 698.5,91.04 699.5,91.58 700.4,92.08 701.4,91.51 702.3,91.19 703.2,91.22 704.2,90.70 705.1,90.77 706.1,91.61 707.0,91.68 708.0,91.59 709.0,91.96 709.9,91.62 710.9,91.24 711.8,91.89 712.8,92.28 713.7,92.25 714.6,92.73 715.6,92.62 716.5,91.70 717.5,91.52 718.5,91.55 719.4,91.11 720.4,91.39 721.3,91.76 722.2,91.11 723.2,90.69 724.1,90.73 725.1,90.25 726.0,90.32 727.0,91.20 728.0,91.35 728.9,91.23 729.9,91.50 730.8,91.02 731.8,90.39 732.7,90.77 733.6,90.94 734.6,90.64 735.5,90.89 736.5,90.64 737.5,89.58 738.4,89.27 739.4,89.28 740.3,88.86 741.2,89.15 742.2,89.63 743.1,89.09 744.1,88.70 745.0,88.77 746.0,88.28 747.0,88.20 747.9,88.93 748.9,88.90 749.8,88.49 750.8,88.52 751.7,87.86 752.6,86.97 753.6,87.13 754.5,87.19 755.5,86.79" stroke="#4444c8" stroke-width="0.6" fill="none"/>
<polyline points="641.5,88.75 642.5,89.31 643.4,90.09 644.4,89.90 645.3,89.85 646.2,90.02 647.2,89.43 648.1,89.33 649.1,90.14 650.0,90.43 651.0,90.66 652.0,91.37 652.9,91.10 653.9,90.51 654.8,90.88 655.8,91.10 656.7,91.06 657.6,91.74 658.6,91.97 659.5,91.25 660.5,91.05 661.5,90.96 662.4,90.38 663.4,90.64 664.3,91.26 665.2,90.96 666.2,90.80 667.1,90.93 668.1,90.35 669.0,90.17 670.0,90.94 671.0,91.19 671.9,91.28 672.9,91.83 673.8,91.55 674.8,90.84 675.7,91.04 676.6,91.13 677.6,90.91 678.5,91.43 679.5,91.60 680.5,90.82 681.4,90.58 682.4,90.56 683.3,90.08 684.2,90.42 685.2,91.23 686.1,91.13 687.1,91.08 688.0,91.34 689.0,90.84 690.0,90.61 690.9,91.32 691.9,91.51 692.8,91.43 693.8,91.83 694.7,91.44 695.6,90.57 696.6,90.63 697.5,90.71 698.5,90.48 699.5,91.04 700.4,91.39 701.4,90.80 702.3,90.72 703.2,90.92 704.2,90.63 705.1,91.08 706.1,92.02 707.0,92.01 708.0,91.93 709.0,92.15 709.9,91.58 710.9,91.17 711.8,91.72 712.8,91.80 713.7,91.58 714.6,91.89 715.6,91.51 716.5,90.62 717.5,90.69 718.5,90.87 719.4,90.72 720.4,91.34 721.3,91.80 722.2,91.26 723.2,91.12 724.1,91.26 725.1,90.84 726.0,91.05 727.0,91.80 728.0,91.60 728.9,91.27 729.9,91.27 730.8,90.52 731.8,89.91 732.7,90.36 733.6,90.46 734.6,90.27 735.5,90.66 736.5,90.44 737.5,89.65 738.4,89.77 739.4,90.02 740.3,89.84 741.2,90.35 742.2,90.73 743.1,90.02 744.1,89.60 745.0,89.51 746.0,88.85 747.0,88.77 747.9,89.33 748.9,89.02 749.8,88.57 750.8,88.58 751.7,87.94 752.6,87.39 753.6,87.93 754.5,88.19 755.5,88.07" stroke="#9a4aa8" stroke-width="0.6" fill="none"/>
<polyline points="641.5,90.42 642.5,89.65 643.4,89.78 644.4,89.86 645.3,89.75 646.2,90.52 647.2,91.07 648.1,90.69 649.1,90.77 650.0,90.95 651.0,90.56 652.0,90.94 652.9,91.73 653.9,91.61 654.8,91.49 655.8,91.61 656.7,90.86 657.6,90.32 658.6,90.75 659.5,90.79 660.5,90.71 661.5,91.24 662.4,91.04 663.4,90.34 664.3,90.53 665.2,90.72 666.2,90.62 667.1,91.37 668.1,91.91 669.0,91.44 670.0,91.31 671.0,91.32 671.9,90.70 672.9,90.79 673.8,91.44 674.8,91.24 675.7,91.03 676.6,91.16 677.6,90.48 678.5,89.99 679.5,90.53 680.5,90.76 681.4,90.82 682.4,91.49 683.3,91.46 684.2,90.81 685.2,90.97 686.1,91.14 687.1,90.94 688.0,91.51 689.0,91.94 690.0,91.33 690.9,91.03 691.9,90.94 692.8,90.27 693.8,90.30 694.7,91.02 695.6,90.95 696.6,90.85 697.5,91.16 698.5,90.69 699.5,90.30 700.4,90.94 701.4,91.27 702.3,91.34 703.2,91.97 704.2,91.92 705.1,91.14 706.1,91.13 707.0,91.20 708.0,90.87 709.0,91.32 709.9,91.77 710.9,91.19 711.8,90.92 712.8,90.96 713.7,90.43 714.6,90.54 715.6,91.40 716.5,91.49 717.5,91.43 718.5,91.76 719.4,91.29 720.4,90.77 721.3,91.24 722.2,91.43 723.2,91.28 724.1,91.71 725.1,91.54 726.0,90.62 727.0,90.49 728.0,90.56 728.9,90.25 729.9,90.72 730.8,91.29 731.8,90.85 732.7,90.65 733.6,90.81 734.6,90.35 735.5,90.42 736.5,91.25 737.5,91.29 738.4,91.07 739.4,91.24 740.3,90.63 741.2,89.88 742.2,90.16 743.1,90.25 744.1,90.00 745.0,90.38 746.0,90.29 747.0,89.43 747.9,89.35 748.9,89.55 749.8,89.33 750.8,89.86 751.7,90.53 752.6,90.14 753.6,89.86 754.5,89.94 755.5,89.36" stroke="#d44444" stroke-width="0.6" fill="none"/>
<polyline points="641.5,90.76 642.5,90.62 643.4,90.78 644.4,90.87 645.3,90.13 646.2,90.04 647.2,90.62 648.1,90.57 649.1,90.69 650.0,91.17 651.0,90.69 652.0,90.17 652.9,90.48 653.9,90.51 654.8,90.57 655.8,91.44 656.7,91.67 657.6,91.17 658.6,91.26 659.5,91.18 660.5,90.71 661.5,91.17 662.4,91.71 663.4,91.34 664.3,91.25 665.2,91.19 666.2,90.34 667.1,90.12 668.1,90.69 669.0,90.69 670.0,90.84 671.0,91.41 671.9,91.04 672.9,90.53 673.8,90.90 674.8,90.99 675.7,91.00 676.6,91.77 677.6,91.94 678.5,91.28 679.5,91.18 680.5,90.98 681.4,90.36 682.4,90.69 683.3,91.24 684.2,90.92 685.2,90.88 686.1,90.97 687.1,90.29 688.0,90.18 689.0,90.90 690.0,91.06 690.9,91.26 691.9,91.86 692.8,91.51 693.8,90.89 694.7,91.11 695.6,91.08 696.6,90.90 697.5,91.51 698.5,91.62 699.5,90.90 700.4,90.76 701.4,90.64 702.3,90.12 703.2,90.56 704.2,91.32 705.1,91.23 706.1,91.35 707.0,91.63 708.0,91.08 709.0,90.97 709.9,91.68 710.9,91.80 711.8,91.84 712.8,92.30 713.7,91.83 714.6,90.99 715.6,91.05 716.5,90.93 717.5,90.66 718.5,91.24 719.4,91.45 720.4,90.82 721.3,90.76 722.2,90.79 723.2,90.36 724.1,90.82 725.1,91.63 726.0,91.53 727.0,91.53 728.0,91.70 728.9,91.00 729.9,90.60 730.8,91.06 731.8,90.97 732.7,90.80 733.6,91.13 734.6,90.64 735.5,89.77 736.5,89.83 737.5,89.84 738.4,89.66 739.4,90.33 740.3,90.68 741.2,90.11 742.2,90.02 743.1,90.01 744.1,89.46 745.0,89.68 746.0,90.30 747.0,89.98 747.9,89.69 748.9,89.65 749.8,88.77 750.8,88.20 751.7,88.59 752.6,88.56 753.6,88.43 754.5,88.87 755.5,88.56" stroke="#d8cc3c" stroke-width="0.6" fill="none"/>
<polyline points="641.5,87.13 642.5,87.42 643.4,88.11 644.4,88.01 645.3,87.65 646.2,88.31 647.2,88.86 648.1,89.06 649.1,89.94 650.0,90.41 651.0,90.04 652.0,90.36 652.9,90.59 653.9,90.38 654.8,90.92 655.8,91.72 656.7,91.48 657.6,91.29 658.6,91.44 659.5,90.90 660.5,90.73 661.5,91.42 662.4,91.45 663.4,91.18 664.3,91.37 665.2,90.86 666.2,90.08 667.1,90.37 668.1,90.65 669.0,90.58 670.0,91.19 671.0,91.46 671.9,90.82 672.9,90.79 673.8,91.06 674.8,90.83 675.7,91.25 676.6,91.97 677.6,91.62 678.5,91.23 679.5,91.24 680.5,90.60 681.4,90.28 682.4,90.92 683.3,91.02 684.2,90.80 685.2,91.11 686.1,90.80 687.1,90.15 688.0,90.55 689.0,91.00 690.0,91.00 690.9,91.62 691.9,91.92 692.8,91.22 693.8,91.02 694.7,91.17 695.6,90.78 696.6,91.01 697.5,91.63 698.5,91.25 699.5,90.82 700.4,90.88 701.4,90.37 702.3,90.16 703.2,90.99 704.2,91.34 705.1,91.32 706.1,91.81 707.0,91.68 708.0,91.10 709.0,91.48 709.9,91.91 710.9,91.81 711.8,92.26 712.8,92.45 713.7,91.59 714.6,91.18 715.6,91.22 716.5,90.75 717.5,90.90 718.5,91.56 719.4,91.28 720.4,90.90 721.3,91.07 722.2,90.67 723.2,90.46 724.1,91.28 725.1,91.63 726.0,91.48 727.0,91.80 728.0,91.53 728.9,90.71 729.9,90.73 730.8,90.86 731.8,90.45 732.7,90.62 733.6,90.66 734.6,89.70 735.5,89.18 736.5,89.21 737.5,88.77 738.4,88.88 739.4,89.55 740.3,89.27 741.2,88.77 742.2,88.78 743.1,88.18 744.1,87.63 745.0,88.08 746.0,88.10 747.0,87.56 747.9,87.50 748.9,86.93 749.8,85.78 750.8,85.60 751.7,85.70 752.6,85.30 753.6,85.48 754.5,85.65 755.5,84.80" stroke="#3cc4cc" stroke-width="0.6" fill="none"/>
<polyline points="641.5,90.43 642.5,90.73 643.4,90.29 644.4,90.35 645.3,90.16 646.2,89.49 647.2,89.83 648.1,90.52 649.1,90.53 650.0,90.92 651.0,91.35 652.0,90.82 652.9,90.60 653.9,91.11 654.8,91.11 655.8,91.30 656.7,91.98 657.6,91.68 658.6,90.98 659.5,90.99 660.5,90.67 661.5,90.30 662.4,90.93 663.4,91.23 664.3,90.79 665.2,90.86 666.2,90.78 667.1,90.17 668.1,90.51 669.0,91.25 670.0,91.26 671.0,91.54 671.9,91.87 672.9,91.19 673.8,90.78 674.8,91.14 675.7,91.00 676.6,91.00 677.6,91.58 678.5,91.26 679.5,90.53 680.5,90.57 681.4,90.37 682.4,90.11 683.3,90.86 684.2,91.37 685.2,91.08 686.1,91.24 687.1,91.26 688.0,90.65 689.0,90.89 690.0,91.55 690.9,91.44 691.9,91.54 692.8,91.74 693.8,90.95 694.7,90.39 695.6,90.68 696.6,90.56 697.5,90.59 698.5,91.28 699.5,91.17 700.4,90.60 701.4,90.80 702.3,90.80 703.2,90.65 704.2,91.47 705.1,92.08 706.1,91.79 707.0,91.87 708.0,91.83 709.0,91.10 709.9,91.16 710.9,91.73 711.8,91.55 712.8,91.55 713.7,91.77 714.6,91.04 715.6,90.49 716.5,90.87 717.5,90.88 718.5,90.98 719.4,91.75 720.4,91.74 721.3,91.14 722.2,91.25 723.2,91.17 724.1,90.83 725.1,91.41 726.0,91.84 727.0,91.35 728.0,91.21 728.9,91.05 729.9,90.23 730.8,90.19 731.8,90.80 732.7,90.74 733.6,90.85 734.6,91.25 735.5,90.73 736.5,90.30 737.5,90.78 738.4,90.90 739.4,90.98 740.3,91.71 741.2,91.67 742.2,90.93 743.1,90.87 744.1,90.67 745.0,90.17 746.0,90.62 747.0,91.04 747.9,90.57 748.9,90.46 749.8,90.44 750.8,89.76 751.7,89.82 752.6,90.59 753.6,90.68 754.5,90.84 755.5,91.29" stroke="#c83cc0" stroke-width="0.6" fill="none"/>
<polyline points="641.5,88.32 642.5,87.68 643.4,87.72 644.4,88.43 645.3,88.62 646.2,89.15 647.2,90.06 648.1,89.97 649.1,89.80 650.0,90.39 651.0,90.59 652.0,90.86 652.9,91.71 653.9,91.90 654.8,91.37 655.8,91.36 656.7,91.04 657.6,90.34 658.6,90.66 659.5,91.13 660.5,90.86 661.5,90.98 662.4,91.08 663.4,90.33 664.3,90.21 665.2,90.81 666.2,90.87 667.1,91.19 668.1,91.89 669.0,91.55 670.0,91.00 671.0,91.19 671.9,90.99 672.9,90.80 673.8,91.46 674.8,91.57 675.7,90.95 676.6,90.89 677.6,90.63 678.5,89.99 679.5,90.38 680.5,91.03 681.4,90.94 682.4,91.18 683.3,91.44 684.2,90.80 685.2,90.65 686.1,91.23 687.1,91.24 688.0,91.40 689.0,91.96 690.0,91.52 690.9,90.78 691.9,90.83 692.8,90.58 693.8,90.32 694.7,91.00 695.6,91.25 696.6,90.76 697.5,90.84 698.5,90.79 699.5,90.31 700.4,90.80 701.4,91.60 702.3,91.59 703.2,91.84 704.2,92.11 705.1,91.44 706.1,91.17 707.0,91.66 708.0,91.62 709.0,91.70 709.9,92.25 710.9,91.87 711.8,91.16 712.8,91.27 713.7,91.15 714.6,90.97 715.6,91.72 716.5,92.09 717.5,91.63 718.5,91.66 719.4,91.57 720.4,90.95 721.3,91.20 722.2,91.81 723.2,91.58 724.1,91.54 725.1,91.61 726.0,90.75 727.0,90.26 728.0,90.65 728.9,90.60 729.9,90.55 730.8,91.04 731.8,90.67 732.7,89.89 733.6,89.93 734.6,89.78 735.5,89.47 736.5,90.05 737.5,90.29 738.4,89.59 739.4,89.31 740.3,88.94 741.2,87.98 742.2,87.86 743.1,88.19 744.1,87.71 745.0,87.42 746.0,87.34 747.0,86.38 747.9,85.72 748.9,86.01 749.8,85.89 750.8,85.79 751.7,86.28 752.6,85.91 753.6,85.03 754.5,84.91 755.5,84.61" stroke="#8c8c8c" stroke-width="0.6" fill="none"/>
<polyline points="641.5,88.45 642.5,89.17 643.4,89.71 644.4,89.38 645.3,89.49 646.2,89.64 647.2,89.20 648.1,89.61 649.1,90.60 650.0,90.84 651.0,91.20 652.0,91.77 652.9,91.21 653.9,90.75 654.8,91.17 655.8,91.17 656.7,91.11 657.6,91.66 658.6,91.43 659.5,90.61 660.5,90.56 661.5,90.45 662.4,90.12 663.4,90.76 664.3,91.33 665.2,90.99 666.2,91.03 667.1,91.14 668.1,90.59 669.0,90.77 670.0,91.55 671.0,91.54 671.9,91.55 672.9,91.80 673.8,91.11 674.8,90.46 675.7,90.76 676.6,90.73 677.6,90.63 678.5,91.23 679.5,91.15 680.5,90.46 681.4,90.54 682.4,90.62 683.3,90.41 684.2,91.12 685.2,91.78 686.1,91.47 687.1,91.43 688.0,91.46 689.0,90.78 690.0,90.74 690.9,91.37 691.9,91.25 692.8,91.13 693.8,91.35 694.7,90.70 695.6,90.07 696.6,90.46 697.5,90.61 698.5,90.67 699.5,91.44 700.4,91.59 701.4,91.02 702.3,91.17 703.2,91.33 704.2,91.11 705.1,91.74 706.1,92.39 707.0,92.02 708.0,91.86 709.0,91.86 709.9,91.14 710.9,91.04 711.8,91.70 712.8,91.67 713.7,91.60 714.6,91.93 715.6,91.42 716.5,90.83 717.5,91.24 718.5,91.43 719.4,91.41 720.4,92.06 721.3,92.11 722.2,91.33 723.2,91.21 724.1,91.14 725.1,90.66 726.0,91.02 727.0,91.52 728.0,91.05 728.9,90.80 729.9,90.73 730.8,89.97 731.8,89.79 732.7,90.45 733.6,90.47 734.6,90.38 735.5,90.70 736.5,90.17 737.5,89.43 738.4,89.65 739.4,89.65 740.3,89.36 741.2,89.72 742.2,89.55 743.1,88.51 744.1,88.11 745.0,87.88 746.0,87.24 747.0,87.45 747.9,87.92 748.9,87.43 749.8,87.11 750.8,87.09 751.7,86.40 752.6,86.16 753.6,86.79 754.5,86.75 755.5,86.50" stroke="#3a8a3a" stroke-width="0.6" fill="none"/>
<polyline points="641.5,88.68 642.5,89.08 643.4,89.48 644.4,89.59 645.3,90.46 646.2,91.04 647.2,90.61 648.1,90.63 649.1,90.83 650.0,90.48 651.0,90.83 652.0,91.63 652.9,91.34 653.9,91.04 654.8,91.08 655.8,90.39 656.7,89.99 657.6,90.62 658.6,90.85 659.5,90.85 660.5,91.41 661.5,91.27 662.4,90.62 663.4,90.88 664.3,91.17 665.2,91.05 666.2,91.64 667.1,91.98 668.1,91.28 669.0,90.97 670.0,90.92 671.0,90.35 671.9,90.47 672.9,91.17 673.8,90.99 674.8,90.78 675.7,90.98 676.6,90.49 677.6,90.20 678.5,90.94 679.5,91.29 680.5,91.31 681.4,91.84 682.4,91.67 683.3,90.88 684.2,90.96 685.2,91.10 686.1,90.82 687.1,91.26 688.0,91.56 689.0,90.85 690.0,90.52 690.9,90.58 691.9,90.13 692.8,90.36 693.8,91.24 694.7,91.25 695.6,91.14 696.6,91.44 697.5,91.01 698.5,90.65 699.5,91.30 700.4,91.58 701.4,91.45 702.3,91.84 703.2,91.62 704.2,90.74 705.1,90.73 706.1,90.93 707.0,90.73 708.0,91.26 709.0,91.78 709.9,91.28 710.9,91.10 711.8,91.34 712.8,91.01 713.7,91.24 714.6,92.12 715.6,92.10 716.5,91.82 717.5,91.95 718.5,91.35 719.4,90.72 720.4,91.13 721.3,91.28 722.2,91.01 723.2,91.32 724.1,91.13 725.1,90.27 726.0,90.30 727.0,90.62 728.0,90.52 728.9,91.11 729.9,91.68 730.8,91.14 731.8,90.81 732.7,90.88 733.6,90.37 734.6,90.30 735.5,90.93 736.5,90.71 737.5,90.17 738.4,90.09 739.4,89.38 740.3,88.60 741.2,88.93 742.2,89.11 743.1,88.84 744.1,89.17 745.0,89.06 746.0,88.20 747.0,88.14 747.9,88.40 748.9,88.14 749.8,88.48 750.8,88.89 751.7,88.18 752.6,87.59 753.6,87.46 754.5,86.76 755.5,86.49" stroke="#a8a468" stroke-width="0.6" fill="none"/>
<polyline points="641.5,88.38 642.5,88.86 643.4,89.31 644.4,88.88 645.3,89.01 646.2,89.83 647.2,90.07 648.1,90.51 649.1,91.31 650.0,91.07 651.0,90.60 652.0,90.89 652.9,90.63 653.9,90.39 654.8,91.06 655.8,91.24 656.7,90.72 657.6,90.78 658.6,90.67 659.5,90.16 660.5,90.66 661.5,91.40 662.4,91.34 663.4,91.57 664.3,91.78 665.2,91.04 666.2,90.75 667.1,91.18 668.1,91.06 669.0,91.09 670.0,91.58 671.0,91.12 671.9,90.39 672.9,90.50 673.8,90.36 674.8,90.22 675.7,91.04 676.6,91.43 677.6,91.05 678.5,91.18 679.5,91.16 680.5,90.63 681.4,91.01 682.4,91.67 683.3,91.49 684.2,91.53 685.2,91.61 686.1,90.76 687.1,90.32 688.0,90.70 689.0,90.62 690.0,90.68 690.9,91.30 691.9,91.03 692.8,90.44 693.8,90.69 694.7,90.71 695.6,90.65 696.6,91.48 697.5,91.93 698.5,91.50 699.5,91.52 700.4,91.42 701.4,90.77 702.3,91.00 703.2,91.63 704.2,91.46 705.1,91.53 706.1,91.76 707.0,91.11 708.0,90.83 709.0,91.44 709.9,91.61 710.9,91.85 711.8,92.62 712.8,92.48 713.7,91.87 714.6,92.01 715.6,91.91 716.5,91.59 717.5,92.14 718.5,92.36 719.4,91.67 720.4,91.42 721.3,91.15 722.2,90.35 723.2,90.44 724.1,91.05 725.1,90.92 726.0,90.99 727.0,91.29 728.0,90.71 728.9,90.40 729.9,90.91 730.8,90.94 731.8,90.92 732.7,91.44 733.6,91.08 734.6,90.15 735.5,89.99 736.5,89.66 737.5,89.10 738.4,89.45 739.4,89.60 740.3,88.85 741.2,88.55 742.2,88.31 743.1,87.52 744.1,87.56 745.0,88.17 746.0,88.00 747.0,87.92 747.9,88.07 748.9,87.28 749.8,86.61 750.8,86.85 751.7,86.65 752.6,86.36 753.6,86.65 754.5,86.16 755.5,85.08" stroke="#34347f" stroke-width="0.6" fill="none"/>
<polyline points="641.5,87.69 642.5,88.76 643.4,88.82 644.4,88.62 645.3,88.94 646.2,88.74 647.2,88.62 648.1,89.55 649.1,90.11 650.0,90.14 651.0,90.71 652.0,90.87 652.9,90.20 653.9,90.50 654.8,91.07 655.8,91.07 656.7,91.56 657.6,91.96 658.6,91.29 659.5,90.94 660.5,91.15 661.5,90.82 662.4,90.90 663.4,91.55 664.3,91.27 665.2,90.71 666.2,90.75 667.1,90.35 668.1,90.01 669.0,90.75 670.0,91.21 671.0,91.06 671.9,91.41 672.9,91.37 673.8,90.68 674.8,90.89 675.7,91.39 676.6,91.26 677.6,91.56 678.5,91.85 679.5,91.06 680.5,90.55 681.4,90.69 682.4,90.37 683.3,90.45 684.2,91.21 685.2,91.12 686.1,90.69 687.1,90.89 688.0,90.66 689.0,90.39 690.0,91.17 690.9,91.67 691.9,91.48 692.8,91.71 693.8,91.58 694.7,90.73 695.6,90.73 696.6,91.12 697.5,90.90 698.5,91.12 699.5,91.46 700.4,90.79 701.4,90.38 702.3,90.71 703.2,90.63 704.2,90.88 705.1,91.87 706.1,92.01 707.0,91.70 708.0,91.96 709.0,91.78 709.9,91.43 710.9,92.07 711.8,92.47 712.8,92.11 713.7,92.15 714.6,91.91 715.6,90.94 716.5,90.81 717.5,91.19 718.5,91.01 719.4,91.24 720.4,91.69 721.3,91.11 722.2,90.70 723.2,91.04 724.1,90.94 725.1,91.05 726.0,91.88 727.0,91.87 728.0,91.31 728.9,91.32 729.9,90.83 730.8,90.09 731.8,90.37 732.7,90.55 733.6,90.00 734.6,89.90 735.5,89.64 736.5,88.65 737.5,88.47 738.4,88.86 739.4,88.66 740.3,88.78 741.2,89.11 742.2,88.36 743.1,87.63 744.1,87.62 745.0,87.16 746.0,86.82 747.0,87.23 747.9,86.88 748.9,85.93 749.8,85.60 750.8,85.00 751.7,84.17 752.6,84.42 753.6,84.70 754.5,84.24 755.5,84.18" stroke="#4aa3a3" stroke-width="0.6" fill="none"/>
</g>
<g stroke="#858585" stroke-width="0.8" fill="none">
<g stroke="#555" stroke-width="0.9">
<line x1="59.60" y1="122.20" x2="59.60" y2="119.60"/>
<line x1="59.60" y1="4.70" x2="59.60" y2="7.30"/>
<line x1="86.00" y1="122.20" x2="86.00" y2="119.60"/>
<line x1="86.00" y1="4.70" x2="86.00" y2="7.30"/>
<line x1="112.40" y1="122.20" x2="112.40" y2="119.60"/>
<line x1="112.40" y1="4.70" x2="112.40" y2="7.30"/>
<line x1="138.80" y1="122.20" x2="138.80" y2="119.60"/>
<line x1="138.80" y1="4.70" x2="138.80" y2="7.30"/>
<line x1="33.40" y1="34.10" x2="36.00" y2="34.10"/>
<line x1="147.50" y1="34.10" x2="144.90" y2="34.10"/>
<line x1="33.40" y1="63.50" x2="36.00" y2="63.50"/>
<line x1="147.50" y1="63.50" x2="144.90" y2="63.50"/>
<line x1="33.40" y1="92.90" x2="36.00" y2="92.90"/>
<line x1="147.50" y1="92.90" x2="144.90" y2="92.90"/>
</g>
<rect x="33.40" y="4.70" width="114.10" height="117.50" fill="none" stroke="#858585" stroke-width="1"/>
<g stroke="#555" stroke-width="0.9">
<line x1="181.20" y1="123.20" x2="181.20" y2="120.60"/>
<line x1="181.20" y1="5.40" x2="181.20" y2="8.00"/>
<line x1="207.60" y1="123.20" x2="207.60" y2="120.60"/>
<line x1="207.60" y1="5.40" x2="207.60" y2="8.00"/>
<line x1="234.00" y1="123.20" x2="234.00" y2="120.60"/>
<line x1="234.00" y1="5.40" x2="234.00" y2="8.00"/>
<line x1="260.40" y1="123.20" x2="260.40" y2="120.60"/>
<line x1="260.40" y1="5.40" x2="260.40" y2="8.00"/>
<line x1="155.00" y1="34.80" x2="157.60" y2="34.80"/>
<line x1="268.40" y1="34.80" x2="265.80" y2="34.80"/>
<line x1="155.00" y1="64.20" x2="157.60" y2="64.20"/>
<line x1="268.40" y1="64.20" x2="265.80" y2="64.20"/>
<line x1="155.00" y1="93.60" x2="157.60" y2="93.60"/>
<line x1="268.40" y1="93.60" x2="265.80" y2="93.60"/>
</g>
<rect x="155.00" y="5.40" width="113.40" height="117.80" fill="none" stroke="#858585" stroke-width="1"/>
<g stroke="#555" stroke-width="0.9">
<line x1="302.00" y1="122.00" x2="302.00" y2="119.40"/>
<line x1="302.00" y1="5.30" x2="302.00" y2="7.90"/>
<line x1="328.40" y1="122.00" x2="328.40" y2="119.40"/>
<line x1="328.40" y1="5.30" x2="328.40" y2="7.90"/>
<line x1="354.80" y1="122.00" x2="354.80" y2="119.40"/>
<line x1="354.80" y1="5.30" x2="354.80" y2="7.90"/>
<line x1="381.20" y1="122.00" x2="381.20" y2="119.40"/>
<line x1="381.20" y1="5.30" x2="381.20" y2="7.90"/>
<line x1="275.80" y1="34.70" x2="278.40" y2="34.70"/>
<line x1="388.60" y1="34.70" x2="386.00" y2="34.70"/>
<line x1="275.80" y1="64.10" x2="278.40" y2="64.10"/>
<line x1="388.60" y1="64.10" x2="386.00" y2="64.10"/>
<line x1="275.80" y1="93.50" x2="278.40" y2="93.50"/>
<line x1="388.60" y1="93.50" x2="386.00" y2="93.50"/>
</g>
<rect x="275.80" y="5.30" width="112.80" height="116.70" fill="none" stroke="#858585" stroke-width="1"/>
<g stroke="#555" stroke-width="0.9">
<line x1="424.60" y1="122.50" x2="424.60" y2="119.90"/>
<line x1="424.60" y1="4.50" x2="424.60" y2="7.10"/>
<line x1="451.00" y1="122.50" x2="451.00" y2="119.90"/>
<line x1="451.00" y1="4.50" x2="451.00" y2="7.10"/>
<line x1="477.40" y1="122.50" x2="477.40" y2="119.90"/>
<line x1="477.40" y1="4.50" x2="477.40" y2="7.10"/>
<line x1="503.80" y1="122.50" x2="503.80" y2="119.90"/>
<line x1="503.80" y1="4.50" x2="503.80" y2="7.10"/>
<line x1="398.40" y1="33.90" x2="401.00" y2="33.90"/>
<line x1="512.60" y1="33.90" x2="510.00" y2="33.90"/>
<line x1="398.40" y1="63.30" x2="401.00" y2="63.30"/>
<line x1="512.60" y1="63.30" x2="510.00" y2="63.30"/>
<line x1="398.40" y1="92.70" x2="401.00" y2="92.70"/>
<line x1="512.60" y1="92.70" x2="510.00" y2="92.70"/>
</g>
<rect x="398.40" y="4.50" width="114.20" height="118.00" fill="none" stroke="#858585" stroke-width="1"/>
<g stroke="#555" stroke-width="0.9">
<line x1="546.50" y1="121.40" x2="546.50" y2="118.80"/>
<line x1="546.50" y1="3.30" x2="546.50" y2="5.90"/>
<line x1="572.90" y1="121.40" x2="572.90" y2="118.80"/>
<line x1="572.90" y1="3.30" x2="572.90" y2="5.90"/>
<line x1="599.30" y1="121.40" x2="599.30" y2="118.80"/>
<line x1="599.30" y1="3.30" x2="599.30" y2="5.90"/>
<line x1="625.70" y1="121.40" x2="625.70" y2="118.80"/>
<line x1="625.70" y1="3.30" x2="625.70" y2="5.90"/>
<line x1="520.30" y1="32.70" x2="522.90" y2="32.70"/>
<line x1="634.20" y1="32.70" x2="631.60" y2="32.70"/>
<line x1="520.30" y1="62.10" x2="522.90" y2="62.10"/>
<line x1="634.20" y1="62.10" x2="631.60" y2="62.10"/>
<line x1="520.30" y1="91.50" x2="522.90" y2="91.50"/>
<line x1="634.20" y1="91.50" x2="631.60" y2="91.50"/>
</g>
<rect x="520.30" y="3.30" width="113.90" height="118.10" fill="none" stroke="#858585" stroke-width="1"/>
<g stroke="#555" stroke-width="0.9">
<line x1="667.70" y1="120.50" x2="667.70" y2="117.90"/>
<line x1="667.70" y1="2.40" x2="667.70" y2="5.00"/>
<line x1="694.10" y1="120.50" x2="694.10" y2="117.90"/>
<line x1="694.10" y1="2.40" x2="694.10" y2="5.00"/>
<line x1="720.50" y1="120.50" x2="720.50" y2="117.90"/>
<line x1="720.50" y1="2.40" x2="720.50" y2="5.00"/>
<line x1="746.90" y1="120.50" x2="746.90" y2="117.90"/>
<line x1="746.90" y1="2.40" x2="746.90" y2="5.00"/>
<line x1="641.50" y1="31.80" x2="644.10" y2="31.80"/>
<line x1="755.50" y1="31.80" x2="752.90" y2="31.80"/>
<line x1="641.50" y1="61.20" x2="644.10" y2="61.20"/>
<line x1="755.50" y1="61.20" x2="752.90" y2="61.20"/>
<line x1="641.50" y1="90.60" x2="644.10" y2="90.60"/>
<line x1="755.50" y1="90.60" x2="752.90" y2="90.60"/>
</g>
<rect x="641.50" y="2.40" width="114.00" height="118.10" fill="none" stroke="#858585" stroke-width="1"/>
</g>
<text x="37.9" y="16.8" font-size="8.8" fill="#1a1a1a" stroke="#1a1a1a" stroke-width="0.12"><tspan font-weight="bold">(a)</tspan> DW bridging after</text>
<text x="37.9" y="26.5" font-size="8.8" font-weight="normal" text-anchor="start" fill="#1a1a1a" stroke="#1a1a1a" stroke-width="0.12" >single adsorption (S-1)</text>
<text x="159.6" y="16.4" font-size="8.8" fill="#1a1a1a" stroke="#1a1a1a" stroke-width="0.12"><tspan font-weight="bold">(b)</tspan> P addition after DW</text>
<text x="159.6" y="26.0" font-size="8.8" font-weight="normal" text-anchor="start" fill="#1a1a1a" stroke="#1a1a1a" stroke-width="0.12" >bridging (S-1)</text>
<text x="280.4" y="16.2" font-size="8.8" fill="#1a1a1a" stroke="#1a1a1a" stroke-width="0.12"><tspan font-weight="bold">(c)</tspan> DW addition after</text>
<text x="280.4" y="25.9" font-size="8.8" font-weight="normal" text-anchor="start" fill="#1a1a1a" stroke="#1a1a1a" stroke-width="0.12" >simultaneous adsorption</text>
<text x="280.4" y="36.5" font-size="8.8" font-weight="normal" text-anchor="start" fill="#1a1a1a" stroke="#1a1a1a" stroke-width="0.12" >(S-2)</text>
<text x="402.4" y="15.6" font-size="8.8" fill="#1a1a1a" stroke="#1a1a1a" stroke-width="0.12"><tspan font-weight="bold">(d)</tspan> P addition after</text>
<text x="402.4" y="25.4" font-size="8.8" font-weight="normal" text-anchor="start" fill="#1a1a1a" stroke="#1a1a1a" stroke-width="0.12" >simultaneous adsorption</text>
<text x="402.4" y="36.0" font-size="8.8" font-weight="normal" text-anchor="start" fill="#1a1a1a" stroke="#1a1a1a" stroke-width="0.12" >(S-3)</text>
<text x="525.7" y="15.7" font-size="8.8" fill="#1a1a1a" stroke="#1a1a1a" stroke-width="0.12"><tspan font-weight="bold">(e)</tspan> DW bridging without</text>
<text x="525.7" y="25.7" font-size="8.8" font-weight="normal" text-anchor="start" fill="#1a1a1a" stroke="#1a1a1a" stroke-width="0.12" >dehydration (S-4)</text>
<text x="646.0" y="14.2" font-size="8.8" fill="#1a1a1a" stroke="#1a1a1a" stroke-width="0.12"><tspan font-weight="bold">(f)</tspan> DW addition after DW</text>
<text x="646.0" y="23.7" font-size="8.8" font-weight="normal" text-anchor="start" fill="#1a1a1a" stroke="#1a1a1a" stroke-width="0.12" >bridging (S-4)</text>
<text x="29.0" y="8.5" font-size="8.5" font-weight="normal" text-anchor="end" fill="#1e1e1e" stroke="#1e1e1e" stroke-width="0.3" >0.09</text>
<text x="29.0" y="37.3" font-size="8.5" font-weight="normal" text-anchor="end" fill="#1e1e1e" stroke="#1e1e1e" stroke-width="0.3" >0.06</text>
<text x="29.0" y="66.0" font-size="8.5" font-weight="normal" text-anchor="end" fill="#1e1e1e" stroke="#1e1e1e" stroke-width="0.3" >0.03</text>
<text x="29.0" y="95.5" font-size="8.5" font-weight="normal" text-anchor="end" fill="#1e1e1e" stroke="#1e1e1e" stroke-width="0.3" >0.00</text>
<text x="29.0" y="124.1" font-size="8.5" font-weight="normal" text-anchor="end" fill="#1e1e1e" stroke="#1e1e1e" stroke-width="0.3" >-0.03</text>
<text transform="translate(8.2,65) rotate(-90)" font-size="8.3" font-weight="bold" text-anchor="middle" fill="#1e1e1e" stroke="#1e1e1e" stroke-width="0.3">Absorbance</text>
<text x="28.6" y="141.2" font-size="8.5" font-weight="normal" text-anchor="end" fill="#1e1e1e" stroke="#1e1e1e" stroke-width="0.3" >900</text>
<text x="28.6" y="166.6" font-size="8.5" font-weight="normal" text-anchor="end" fill="#1e1e1e" stroke="#1e1e1e" stroke-width="0.3" >1050</text>
<text x="28.6" y="193.9" font-size="8.5" font-weight="normal" text-anchor="end" fill="#1e1e1e" stroke="#1e1e1e" stroke-width="0.3" >1200</text>
<text x="28.6" y="220.4" font-size="8.5" font-weight="normal" text-anchor="end" fill="#1e1e1e" stroke="#1e1e1e" stroke-width="0.3" >1350</text>
<text x="28.6" y="246.3" font-size="8.5" font-weight="normal" text-anchor="end" fill="#1e1e1e" stroke="#1e1e1e" stroke-width="0.3" >1500</text>
<text transform="translate(8.2,185) rotate(-90)" font-size="8.2" font-weight="bold" text-anchor="middle" fill="#1e1e1e" stroke="#1e1e1e" stroke-width="0.3">Wavenumber (cm<tspan font-size="5.5" dy="-3">-1</tspan><tspan dy="3">)</tspan></text>
<text x="55.5" y="254.0" font-size="8.5" font-weight="normal" text-anchor="middle" fill="#1e1e1e" stroke="#1e1e1e" stroke-width="0.3" >1350</text>
<text x="82.7" y="254.0" font-size="8.5" font-weight="normal" text-anchor="middle" fill="#1e1e1e" stroke="#1e1e1e" stroke-width="0.3" >1200</text>
<text x="112.5" y="254.0" font-size="8.5" font-weight="normal" text-anchor="middle" fill="#1e1e1e" stroke="#1e1e1e" stroke-width="0.3" >1050</text>
<text x="138.9" y="254.0" font-size="8.5" font-weight="normal" text-anchor="middle" fill="#1e1e1e" stroke="#1e1e1e" stroke-width="0.3" >900</text>
<text x="88.5" y="262.6" font-size="8.85" font-weight="bold" text-anchor="middle" fill="#1e1e1e" stroke="#1e1e1e" stroke-width="0.3">Wavenumber (cm<tspan font-size="5.5" dy="-3">-1</tspan><tspan dy="3">)</tspan></text>
<text x="177.0" y="254.0" font-size="8.5" font-weight="normal" text-anchor="middle" fill="#1e1e1e" stroke="#1e1e1e" stroke-width="0.3" >1350</text>
<text x="204.0" y="254.0" font-size="8.5" font-weight="normal" text-anchor="middle" fill="#1e1e1e" stroke="#1e1e1e" stroke-width="0.3" >1200</text>
<text x="233.4" y="254.0" font-size="8.5" font-weight="normal" text-anchor="middle" fill="#1e1e1e" stroke="#1e1e1e" stroke-width="0.3" >1050</text>
<text x="260.2" y="254.0" font-size="8.5" font-weight="normal" text-anchor="middle" fill="#1e1e1e" stroke="#1e1e1e" stroke-width="0.3" >900</text>
<text x="209.6" y="262.6" font-size="8.85" font-weight="bold" text-anchor="middle" fill="#1e1e1e" stroke="#1e1e1e" stroke-width="0.3">Wavenumber (cm<tspan font-size="5.5" dy="-3">-1</tspan><tspan dy="3">)</tspan></text>
<text x="298.6" y="254.0" font-size="8.5" font-weight="normal" text-anchor="middle" fill="#1e1e1e" stroke="#1e1e1e" stroke-width="0.3" >1350</text>
<text x="325.8" y="254.0" font-size="8.5" font-weight="normal" text-anchor="middle" fill="#1e1e1e" stroke="#1e1e1e" stroke-width="0.3" >1200</text>
<text x="355.4" y="254.0" font-size="8.5" font-weight="normal" text-anchor="middle" fill="#1e1e1e" stroke="#1e1e1e" stroke-width="0.3" >1050</text>
<text x="382.2" y="254.0" font-size="8.5" font-weight="normal" text-anchor="middle" fill="#1e1e1e" stroke="#1e1e1e" stroke-width="0.3" >900</text>
<text x="331.4" y="262.6" font-size="8.85" font-weight="bold" text-anchor="middle" fill="#1e1e1e" stroke="#1e1e1e" stroke-width="0.3">Wavenumber (cm<tspan font-size="5.5" dy="-3">-1</tspan><tspan dy="3">)</tspan></text>
<text x="421.5" y="254.0" font-size="8.5" font-weight="normal" text-anchor="middle" fill="#1e1e1e" stroke="#1e1e1e" stroke-width="0.3" >1350</text>
<text x="448.7" y="254.0" font-size="8.5" font-weight="normal" text-anchor="middle" fill="#1e1e1e" stroke="#1e1e1e" stroke-width="0.3" >1200</text>
<text x="478.5" y="254.0" font-size="8.5" font-weight="normal" text-anchor="middle" fill="#1e1e1e" stroke="#1e1e1e" stroke-width="0.3" >1050</text>
<text x="505.1" y="254.0" font-size="8.5" font-weight="normal" text-anchor="middle" fill="#1e1e1e" stroke="#1e1e1e" stroke-width="0.3" >900</text>
<text x="454.7" y="262.6" font-size="8.85" font-weight="bold" text-anchor="middle" fill="#1e1e1e" stroke="#1e1e1e" stroke-width="0.3">Wavenumber (cm<tspan font-size="5.5" dy="-3">-1</tspan><tspan dy="3">)</tspan></text>
<text x="543.8" y="254.0" font-size="8.5" font-weight="normal" text-anchor="middle" fill="#1e1e1e" stroke="#1e1e1e" stroke-width="0.3" >1350</text>
<text x="571.0" y="254.0" font-size="8.5" font-weight="normal" text-anchor="middle" fill="#1e1e1e" stroke="#1e1e1e" stroke-width="0.3" >1200</text>
<text x="600.9" y="254.0" font-size="8.5" font-weight="normal" text-anchor="middle" fill="#1e1e1e" stroke="#1e1e1e" stroke-width="0.3" >1050</text>
<text x="627.3" y="254.0" font-size="8.5" font-weight="normal" text-anchor="middle" fill="#1e1e1e" stroke="#1e1e1e" stroke-width="0.3" >900</text>
<text x="576.7" y="262.6" font-size="8.85" font-weight="bold" text-anchor="middle" fill="#1e1e1e" stroke="#1e1e1e" stroke-width="0.3">Wavenumber (cm<tspan font-size="5.5" dy="-3">-1</tspan><tspan dy="3">)</tspan></text>
<text x="665.0" y="254.0" font-size="8.5" font-weight="normal" text-anchor="middle" fill="#1e1e1e" stroke="#1e1e1e" stroke-width="0.3" >1350</text>
<text x="691.9" y="254.0" font-size="8.5" font-weight="normal" text-anchor="middle" fill="#1e1e1e" stroke="#1e1e1e" stroke-width="0.3" >1200</text>
<text x="721.9" y="254.0" font-size="8.5" font-weight="normal" text-anchor="middle" fill="#1e1e1e" stroke="#1e1e1e" stroke-width="0.3" >1050</text>
<text x="748.2" y="254.0" font-size="8.5" font-weight="normal" text-anchor="middle" fill="#1e1e1e" stroke="#1e1e1e" stroke-width="0.3" >900</text>
<text x="697.5" y="262.6" font-size="8.85" font-weight="bold" text-anchor="middle" fill="#1e1e1e" stroke="#1e1e1e" stroke-width="0.3">Wavenumber (cm<tspan font-size="5.5" dy="-3">-1</tspan><tspan dy="3">)</tspan></text>
<text x="37.9" y="142.7" font-size="9.1" font-weight="bold" text-anchor="start" fill="#1e1e1e" stroke="#1e1e1e" stroke-width="0.3" >(a-syn.)</text>
<text x="159.5" y="143.4" font-size="9.1" font-weight="bold" text-anchor="start" fill="#1e1e1e" stroke="#1e1e1e" stroke-width="0.3" >(b-syn.)</text>
<text x="280.3" y="142.7" font-size="9.1" font-weight="bold" text-anchor="start" fill="#1e1e1e" stroke="#1e1e1e" stroke-width="0.3" >(c-syn.)</text>
<text x="402.3" y="140.3" font-size="9.1" font-weight="bold" text-anchor="start" fill="#1e1e1e" stroke="#1e1e1e" stroke-width="0.3" >(d-syn.)</text>
<text x="525.5" y="141.0" font-size="9.1" font-weight="bold" text-anchor="start" fill="#1e1e1e" stroke="#1e1e1e" stroke-width="0.3" >(e-syn.)</text>
<text x="645.5" y="139.4" font-size="9.1" font-weight="bold" text-anchor="start" fill="#1e1e1e" stroke="#1e1e1e" stroke-width="0.3" >(f-syn.)</text>
<text x="113.5" y="147.8" font-size="6.2" font-weight="normal" text-anchor="end" fill="#1e1e1e" stroke="#1e1e1e" stroke-width="0.12" >933</text><line x1="116.8" y1="144.9" x2="126.8" y2="144.9" stroke="#1a1a1a" stroke-width="0.75"/><path d="M129.3,144.9 L126.0,143.4 L126.0,146.4 Z" fill="#1a1a1a"/>
<text x="105.6" y="159.1" font-size="6.2" font-weight="normal" text-anchor="end" fill="#1e1e1e" stroke="#1e1e1e" stroke-width="0.12" >1007</text><line x1="106.7" y1="156.4" x2="116.6" y2="156.4" stroke="#1a1a1a" stroke-width="0.75"/><path d="M119.1,156.4 L115.8,154.9 L115.8,157.9 Z" fill="#1a1a1a"/>
<text x="96.1" y="167.4" font-size="6.2" font-weight="normal" text-anchor="end" fill="#1e1e1e" stroke="#1e1e1e" stroke-width="0.12" >1053</text><line x1="96.5" y1="164.1" x2="106.5" y2="164.1" stroke="#1a1a1a" stroke-width="0.75"/><path d="M109.0,164.1 L105.7,162.6 L105.7,165.6 Z" fill="#1a1a1a"/>
<text x="90.9" y="174.2" font-size="6.2" font-weight="normal" text-anchor="end" fill="#1e1e1e" stroke="#1e1e1e" stroke-width="0.12" >1091</text><line x1="91.4" y1="171.5" x2="100.8" y2="171.5" stroke="#1a1a1a" stroke-width="0.75"/><path d="M103.3,171.5 L100.0,170.0 L100.0,173.0 Z" fill="#1a1a1a"/>
<text x="83.5" y="181.0" font-size="6.2" font-weight="normal" text-anchor="end" fill="#1e1e1e" stroke="#1e1e1e" stroke-width="0.12" >1149</text><line x1="84.1" y1="178.0" x2="94.0" y2="178.0" stroke="#1a1a1a" stroke-width="0.75"/><path d="M96.5,178.0 L93.2,176.5 L93.2,179.5 Z" fill="#1a1a1a"/>
<text x="235.7" y="148.2" font-size="6.2" font-weight="normal" text-anchor="end" fill="#1e1e1e" stroke="#1e1e1e" stroke-width="0.12" >953</text><line x1="238.0" y1="145.4" x2="249.0" y2="145.4" stroke="#1a1a1a" stroke-width="0.75"/><path d="M251.5,145.4 L248.2,143.9 L248.2,146.9 Z" fill="#1a1a1a"/>
<text x="212.0" y="173.1" font-size="6.2" font-weight="normal" text-anchor="end" fill="#1e1e1e" stroke="#1e1e1e" stroke-width="0.12" >1077</text><line x1="212.7" y1="170.4" x2="223.1" y2="170.4" stroke="#1a1a1a" stroke-width="0.75"/><path d="M225.6,170.4 L222.3,168.9 L222.3,171.9 Z" fill="#1a1a1a"/>
<text x="212.0" y="179.4" font-size="6.2" font-weight="normal" text-anchor="end" fill="#1e1e1e" stroke="#1e1e1e" stroke-width="0.12" >1125</text><line x1="212.7" y1="176.5" x2="217.4" y2="176.5" stroke="#1a1a1a" stroke-width="0.75"/><path d="M219.9,176.5 L216.6,175.0 L216.6,178.0 Z" fill="#1a1a1a"/>
<text x="366.8" y="136.7" font-size="6.2" font-weight="normal" text-anchor="end" fill="#1e1e1e" stroke="#1e1e1e" stroke-width="0.12" >870</text><line x1="369.1" y1="133.3" x2="380.8" y2="133.3" stroke="#1a1a1a" stroke-width="0.75"/><path d="M383.3,133.3 L380.0,131.8 L380.0,134.8 Z" fill="#1a1a1a"/>
<text x="330.0" y="176.2" font-size="6.2" font-weight="normal" text-anchor="end" fill="#1e1e1e" stroke="#1e1e1e" stroke-width="0.12" >1110</text><line x1="330.8" y1="173.1" x2="341.8" y2="173.1" stroke="#1a1a1a" stroke-width="0.75"/><path d="M344.3,173.1 L341.0,171.6 L341.0,174.6 Z" fill="#1a1a1a"/>
<text x="466.3" y="158.7" font-size="6.2" font-weight="normal" text-anchor="end" fill="#1e1e1e" stroke="#1e1e1e" stroke-width="0.12" >1011</text><line x1="469.3" y1="155.8" x2="480.3" y2="155.8" stroke="#1a1a1a" stroke-width="0.75"/><path d="M482.8,155.8 L479.5,154.3 L479.5,157.3 Z" fill="#1a1a1a"/>
<text x="453.2" y="173.9" font-size="6.2" font-weight="normal" text-anchor="end" fill="#1e1e1e" stroke="#1e1e1e" stroke-width="0.12" >1087</text><line x1="456.0" y1="171.2" x2="466.1" y2="171.2" stroke="#1a1a1a" stroke-width="0.75"/><path d="M468.6,171.2 L465.3,169.7 L465.3,172.7 Z" fill="#1a1a1a"/>
<text x="587.0" y="162.0" font-size="6.2" font-weight="normal" text-anchor="end" fill="#1e1e1e" stroke="#1e1e1e" stroke-width="0.12" >1010</text><line x1="589.4" y1="158.9" x2="600.0" y2="158.9" stroke="#1a1a1a" stroke-width="0.75"/><path d="M602.5,158.9 L599.2,157.4 L599.2,160.4 Z" fill="#1a1a1a"/>
<text x="577.1" y="171.5" font-size="6.2" font-weight="normal" text-anchor="end" fill="#1e1e1e" stroke="#1e1e1e" stroke-width="0.12" >1082</text><line x1="578.8" y1="168.8" x2="589.3" y2="168.8" stroke="#1a1a1a" stroke-width="0.75"/><path d="M591.8,168.8 L588.5,167.3 L588.5,170.3 Z" fill="#1a1a1a"/>
<text x="572.4" y="177.7" font-size="6.2" font-weight="normal" text-anchor="end" fill="#1e1e1e" stroke="#1e1e1e" stroke-width="0.12" >1122</text><line x1="573.6" y1="174.8" x2="584.1" y2="174.8" stroke="#1a1a1a" stroke-width="0.75"/><path d="M586.6,174.8 L583.3,173.3 L583.3,176.3 Z" fill="#1a1a1a"/>
<text x="187.9" y="242.7" font-size="6.2" font-weight="normal" text-anchor="end" fill="#1e1e1e" stroke="#1e1e1e" stroke-width="0.3" >1495</text>
<text x="400.4" y="42.4" font-size="5.3" font-weight="normal" text-anchor="start" fill="#a0a0a0" stroke="#a0a0a0" stroke-width="0.08" >150 min</text>
<text x="400.4" y="47.1" font-size="5.3" font-weight="normal" text-anchor="start" fill="#7fb5b0" stroke="#7fb5b0" stroke-width="0.08" >120 min</text>
<text x="400.4" y="52.1" font-size="5.3" font-weight="normal" text-anchor="start" fill="#a070b0" stroke="#a070b0" stroke-width="0.08" >60 min</text>
<text x="400.4" y="56.9" font-size="5.3" font-weight="normal" text-anchor="start" fill="#50509a" stroke="#50509a" stroke-width="0.08" >50 min</text>
<text x="400.4" y="62.6" font-size="5.3" font-weight="normal" text-anchor="start" fill="#b8b080" stroke="#b8b080" stroke-width="0.08" >40 min</text>
<text x="400.4" y="67.8" font-size="5.3" font-weight="normal" text-anchor="start" fill="#50a060" stroke="#50a060" stroke-width="0.08" >30 min</text>
<text x="400.4" y="72.8" font-size="5.3" font-weight="normal" text-anchor="start" fill="#a05050" stroke="#a05050" stroke-width="0.08" >25 min</text>
<text x="400.4" y="78.5" font-size="5.3" font-weight="normal" text-anchor="start" fill="#c8c8c8" stroke="#c8c8c8" stroke-width="0.08" >20 min</text>
<text x="400.4" y="84.2" font-size="5.3" font-weight="normal" text-anchor="start" fill="#50d0d8" stroke="#50d0d8" stroke-width="0.08" >15 min</text>
<text x="400.4" y="89.2" font-size="5.3" font-weight="normal" text-anchor="start" fill="#d040c0" stroke="#d040c0" stroke-width="0.08" >10 min</text>
<text x="400.4" y="102.1" font-size="5.3" font-weight="normal" text-anchor="start" fill="#5050d0" stroke="#5050d0" stroke-width="0.08" >300 s</text>
<text x="400.4" y="109.1" font-size="5.3" font-weight="normal" text-anchor="start" fill="#e8e040" stroke="#e8e040" stroke-width="0.08" >180 s</text>
<text x="400.4" y="115.6" font-size="5.3" font-weight="normal" text-anchor="start" fill="#40c840" stroke="#40c840" stroke-width="0.08" >60 s</text>
<text x="400.4" y="121.8" font-size="5.3" font-weight="normal" text-anchor="start" fill="#d04040" stroke="#d04040" stroke-width="0.08" >40 s</text>
</svg>
</body></html>
